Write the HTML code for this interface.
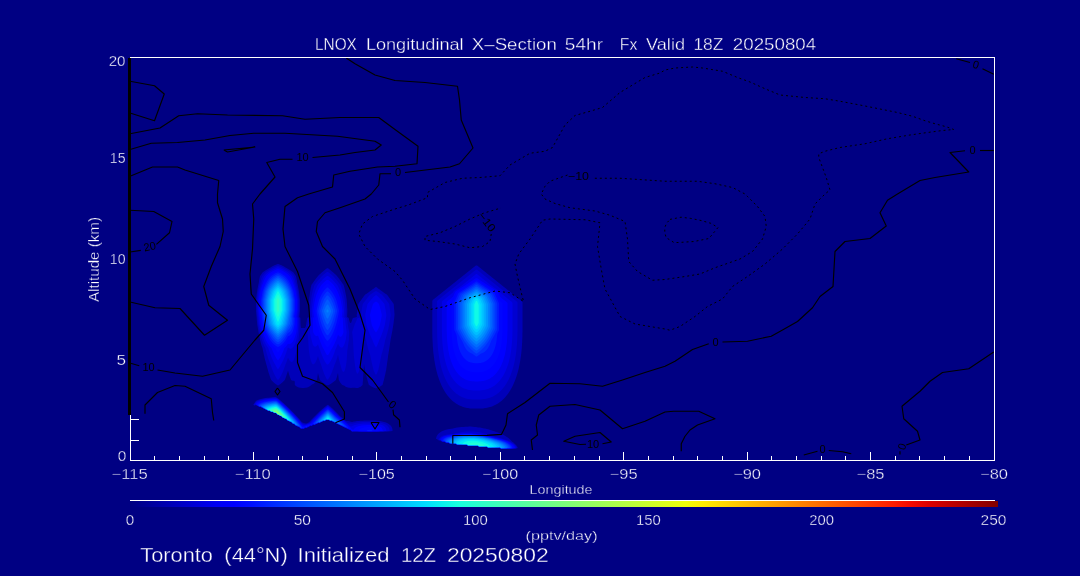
<!DOCTYPE html><html><head><meta charset="utf-8"><title>LNOX Longitudinal X-Section</title><style>html,body{margin:0;padding:0;background:#000083;}svg{display:block}text{font-family:"Liberation Sans",Arial,sans-serif;fill:#fff}.w{stroke:#000083;stroke-width:0.35px}</style></head><body>
<svg width="1080" height="576" viewBox="0 0 1080 576">
<rect width="1080" height="576" fill="#000083"/>
<g id="field"><path fill="#0000b9" fill-rule="evenodd" d="M276.0 264.7L277.0 264.3L278.0 264.0L279.0 264.3L280.0 264.7L280.8 265.0L281.0 265.1L282.0 265.6L282.9 266.0L283.0 266.1L284.0 266.6L284.7 267.0L285.0 267.2L286.0 267.7L286.4 268.0L287.0 268.3L288.0 268.9L288.1 269.0L289.0 269.5L289.8 270.0L290.0 270.1L291.0 270.8L291.4 271.0L292.0 271.4L293.0 272.0L293.0 272.0L293.8 273.0L294.0 273.3L294.5 274.0L295.0 274.7L295.2 275.0L295.9 276.0L296.0 276.2L296.2 277.0L296.4 278.0L296.6 279.0L296.8 280.0L297.0 281.0L297.0 281.3L297.1 282.0L297.2 283.0L297.5 284.0L297.7 285.0L297.9 286.0L298.0 286.6L298.1 287.0L298.3 288.0L298.5 289.0L298.7 290.0L298.8 291.0L299.0 292.0L299.0 292.1L299.1 293.0L299.3 294.0L299.4 295.0L299.5 296.0L299.6 297.0L299.8 298.0L299.9 299.0L300.0 299.7L300.0 300.0L300.0 301.0L300.0 302.0L300.0 303.0L300.0 304.0L300.0 305.0L300.0 306.0L300.0 307.0L300.0 308.0L300.0 309.0L300.0 310.0L300.0 310.5L300.0 311.0L299.9 312.0L299.8 313.0L299.7 314.0L299.6 315.0L299.5 316.0L299.4 317.0L300.0 317.6L300.4 318.0L300.4 319.0L300.4 320.0L300.5 321.0L300.5 322.0L300.5 323.0L300.6 324.0L300.6 325.0L300.7 326.0L300.8 327.0L301.0 328.0L301.0 328.1L302.0 328.0L303.0 328.0L304.0 328.0L305.0 328.1L305.0 328.0L305.6 327.0L305.9 326.0L306.0 325.7L306.1 325.0L306.3 324.0L306.4 323.0L306.6 322.0L306.8 321.0L306.9 320.0L307.0 319.3L307.1 319.0L307.2 318.0L308.0 317.5L308.8 317.0L308.7 316.0L308.7 315.0L308.6 314.0L308.6 313.0L308.5 312.0L308.5 311.0L308.6 310.0L308.6 309.0L308.7 308.0L308.7 307.0L308.8 306.0L308.8 305.0L308.9 304.0L309.0 303.0L309.0 302.3L309.0 302.0L309.1 301.0L309.2 300.0L309.2 299.0L309.3 298.0L309.4 297.0L309.6 296.0L309.7 295.0L309.8 294.0L309.9 293.0L310.0 292.5L310.1 292.0L310.2 291.0L310.4 290.0L310.6 289.0L310.7 288.0L310.9 287.0L311.0 286.8L311.2 286.0L311.4 285.0L312.0 284.1L312.1 284.0L312.8 283.0L313.0 282.7L313.5 282.0L314.0 281.3L314.2 281.0L315.0 280.0L315.0 279.9L315.7 279.0L316.0 278.6L316.5 278.0L317.0 277.3L317.3 277.0L318.0 276.1L318.1 276.0L318.9 275.0L319.0 274.9L320.0 274.1L320.1 274.0L321.0 273.2L321.2 273.0L322.0 272.3L322.4 272.0L323.0 271.5L323.6 271.0L324.0 270.6L324.8 270.0L325.0 269.8L326.0 269.0L326.0 269.0L327.0 268.3L328.0 268.3L329.0 269.0L329.0 269.0L330.0 269.8L330.2 270.0L331.0 270.6L331.4 271.0L332.0 271.5L332.6 272.0L333.0 272.3L333.8 273.0L334.0 273.2L334.9 274.0L335.0 274.1L336.0 274.9L336.1 275.0L336.9 276.0L337.0 276.1L337.7 277.0L338.0 277.3L338.5 278.0L339.0 278.6L339.3 279.0L340.0 279.9L340.0 280.0L340.8 281.0L341.0 281.3L341.5 282.0L342.0 282.7L342.2 283.0L342.9 284.0L343.0 284.1L343.6 285.0L343.9 286.0L344.0 286.4L344.2 287.0L344.4 288.0L344.7 289.0L344.9 290.0L345.0 290.5L345.1 291.0L345.3 292.0L345.5 293.0L345.7 294.0L345.9 295.0L346.0 295.5L346.1 296.0L346.3 297.0L346.4 298.0L346.6 299.0L346.7 300.0L346.7 301.0L346.8 302.0L346.9 303.0L347.0 304.0L347.0 304.6L347.0 305.0L347.1 306.0L347.1 307.0L347.2 308.0L347.3 309.0L347.3 310.0L347.4 311.0L347.3 312.0L347.3 313.0L347.2 314.0L347.2 315.0L347.1 316.0L347.1 317.0L348.0 317.6L348.8 318.0L348.9 319.0L349.0 319.6L349.1 320.0L349.4 321.0L349.7 322.0L350.0 322.8L351.0 323.0L351.4 322.0L351.8 321.0L352.0 320.4L352.1 320.0L352.5 319.0L352.9 318.0L353.0 318.0L354.0 317.7L355.0 317.5L356.0 317.2L356.9 317.0L356.8 316.0L356.7 315.0L356.9 314.0L357.0 313.1L357.0 313.0L357.2 312.0L357.3 311.0L357.4 310.0L357.6 309.0L357.7 308.0L357.9 307.0L358.0 306.1L358.0 306.0L358.2 305.0L358.3 304.0L359.0 303.0L359.0 303.0L359.7 302.0L360.0 301.6L360.4 301.0L361.0 300.2L361.2 300.0L361.9 299.0L362.0 298.8L362.6 298.0L363.0 297.4L363.3 297.0L364.0 296.1L364.0 296.0L364.8 295.0L365.0 294.8L366.0 294.1L366.2 294.0L367.0 293.4L367.6 293.0L368.0 292.7L369.0 292.0L369.0 292.0L370.0 291.3L370.4 291.0L371.0 290.6L371.8 290.0L372.0 289.8L373.0 289.1L373.1 289.0L374.0 288.4L374.5 288.0L375.0 287.6L376.0 287.0L377.0 287.6L377.5 288.0L378.0 288.4L378.9 289.0L379.0 289.1L380.0 289.8L380.2 290.0L381.0 290.6L381.6 291.0L382.0 291.3L383.0 292.0L383.0 292.0L384.0 292.7L384.4 293.0L385.0 293.4L385.8 294.0L386.0 294.1L387.0 294.8L387.2 295.0L388.0 296.0L388.0 296.1L388.7 297.0L389.0 297.4L389.4 298.0L390.0 298.8L390.1 299.0L390.8 300.0L391.0 300.2L391.6 301.0L392.0 301.6L392.3 302.0L393.0 303.0L393.0 303.0L393.7 304.0L393.8 305.0L393.9 306.0L393.9 307.0L394.0 307.8L394.0 308.0L394.1 309.0L394.2 310.0L394.3 311.0L394.3 312.0L394.4 313.0L394.5 314.0L394.5 315.0L394.4 316.0L394.3 317.0L394.2 318.0L394.1 319.0L394.0 319.4L393.9 320.0L393.8 321.0L393.7 322.0L393.6 323.0L393.4 324.0L393.3 325.0L393.1 326.0L393.0 326.8L393.0 327.0L392.8 328.0L392.6 329.0L392.5 330.0L392.3 331.0L392.1 332.0L392.0 332.5L391.9 333.0L391.7 334.0L391.5 335.0L391.3 336.0L391.1 337.0L391.0 337.6L390.9 338.0L390.7 339.0L390.5 340.0L390.4 341.0L390.2 342.0L390.1 343.0L390.0 343.8L390.0 344.0L389.8 345.0L389.7 346.0L389.5 347.0L389.4 348.0L389.2 349.0L389.1 350.0L389.0 350.5L388.9 351.0L388.7 352.0L388.6 353.0L388.4 354.0L388.2 355.0L388.1 356.0L388.0 356.6L388.0 357.0L387.8 358.0L387.7 359.0L387.6 360.0L387.4 361.0L387.3 362.0L387.1 363.0L387.0 364.0L387.0 364.1L386.9 365.0L386.7 366.0L386.6 367.0L386.4 368.0L386.3 369.0L386.2 370.0L386.0 370.8L385.9 371.0L385.7 372.0L385.5 373.0L385.3 374.0L385.1 375.0L385.0 375.3L384.8 376.0L384.6 377.0L384.4 378.0L384.1 379.0L384.0 379.5L383.9 380.0L383.6 381.0L383.3 382.0L383.1 383.0L383.0 383.2L382.8 384.0L382.5 385.0L382.0 385.3L381.0 386.0L381.0 386.0L380.0 386.6L379.3 387.0L379.0 387.1L378.0 387.6L377.1 388.0L377.0 388.1L376.0 388.4L375.0 388.1L374.8 388.0L374.0 387.7L373.0 387.2L372.5 387.0L372.0 386.8L371.0 386.2L370.6 386.0L370.0 385.6L369.0 385.0L368.9 385.0L368.6 384.0L368.3 383.0L368.0 382.0L368.0 382.0L367.7 381.0L367.4 380.0L367.2 379.0L367.0 378.4L366.9 378.0L366.6 377.0L366.4 376.0L366.1 375.0L366.0 374.5L365.9 374.0L365.6 373.0L365.4 372.0L365.2 371.0L365.0 370.2L365.0 370.0L364.8 369.0L364.7 368.0L364.5 367.0L364.3 366.0L364.2 365.0L364.0 364.0L364.0 363.7L364.0 364.0L363.9 365.0L363.9 366.0L363.8 367.0L363.8 368.0L363.7 369.0L363.7 370.0L363.6 371.0L363.5 372.0L363.5 373.0L363.4 374.0L363.3 375.0L363.2 376.0L363.2 377.0L363.1 378.0L363.0 379.0L363.0 379.7L363.0 380.0L362.9 381.0L362.8 382.0L362.7 383.0L362.7 384.0L362.6 385.0L362.0 385.6L361.5 386.0L361.0 386.5L360.2 387.0L360.0 387.1L359.0 387.6L358.0 387.9L357.2 388.0L357.0 388.0L356.5 388.0L356.0 388.0L355.0 387.8L354.0 387.7L353.0 387.8L352.0 387.8L351.0 387.9L350.0 387.8L349.0 387.8L348.0 387.6L347.0 387.3L346.3 387.0L346.0 386.9L345.0 386.2L344.8 386.0L344.0 385.4L343.0 385.2L342.5 385.0L342.0 384.7L341.4 384.0L341.0 383.6L340.6 383.0L340.0 382.2L339.9 382.0L339.4 381.0L339.0 380.3L338.8 380.0L338.7 379.0L338.6 378.0L338.5 377.0L338.4 376.0L338.3 375.0L338.1 374.0L338.0 373.0L338.0 372.9L338.0 373.0L337.7 374.0L337.4 375.0L337.2 376.0L337.0 376.5L336.9 377.0L336.6 378.0L336.2 379.0L336.0 379.7L335.9 380.0L335.0 380.8L334.7 381.0L334.0 381.6L333.4 382.0L333.0 382.3L332.0 383.0L332.0 383.0L331.0 383.7L330.5 384.0L330.0 384.3L329.0 384.9L328.7 385.0L328.0 385.3L327.0 385.3L326.4 385.0L326.0 384.8L325.0 384.2L324.7 384.0L324.0 383.5L323.3 383.0L323.0 382.8L322.1 382.0L322.0 381.9L321.0 381.0L320.9 381.0L320.0 380.1L319.9 380.0L319.6 379.0L319.3 378.0L319.0 377.0L319.0 376.9L318.8 376.0L318.5 375.0L318.2 374.0L318.0 373.0L317.8 374.0L317.7 375.0L317.5 376.0L317.4 377.0L317.2 378.0L317.1 379.0L317.0 379.4L316.9 380.0L316.2 381.0L316.0 381.3L315.4 382.0L315.0 382.5L314.5 383.0L314.0 383.5L313.1 384.0L313.0 384.1L312.0 384.4L311.3 385.0L311.0 385.2L310.0 386.0L310.0 386.0L309.0 386.7L308.3 387.0L308.0 387.2L307.0 387.5L306.0 387.7L305.0 387.8L304.0 387.9L303.0 387.9L302.0 387.9L301.0 387.8L300.0 387.7L299.0 387.5L298.0 387.2L297.7 387.0L297.0 386.7L296.0 386.0L296.0 386.0L295.0 385.2L294.8 385.0L294.8 384.0L294.8 383.0L294.8 382.0L294.5 381.0L294.0 380.7L293.0 380.8L292.0 380.5L291.0 380.0L291.0 379.9L290.7 379.0L290.3 378.0L290.0 377.3L289.9 377.0L289.6 376.0L289.3 375.0L289.0 374.2L289.0 374.0L288.7 373.0L288.4 372.0L288.1 371.0L288.0 370.5L287.9 371.0L287.6 372.0L287.3 373.0L287.0 373.8L286.9 374.0L286.6 375.0L286.3 376.0L286.0 376.8L285.9 377.0L285.6 378.0L285.2 379.0L285.0 379.5L284.8 380.0L284.0 380.8L283.8 381.0L283.0 381.8L282.8 382.0L282.0 382.7L281.7 383.0L281.0 383.6L280.5 384.0L280.0 384.3L279.0 385.0L279.0 385.0L278.0 385.5L277.0 385.0L277.0 385.0L276.0 384.3L275.5 384.0L275.0 383.6L274.3 383.0L274.0 382.7L273.2 382.0L273.0 381.8L272.2 381.0L272.0 380.8L271.2 380.0L271.0 379.5L270.8 379.0L270.4 378.0L270.1 377.0L270.0 376.8L269.7 376.0L269.4 375.0L269.1 374.0L269.0 373.8L268.7 373.0L268.4 372.0L268.1 371.0L268.0 370.5L267.9 370.0L267.6 369.0L267.3 368.0L267.0 367.0L267.0 366.8L266.8 366.0L266.5 365.0L266.2 364.0L266.0 363.2L265.9 363.0L265.7 362.0L265.4 361.0L265.1 360.0L265.0 359.5L264.9 359.0L264.6 358.0L264.4 357.0L264.2 356.0L264.0 355.3L263.9 355.0L263.7 354.0L263.5 353.0L263.3 352.0L263.1 351.0L263.0 350.7L262.9 350.0L262.7 349.0L262.5 348.0L262.1 347.0L262.0 346.8L261.7 346.0L261.4 345.0L261.1 344.0L261.0 343.7L260.8 343.0L260.6 342.0L260.3 341.0L260.1 340.0L260.0 339.6L259.9 339.0L259.7 338.0L259.5 337.0L259.3 336.0L259.1 335.0L259.0 334.5L258.9 334.0L258.7 333.0L258.5 332.0L258.3 331.0L258.2 330.0L258.0 329.1L258.0 329.0L257.8 328.0L257.7 327.0L257.5 326.0L257.3 325.0L257.2 324.0L257.1 323.0L257.0 322.0L257.0 321.8L256.9 321.0L256.8 320.0L256.7 319.0L256.7 318.0L256.6 317.0L256.5 316.0L256.4 315.0L256.3 314.0L256.2 313.0L256.1 312.0L256.0 311.0L256.0 310.5L256.0 310.0L256.0 309.0L256.0 308.0L256.0 307.0L256.0 306.0L256.0 305.0L256.0 304.0L256.0 303.0L256.0 302.0L256.0 301.0L256.0 300.0L256.0 299.7L256.1 299.0L256.2 298.0L256.4 297.0L256.5 296.0L256.6 295.0L256.7 294.0L256.9 293.0L257.0 292.1L257.0 292.0L257.2 291.0L257.3 290.0L257.5 289.0L257.7 288.0L257.9 287.0L258.0 286.6L258.1 286.0L258.3 285.0L258.5 284.0L258.8 283.0L258.9 282.0L259.0 281.3L259.0 281.0L259.2 280.0L259.4 279.0L259.6 278.0L259.8 277.0L260.0 276.2L260.1 276.0L260.8 275.0L261.0 274.7L261.5 274.0L262.0 273.3L262.2 273.0L263.0 272.0L263.0 272.0L264.0 271.4L264.6 271.0L265.0 270.8L266.0 270.1L266.2 270.0L267.0 269.5L267.9 269.0L268.0 268.9L269.0 268.3L269.6 268.0L270.0 267.7L271.0 267.2L271.3 267.0L272.0 266.6L273.0 266.1L273.1 266.0L274.0 265.6L275.0 265.1L275.2 265.0ZM476.0 265.4L477.0 265.4L477.8 266.0L478.0 266.2L479.0 267.0L479.0 267.0L480.0 267.8L480.2 268.0L481.0 268.6L481.5 269.0L482.0 269.4L482.8 270.0L483.0 270.2L484.0 271.0L484.0 271.0L485.0 271.8L485.2 272.0L486.0 272.6L486.5 273.0L487.0 273.4L487.8 274.0L488.0 274.2L489.0 275.0L489.0 275.0L490.0 275.8L490.2 276.0L491.0 276.6L491.5 277.0L492.0 277.4L492.8 278.0L493.0 278.2L494.0 279.0L494.0 279.0L495.0 279.8L495.2 280.0L496.0 280.6L496.5 281.0L497.0 281.4L497.8 282.0L498.0 282.2L499.0 283.0L499.0 283.0L500.0 283.8L500.2 284.0L501.0 284.6L501.5 285.0L502.0 285.4L502.8 286.0L503.0 286.2L504.0 287.0L504.0 287.0L505.0 287.8L505.2 288.0L506.0 288.6L506.5 289.0L507.0 289.4L507.8 290.0L508.0 290.2L509.0 291.0L509.0 291.0L510.0 291.8L510.2 292.0L511.0 292.6L511.5 293.0L512.0 293.4L512.8 294.0L513.0 294.2L514.0 295.0L514.0 295.0L515.0 295.8L515.2 296.0L516.0 296.6L516.5 297.0L517.0 297.4L517.8 298.0L518.0 298.2L519.0 299.0L519.0 299.0L520.0 299.8L520.2 300.0L521.0 300.6L521.5 301.0L522.0 301.5L522.5 302.0L522.5 303.0L522.5 304.0L522.5 305.0L522.5 306.0L522.5 307.0L522.5 308.0L522.5 309.0L522.5 310.0L522.5 311.0L522.5 312.0L522.5 313.0L522.5 314.0L522.5 315.0L522.5 316.0L522.5 317.0L522.5 318.0L522.5 319.0L522.5 320.0L522.5 321.0L522.5 322.0L522.5 323.0L522.5 324.0L522.5 325.0L522.5 326.0L522.5 327.0L522.5 328.0L522.5 329.0L522.5 330.0L522.5 331.0L522.5 332.0L522.4 333.0L522.4 334.0L522.4 335.0L522.4 336.0L522.4 337.0L522.3 338.0L522.3 339.0L522.2 340.0L522.2 341.0L522.2 342.0L522.1 343.0L522.0 344.0L522.0 344.7L522.0 345.0L521.9 346.0L521.8 347.0L521.8 348.0L521.7 349.0L521.6 350.0L521.5 351.0L521.4 352.0L521.3 353.0L521.2 354.0L521.0 355.0L521.0 355.4L520.9 356.0L520.8 357.0L520.6 358.0L520.5 359.0L520.3 360.0L520.2 361.0L520.0 362.0L520.0 362.0L519.8 363.0L519.6 364.0L519.4 365.0L519.2 366.0L519.0 367.0L519.0 367.1L518.8 368.0L518.6 369.0L518.3 370.0L518.1 371.0L518.0 371.2L517.8 372.0L517.5 373.0L517.2 374.0L517.0 374.7L516.9 375.0L516.6 376.0L516.3 377.0L516.0 377.8L515.9 378.0L515.6 379.0L515.2 380.0L515.0 380.5L514.8 381.0L514.4 382.0L514.0 383.0L514.0 383.0L513.5 384.0L513.1 385.0L513.0 385.2L512.6 386.0L512.1 387.0L512.0 387.2L511.6 388.0L511.0 389.0L511.0 389.0L510.4 390.0L510.0 390.7L509.8 391.0L509.2 392.0L509.0 392.3L508.5 393.0L508.0 393.7L507.8 394.0L507.0 395.0L507.0 395.1L506.2 396.0L506.0 396.3L505.4 397.0L505.0 397.4L504.5 398.0L504.0 398.5L503.5 399.0L503.0 399.5L502.4 400.0L502.0 400.4L501.3 401.0L501.0 401.2L500.0 402.0L500.0 402.0L499.0 402.7L498.6 403.0L498.0 403.4L497.0 404.0L497.0 404.0L496.0 404.6L495.2 405.0L495.0 405.1L494.0 405.6L493.0 406.0L493.0 406.0L492.0 406.4L491.0 406.7L490.2 407.0L490.0 407.1L489.0 407.3L488.0 407.6L487.0 407.8L486.0 408.0L485.9 408.0L485.0 408.1L484.0 408.3L483.0 408.4L482.0 408.5L481.0 408.5L480.0 408.6L479.0 408.6L478.0 408.6L477.0 408.6L476.0 408.6L475.0 408.6L474.0 408.6L473.0 408.6L472.0 408.5L471.0 408.5L470.0 408.4L469.0 408.2L468.0 408.1L467.5 408.0L467.0 407.9L466.0 407.7L465.0 407.5L464.0 407.2L463.4 407.0L463.0 406.9L462.0 406.5L461.0 406.1L460.7 406.0L460.0 405.7L459.0 405.2L458.5 405.0L458.0 404.7L457.0 404.1L456.8 404.0L456.0 403.5L455.3 403.0L455.0 402.8L454.0 402.1L453.9 402.0L453.0 401.3L452.7 401.0L452.0 400.4L451.6 400.0L451.0 399.5L450.6 399.0L450.0 398.4L449.6 398.0L449.0 397.3L448.7 397.0L448.0 396.1L447.9 396.0L447.1 395.0L447.0 394.8L446.4 394.0L446.0 393.4L445.7 393.0L445.1 392.0L445.0 391.9L444.5 391.0L444.0 390.2L443.9 390.0L443.3 389.0L443.0 388.4L442.8 388.0L442.3 387.0L442.0 386.4L441.8 386.0L441.3 385.0L441.0 384.3L440.9 384.0L440.5 383.0L440.0 382.0L440.0 381.9L439.7 381.0L439.3 380.0L439.0 379.2L438.9 379.0L438.6 378.0L438.3 377.0L438.0 376.2L437.9 376.0L437.6 375.0L437.3 374.0L437.1 373.0L437.0 372.8L436.8 372.0L436.5 371.0L436.3 370.0L436.1 369.0L436.0 368.7L435.8 368.0L435.6 367.0L435.4 366.0L435.2 365.0L435.0 364.0L435.0 363.9L434.8 363.0L434.7 362.0L434.5 361.0L434.3 360.0L434.2 359.0L434.1 358.0L434.0 357.6L433.9 357.0L433.8 356.0L433.7 355.0L433.5 354.0L433.4 353.0L433.3 352.0L433.2 351.0L433.1 350.0L433.1 349.0L433.0 348.3L433.0 348.0L432.9 347.0L432.8 346.0L432.8 345.0L432.7 344.0L432.7 343.0L432.6 342.0L432.6 341.0L432.5 340.0L432.5 339.0L432.4 338.0L432.4 337.0L432.4 336.0L432.4 335.0L432.3 334.0L432.3 333.0L432.3 332.0L432.3 331.0L432.3 330.0L432.3 329.0L432.3 328.0L432.3 327.0L432.3 326.0L432.3 325.0L432.3 324.0L432.3 323.0L432.3 322.0L432.3 321.0L432.3 320.0L432.3 319.0L432.3 318.0L432.3 317.0L432.3 316.0L432.3 315.0L432.3 314.0L432.3 313.0L432.3 312.0L432.3 311.0L432.3 310.0L432.3 309.0L432.3 308.0L432.3 307.0L432.3 306.0L432.3 305.0L432.3 304.0L432.3 303.0L432.3 302.0L432.3 301.0L432.8 300.0L433.0 299.8L434.0 299.0L434.0 299.0L435.0 298.2L435.2 298.0L436.0 297.4L436.5 297.0L437.0 296.6L437.8 296.0L438.0 295.8L439.0 295.0L439.0 295.0L440.0 294.2L440.2 294.0L441.0 293.4L441.5 293.0L442.0 292.6L442.8 292.0L443.0 291.8L444.0 291.0L444.0 291.0L445.0 290.2L445.2 290.0L446.0 289.4L446.5 289.0L447.0 288.6L447.8 288.0L448.0 287.8L449.0 287.0L449.0 287.0L450.0 286.2L450.2 286.0L451.0 285.4L451.5 285.0L452.0 284.6L452.8 284.0L453.0 283.8L454.0 283.0L454.0 283.0L455.0 282.2L455.2 282.0L456.0 281.4L456.5 281.0L457.0 280.6L457.8 280.0L458.0 279.8L459.0 279.0L459.0 279.0L460.0 278.2L460.2 278.0L461.0 277.4L461.5 277.0L462.0 276.6L462.8 276.0L463.0 275.8L464.0 275.0L464.0 275.0L465.0 274.2L465.2 274.0L466.0 273.4L466.5 273.0L467.0 272.6L467.8 272.0L468.0 271.8L469.0 271.0L469.0 271.0L470.0 270.2L470.2 270.0L471.0 269.4L471.5 269.0L472.0 268.6L472.8 268.0L473.0 267.8L474.0 267.0L474.0 267.0L475.0 266.2L475.2 266.0ZM266.0 397.9L267.0 397.8L268.0 397.7L269.0 397.7L270.0 397.6L271.0 397.4L272.0 397.3L273.0 397.2L274.0 397.2L275.0 397.1L276.0 397.2L277.0 397.7L277.5 398.0L278.0 398.4L278.8 399.0L279.0 399.2L280.0 400.0L280.0 400.0L281.0 400.9L281.1 401.0L282.0 401.8L282.3 402.0L283.0 402.7L283.4 403.0L284.0 403.6L284.5 404.0L285.0 404.5L285.5 405.0L286.0 405.4L286.6 406.0L287.0 406.4L287.7 407.0L288.0 407.3L288.7 408.0L289.0 408.3L289.7 409.0L290.0 409.3L290.7 410.0L291.0 410.3L291.7 411.0L292.0 411.3L292.7 412.0L293.0 412.3L293.7 413.0L294.0 413.3L294.6 414.0L295.0 414.4L295.6 415.0L296.0 415.5L296.5 416.0L297.0 416.6L297.4 417.0L298.0 417.7L298.3 418.0L299.0 418.8L299.2 419.0L300.0 420.0L300.0 420.0L300.9 421.0L301.0 421.1L301.7 422.0L302.0 422.3L303.0 422.8L303.9 423.0L304.0 423.0L305.0 423.3L306.0 423.4L307.0 423.2L307.6 423.0L308.0 422.8L309.0 422.3L309.3 422.0L310.0 421.3L310.2 421.0L311.0 420.1L311.1 420.0L312.0 419.1L312.1 419.0L313.0 418.0L313.0 418.0L314.0 417.0L314.0 417.0L315.0 416.0L315.0 416.0L316.0 415.0L316.0 415.0L317.0 414.0L317.0 414.0L318.0 413.0L318.0 413.0L319.0 412.1L319.1 412.0L320.0 411.1L320.2 411.0L321.0 410.2L321.3 410.0L322.0 409.3L322.4 409.0L323.0 408.5L323.6 408.0L324.0 407.6L324.8 407.0L325.0 406.8L326.0 406.0L326.0 406.0L327.0 405.3L327.5 405.0L328.0 404.8L328.3 405.0L329.0 405.5L329.6 406.0L330.0 406.3L330.8 407.0L331.0 407.2L331.9 408.0L332.0 408.1L333.0 409.0L333.0 409.0L334.0 409.9L334.1 410.0L335.0 410.9L335.1 411.0L336.0 411.9L336.1 412.0L337.0 412.9L337.1 413.0L338.0 414.0L338.0 414.0L338.9 415.0L339.0 415.1L339.8 416.0L340.0 416.1L341.0 417.0L341.1 417.0L342.0 417.8L342.3 418.0L343.0 418.6L343.5 419.0L344.0 419.4L344.7 420.0L345.0 420.2L346.0 420.9L347.0 420.9L347.7 421.0L348.0 421.0L349.0 421.2L350.0 421.4L351.0 421.7L352.0 421.9L353.0 421.7L354.0 421.6L355.0 421.4L356.0 421.3L357.0 421.1L358.0 421.0L358.1 421.0L359.0 420.9L360.0 420.8L361.0 420.8L362.0 420.7L363.0 420.7L364.0 420.6L365.0 420.6L366.0 420.6L367.0 420.6L368.0 420.5L369.0 420.5L370.0 420.5L371.0 420.5L372.0 420.6L373.0 420.6L374.0 420.6L375.0 420.6L376.0 420.7L377.0 420.8L378.0 420.9L379.0 421.0L379.2 421.0L380.0 421.1L381.0 421.3L382.0 421.5L383.0 421.7L384.0 421.9L384.2 422.0L385.0 422.3L386.0 422.6L386.9 423.0L387.0 423.0L388.0 423.6L388.8 424.0L389.0 424.2L390.0 424.9L390.1 425.0L391.0 426.0L391.0 426.0L391.7 427.0L392.0 427.7L392.1 428.0L392.4 429.0L392.5 430.0L392.5 431.0L392.0 431.1L391.0 431.2L390.0 431.3L389.0 431.4L388.0 431.4L387.0 431.5L386.0 431.5L385.0 431.5L384.0 431.6L383.0 431.6L382.0 431.6L381.0 431.6L380.0 431.6L379.0 431.7L378.0 431.7L377.0 431.7L376.0 431.7L375.0 431.7L374.0 431.7L373.0 431.7L372.0 431.7L371.0 431.7L370.0 431.7L369.0 431.7L368.0 431.7L367.0 431.7L366.0 431.7L365.0 431.7L364.0 431.7L363.0 431.7L362.0 431.7L361.0 431.7L360.0 431.7L359.0 431.7L358.0 431.7L357.0 431.6L356.0 431.6L355.0 431.6L354.0 431.6L353.0 431.6L352.0 431.7L351.3 431.0L351.0 430.7L350.3 430.0L350.0 429.7L349.0 429.7L348.3 429.0L348.0 428.7L347.0 428.8L346.2 428.0L346.0 427.8L345.0 427.8L344.2 427.0L344.0 426.8L343.0 426.8L342.2 426.0L342.0 425.8L341.0 425.8L340.2 425.0L340.0 424.8L339.0 424.8L338.2 424.0L338.0 423.8L337.0 423.8L336.2 423.0L336.0 422.8L335.0 422.9L334.1 422.0L334.0 421.9L333.0 421.9L332.1 421.0L332.0 420.9L331.0 420.9L330.0 420.9L329.1 420.0L329.0 419.9L328.0 419.9L327.0 419.9L326.0 419.9L325.9 420.0L325.0 420.9L324.0 420.9L323.0 420.9L322.9 421.0L322.0 421.9L321.0 421.9L320.8 422.0L320.0 422.8L319.0 422.8L318.0 422.8L317.8 423.0L317.0 423.8L316.0 423.8L315.8 424.0L315.0 424.8L314.0 424.8L313.0 424.7L312.7 425.0L312.0 425.7L311.0 425.7L310.0 425.7L309.7 426.0L309.0 426.7L308.0 426.7L307.8 427.0L307.0 427.8L306.0 427.7L305.0 427.7L304.8 428.0L304.0 428.8L303.0 428.7L302.0 428.8L301.0 428.8L300.2 428.0L300.0 427.8L299.2 427.0L299.0 426.8L298.0 426.8L297.2 426.0L297.0 425.8L296.0 425.8L295.2 425.0L295.0 424.9L294.1 424.0L294.0 423.9L293.0 423.9L292.1 423.0L292.0 422.9L291.1 422.0L291.0 421.9L290.0 421.9L289.1 421.0L289.0 420.9L288.0 420.9L287.1 420.0L287.0 419.9L286.1 419.0L286.0 418.9L285.0 418.9L284.1 418.0L284.0 417.9L283.0 417.9L282.1 417.0L282.0 416.9L281.1 416.0L281.0 415.9L280.0 415.9L279.1 415.0L279.0 414.9L278.0 414.9L277.1 414.0L277.0 413.9L276.1 413.0L276.0 412.9L275.0 412.9L274.0 412.9L273.1 412.0L273.0 411.9L272.0 411.9L271.0 411.9L270.1 411.0L270.0 410.9L269.0 410.9L268.0 410.9L267.1 410.0L267.0 409.9L266.0 409.9L265.1 409.0L265.0 408.9L264.0 408.9L263.1 408.0L263.0 407.8L262.0 407.8L261.2 407.0L261.0 406.8L260.0 406.8L259.0 406.8L258.2 406.0L258.0 405.7L257.0 405.7L256.3 405.0L256.0 404.6L255.5 405.0L255.0 405.5L254.0 405.3L253.2 405.0L253.8 404.0L254.0 403.7L254.5 403.0L255.0 402.2L255.2 402.0L255.9 401.0L256.0 400.9L257.0 400.3L257.6 400.0L258.0 399.9L259.0 399.5L260.0 399.2L260.6 399.0L261.0 398.9L262.0 398.7L263.0 398.4L264.0 398.2L265.0 398.1L265.6 398.0ZM463.0 426.9L464.0 426.9L465.0 426.8L466.0 426.8L467.0 426.7L468.0 426.7L469.0 426.6L470.0 426.6L471.0 426.6L472.0 426.7L473.0 426.8L474.0 426.9L474.9 427.0L475.0 427.0L476.0 427.1L477.0 427.2L478.0 427.4L479.0 427.5L480.0 427.6L481.0 427.8L482.0 428.0L482.1 428.0L483.0 428.2L484.0 428.4L485.0 428.6L486.0 428.8L486.7 429.0L487.0 429.1L488.0 429.3L489.0 429.6L490.0 429.9L490.4 430.0L491.0 430.2L492.0 430.5L493.0 430.9L493.4 431.0L494.0 431.2L495.0 431.6L496.0 431.9L496.4 432.0L497.0 432.2L498.0 432.6L499.0 432.9L499.1 433.0L500.0 433.4L501.0 433.8L501.5 434.0L502.0 434.2L503.0 434.7L503.5 435.0L504.0 435.3L505.0 435.8L505.3 436.0L506.0 436.4L506.9 437.0L507.0 437.1L508.0 437.8L508.3 438.0L509.0 438.6L509.5 439.0L510.0 439.5L510.6 440.0L511.0 440.4L511.5 441.0L512.0 441.6L512.3 442.0L513.0 442.1L513.8 443.0L514.0 443.1L514.8 444.0L515.0 444.1L515.9 445.0L516.0 445.1L516.8 446.0L517.0 446.4L517.5 447.0L517.7 448.0L517.0 448.3L516.0 448.5L515.0 448.6L514.0 448.6L513.0 448.7L512.0 448.7L511.0 448.8L510.0 448.8L509.0 448.8L508.0 448.8L507.0 448.8L506.0 448.8L505.0 448.8L504.0 448.8L503.0 448.9L502.0 448.9L501.0 448.9L500.1 448.0L500.0 447.9L499.0 447.9L498.0 447.9L497.0 447.9L496.0 447.9L495.0 447.9L494.0 447.9L493.0 447.9L492.0 447.9L491.0 447.9L490.0 447.9L489.0 447.9L488.0 447.9L487.1 447.0L487.0 446.9L486.0 446.9L485.0 446.9L484.0 446.9L483.0 446.9L482.0 446.9L481.0 446.9L480.0 446.9L479.0 446.9L478.1 446.0L478.0 445.9L477.0 445.9L476.0 445.9L475.0 445.9L474.0 445.9L473.0 445.9L472.0 445.9L471.0 445.9L470.0 445.9L469.0 445.9L468.0 445.9L467.1 445.0L467.0 444.9L466.0 444.9L465.0 444.9L464.0 444.9L463.0 444.9L462.0 444.9L461.0 444.9L460.0 444.9L459.0 444.9L458.0 444.9L457.0 444.9L456.1 444.0L456.0 443.9L455.0 443.9L454.0 443.9L453.0 443.9L452.0 443.9L451.0 443.9L450.0 443.8L449.2 443.0L449.0 442.8L448.0 442.8L447.0 442.8L446.0 442.8L445.2 442.0L445.0 441.8L444.0 441.8L443.0 441.7L442.0 441.7L441.3 441.0L441.0 440.6L440.0 440.6L439.0 440.4L438.0 440.1L437.9 440.0L437.0 439.0L436.0 439.0L436.2 438.0L436.4 437.0L436.8 436.0L437.0 435.7L437.4 435.0L438.0 434.3L438.2 434.0L439.0 433.3L439.3 433.0L440.0 432.5L440.7 432.0L441.0 431.8L442.0 431.3L442.5 431.0L443.0 430.8L444.0 430.4L445.0 430.0L445.1 430.0L446.0 429.7L447.0 429.5L448.0 429.3L449.0 429.1L449.4 429.0L450.0 428.9L451.0 428.8L452.0 428.7L453.0 428.4L454.0 428.2L454.9 428.0L455.0 428.0L456.0 427.8L457.0 427.6L458.0 427.5L459.0 427.3L460.0 427.2L461.0 427.1L462.0 427.0L462.0 427.0Z"/>
<path fill="#0000d1" fill-rule="evenodd" d="M277.0 266.0L278.0 265.7L279.0 266.0L279.1 266.0L280.0 266.4L281.0 266.8L281.4 267.0L282.0 267.3L283.0 267.8L283.4 268.0L284.0 268.3L285.0 268.9L285.2 269.0L286.0 269.4L287.0 270.0L287.0 270.0L288.0 270.6L288.7 271.0L289.0 271.2L290.0 271.8L290.3 272.0L291.0 272.7L291.3 273.0L292.0 273.8L292.2 274.0L293.0 275.0L293.0 275.0L293.8 276.0L294.0 276.4L294.2 277.0L294.6 278.0L294.9 279.0L295.0 279.5L295.1 280.0L295.4 281.0L295.6 282.0L295.8 283.0L296.0 283.7L296.1 284.0L296.4 285.0L296.6 286.0L296.9 287.0L297.0 287.6L297.1 288.0L297.3 289.0L297.5 290.0L297.8 291.0L297.9 292.0L298.0 292.6L298.1 293.0L298.2 294.0L298.3 295.0L298.5 296.0L298.6 297.0L298.8 298.0L298.9 299.0L299.0 299.6L299.0 300.0L299.0 301.0L299.0 302.0L299.0 303.0L299.0 304.0L299.0 305.0L299.0 306.0L299.0 307.0L299.0 308.0L299.0 309.0L299.0 310.0L299.0 310.5L299.0 311.0L298.9 312.0L298.8 313.0L298.7 314.0L298.6 315.0L298.5 316.0L298.4 317.0L299.0 317.7L299.3 318.0L299.3 319.0L299.4 320.0L299.4 321.0L299.4 322.0L299.4 323.0L299.4 324.0L299.4 325.0L299.4 326.0L299.4 327.0L299.4 328.0L299.4 329.0L299.4 330.0L299.4 331.0L299.4 332.0L299.3 333.0L299.1 334.0L299.0 335.0L299.0 335.1L298.9 336.0L298.8 337.0L298.6 338.0L298.5 339.0L298.4 340.0L298.2 341.0L298.1 342.0L298.0 342.7L298.0 343.0L297.8 344.0L297.6 345.0L297.4 346.0L297.2 347.0L297.0 347.9L297.0 348.0L296.8 349.0L296.6 350.0L296.4 351.0L296.2 352.0L296.0 352.8L296.0 353.0L295.7 354.0L295.4 355.0L295.2 356.0L295.0 356.7L294.9 357.0L294.5 358.0L294.2 359.0L294.0 359.5L293.7 360.0L293.1 361.0L293.0 361.2L292.0 361.9L291.0 361.8L290.0 361.1L290.0 361.0L289.3 360.0L289.0 359.6L288.7 359.0L288.2 358.0L288.0 357.7L287.9 358.0L287.6 359.0L287.2 360.0L287.0 360.7L286.9 361.0L286.5 362.0L286.1 363.0L286.0 363.3L285.7 364.0L285.3 365.0L285.0 366.0L285.0 366.0L284.6 367.0L284.3 368.0L284.0 368.8L283.9 369.0L283.5 370.0L283.1 371.0L283.0 371.3L282.7 372.0L282.3 373.0L282.0 373.6L281.8 374.0L281.3 375.0L281.0 375.6L280.8 376.0L280.2 377.0L280.0 377.4L279.6 378.0L279.0 378.9L278.9 379.0L278.0 380.0L277.1 379.0L277.0 378.9L276.4 378.0L276.0 377.4L275.8 377.0L275.2 376.0L275.0 375.6L274.7 375.0L274.2 374.0L274.0 373.6L273.7 373.0L273.3 372.0L273.0 371.3L272.9 371.0L272.5 370.0L272.1 369.0L272.0 368.8L271.7 368.0L271.4 367.0L271.0 366.0L271.0 366.0L270.7 365.0L270.3 364.0L270.0 363.3L269.9 363.0L269.5 362.0L269.1 361.0L269.0 360.7L268.8 360.0L268.4 359.0L268.1 358.0L268.0 357.7L267.8 357.0L267.5 356.0L267.2 355.0L267.0 354.4L266.9 354.0L266.6 353.0L266.4 352.0L266.1 351.0L266.0 350.7L265.8 350.0L265.6 349.0L265.3 348.0L265.0 347.4L264.8 347.0L264.3 346.0L264.0 345.5L263.8 345.0L263.4 344.0L263.0 343.0L263.0 343.0L262.6 342.0L262.3 341.0L262.0 340.0L262.0 340.0L261.7 339.0L261.4 338.0L261.2 337.0L261.0 336.3L260.9 336.0L260.7 335.0L260.4 334.0L260.2 333.0L260.0 332.3L259.9 332.0L259.7 331.0L259.5 330.0L259.3 329.0L259.1 328.0L259.0 327.7L258.9 327.0L258.7 326.0L258.5 325.0L258.3 324.0L258.2 323.0L258.1 322.0L258.0 321.0L258.0 320.9L257.9 320.0L257.8 319.0L257.7 318.0L257.6 317.0L257.5 316.0L257.4 315.0L257.3 314.0L257.2 313.0L257.1 312.0L257.0 311.0L257.0 310.5L257.0 310.0L257.0 309.0L257.0 308.0L257.0 307.0L257.0 306.0L257.0 305.0L257.0 304.0L257.0 303.0L257.0 302.0L257.0 301.0L257.0 300.0L257.0 299.6L257.1 299.0L257.2 298.0L257.4 297.0L257.5 296.0L257.7 295.0L257.8 294.0L257.9 293.0L258.0 292.6L258.1 292.0L258.2 291.0L258.5 290.0L258.7 289.0L258.9 288.0L259.0 287.6L259.1 287.0L259.4 286.0L259.6 285.0L259.9 284.0L260.0 283.7L260.2 283.0L260.4 282.0L260.6 281.0L260.9 280.0L261.0 279.5L261.1 279.0L261.4 278.0L261.8 277.0L262.0 276.4L262.2 276.0L263.0 275.0L263.0 275.0L263.8 274.0L264.0 273.8L264.7 273.0L265.0 272.7L265.7 272.0L266.0 271.8L267.0 271.2L267.3 271.0L268.0 270.6L269.0 270.0L269.0 270.0L270.0 269.4L270.8 269.0L271.0 268.9L272.0 268.3L272.6 268.0L273.0 267.8L274.0 267.3L274.6 267.0L275.0 266.8L276.0 266.4L276.9 266.0ZM476.0 269.7L477.0 269.7L477.3 270.0L478.0 270.5L478.6 271.0L479.0 271.3L479.8 272.0L480.0 272.1L481.0 272.9L481.1 273.0L482.0 273.7L482.3 274.0L483.0 274.5L483.6 275.0L484.0 275.3L484.8 276.0L485.0 276.1L486.0 276.9L486.1 277.0L487.0 277.7L487.3 278.0L488.0 278.5L488.6 279.0L489.0 279.3L489.8 280.0L490.0 280.1L491.0 280.9L491.1 281.0L492.0 281.7L492.3 282.0L493.0 282.5L493.6 283.0L494.0 283.3L494.8 284.0L495.0 284.1L496.0 284.9L496.1 285.0L497.0 285.7L497.3 286.0L498.0 286.5L498.6 287.0L499.0 287.3L499.8 288.0L500.0 288.1L501.0 288.9L501.1 289.0L502.0 289.7L502.3 290.0L503.0 290.5L503.6 291.0L504.0 291.3L504.8 292.0L505.0 292.1L506.0 292.9L506.1 293.0L507.0 293.7L507.3 294.0L508.0 294.5L508.6 295.0L509.0 295.3L509.8 296.0L510.0 296.1L511.0 296.9L511.1 297.0L512.0 297.7L512.3 298.0L513.0 298.5L513.6 299.0L514.0 299.3L514.8 300.0L515.0 300.1L516.0 300.9L516.1 301.0L517.0 301.7L517.3 302.0L517.5 303.0L517.5 304.0L517.5 305.0L517.5 306.0L517.5 307.0L517.5 308.0L517.5 309.0L517.5 310.0L517.5 311.0L517.5 312.0L517.5 313.0L517.5 314.0L517.5 315.0L517.5 316.0L517.5 317.0L517.5 318.0L517.5 319.0L517.5 320.0L517.5 321.0L517.5 322.0L517.5 323.0L517.5 324.0L517.5 325.0L517.5 326.0L517.5 327.0L517.5 328.0L517.5 329.0L517.5 330.0L517.5 331.0L517.5 332.0L517.4 333.0L517.4 334.0L517.4 335.0L517.4 336.0L517.3 337.0L517.3 338.0L517.2 339.0L517.2 340.0L517.1 341.0L517.1 342.0L517.0 343.0L517.0 343.4L517.0 344.0L516.9 345.0L516.8 346.0L516.7 347.0L516.6 348.0L516.5 349.0L516.4 350.0L516.3 351.0L516.2 352.0L516.0 353.0L516.0 353.3L515.9 354.0L515.8 355.0L515.6 356.0L515.4 357.0L515.3 358.0L515.1 359.0L515.0 359.5L514.9 360.0L514.7 361.0L514.5 362.0L514.3 363.0L514.0 364.0L514.0 364.2L513.8 365.0L513.5 366.0L513.3 367.0L513.0 368.0L513.0 368.0L512.7 369.0L512.4 370.0L512.1 371.0L512.0 371.2L511.7 372.0L511.4 373.0L511.0 374.0L511.0 374.0L510.6 375.0L510.2 376.0L510.0 376.5L509.8 377.0L509.3 378.0L509.0 378.7L508.9 379.0L508.4 380.0L508.0 380.7L507.8 381.0L507.3 382.0L507.0 382.5L506.7 383.0L506.1 384.0L506.0 384.2L505.4 385.0L505.0 385.7L504.8 386.0L504.0 387.0L504.0 387.0L503.2 388.0L503.0 388.3L502.4 389.0L502.0 389.4L501.5 390.0L501.0 390.5L500.5 391.0L500.0 391.5L499.4 392.0L499.0 392.4L498.3 393.0L498.0 393.2L497.0 394.0L496.9 394.0L496.0 394.7L495.5 395.0L495.0 395.3L494.0 395.9L493.7 396.0L493.0 396.4L492.0 396.9L491.7 397.0L491.0 397.3L490.0 397.7L489.0 398.0L489.0 398.0L488.0 398.3L487.0 398.5L486.0 398.8L485.0 399.0L484.7 399.0L484.0 399.1L483.0 399.2L482.0 399.3L481.0 399.4L480.0 399.5L479.0 399.5L478.0 399.5L477.0 399.5L476.0 399.5L475.0 399.5L474.0 399.5L473.0 399.5L472.0 399.4L471.0 399.3L470.0 399.2L469.0 399.1L468.6 399.0L468.0 398.9L467.0 398.7L466.0 398.4L465.0 398.2L464.5 398.0L464.0 397.8L463.0 397.5L462.0 397.0L461.9 397.0L461.0 396.6L460.0 396.0L459.9 396.0L459.0 395.5L458.3 395.0L458.0 394.8L457.0 394.1L456.8 394.0L456.0 393.4L455.6 393.0L455.0 392.5L454.4 392.0L454.0 391.6L453.4 391.0L453.0 390.6L452.5 390.0L452.0 389.5L451.6 389.0L451.0 388.3L450.8 388.0L450.0 387.0L450.0 386.9L449.3 386.0L449.0 385.5L448.7 385.0L448.0 384.0L448.0 383.9L447.5 383.0L447.0 382.2L446.9 382.0L446.4 381.0L446.0 380.3L445.9 380.0L445.4 379.0L445.0 378.2L444.9 378.0L444.5 377.0L444.1 376.0L444.0 375.8L443.7 375.0L443.3 374.0L443.0 373.1L443.0 373.0L442.6 372.0L442.3 371.0L442.0 370.0L442.0 370.0L441.7 369.0L441.4 368.0L441.1 367.0L441.0 366.4L440.9 366.0L440.6 365.0L440.4 364.0L440.2 363.0L440.0 362.1L440.0 362.0L439.8 361.0L439.6 360.0L439.4 359.0L439.2 358.0L439.1 357.0L439.0 356.7L438.9 356.0L438.8 355.0L438.6 354.0L438.5 353.0L438.4 352.0L438.2 351.0L438.1 350.0L438.0 349.0L438.0 348.8L437.9 348.0L437.8 347.0L437.7 346.0L437.7 345.0L437.6 344.0L437.5 343.0L437.5 342.0L437.4 341.0L437.4 340.0L437.3 339.0L437.3 338.0L437.2 337.0L437.2 336.0L437.2 335.0L437.2 334.0L437.1 333.0L437.1 332.0L437.1 331.0L437.1 330.0L437.1 329.0L437.1 328.0L437.1 327.0L437.1 326.0L437.1 325.0L437.1 324.0L437.1 323.0L437.1 322.0L437.1 321.0L437.1 320.0L437.1 319.0L437.1 318.0L437.1 317.0L437.1 316.0L437.1 315.0L437.1 314.0L437.1 313.0L437.1 312.0L437.1 311.0L437.1 310.0L437.1 309.0L437.1 308.0L437.1 307.0L437.1 306.0L437.1 305.0L437.1 304.0L437.1 303.0L437.1 302.0L437.1 301.0L438.0 300.2L438.2 300.0L439.0 299.3L439.4 299.0L440.0 298.5L440.7 298.0L441.0 297.7L441.9 297.0L442.0 296.9L443.0 296.1L443.2 296.0L444.0 295.3L444.4 295.0L445.0 294.5L445.7 294.0L446.0 293.7L446.9 293.0L447.0 292.9L448.0 292.1L448.2 292.0L449.0 291.3L449.4 291.0L450.0 290.5L450.7 290.0L451.0 289.7L451.9 289.0L452.0 288.9L453.0 288.1L453.2 288.0L454.0 287.3L454.4 287.0L455.0 286.5L455.7 286.0L456.0 285.7L456.9 285.0L457.0 284.9L458.0 284.1L458.2 284.0L459.0 283.3L459.4 283.0L460.0 282.5L460.7 282.0L461.0 281.7L461.9 281.0L462.0 280.9L463.0 280.1L463.2 280.0L464.0 279.3L464.4 279.0L465.0 278.5L465.7 278.0L466.0 277.7L466.9 277.0L467.0 276.9L468.0 276.1L468.2 276.0L469.0 275.3L469.4 275.0L470.0 274.5L470.7 274.0L471.0 273.7L471.9 273.0L472.0 272.9L473.0 272.1L473.2 272.0L474.0 271.3L474.4 271.0L475.0 270.5L475.7 270.0ZM326.0 272.8L327.0 272.1L328.0 272.1L329.0 272.8L329.3 273.0L330.0 273.5L330.6 274.0L331.0 274.3L331.9 275.0L332.0 275.1L332.9 276.0L333.0 276.1L333.9 277.0L334.0 277.1L334.8 278.0L335.0 278.2L335.7 279.0L336.0 279.3L336.6 280.0L337.0 280.5L337.4 281.0L338.0 281.8L338.2 282.0L339.0 283.0L339.0 283.0L339.7 284.0L340.0 284.3L340.5 285.0L340.9 286.0L341.0 286.3L341.3 287.0L341.6 288.0L342.0 289.0L342.0 289.1L342.3 290.0L342.6 291.0L342.9 292.0L343.0 292.4L343.2 293.0L343.4 294.0L343.7 295.0L343.9 296.0L344.0 296.3L344.1 297.0L344.4 298.0L344.6 299.0L344.7 300.0L344.8 301.0L344.9 302.0L345.0 302.6L345.0 303.0L345.1 304.0L345.2 305.0L345.3 306.0L345.4 307.0L345.5 308.0L345.6 309.0L345.7 310.0L345.8 311.0L345.7 312.0L345.6 313.0L345.5 314.0L345.5 315.0L345.4 316.0L345.3 317.0L346.0 317.4L347.0 318.0L347.0 318.4L347.1 319.0L347.2 320.0L347.3 321.0L347.5 322.0L347.6 323.0L347.8 324.0L347.9 325.0L348.0 325.5L348.1 326.0L348.2 327.0L348.4 328.0L348.6 329.0L348.8 330.0L349.0 331.0L349.0 331.2L349.2 332.0L349.2 333.0L349.1 334.0L349.1 335.0L349.0 336.0L349.0 336.6L349.0 337.0L348.9 338.0L348.9 339.0L348.9 340.0L348.7 341.0L348.6 342.0L348.4 343.0L348.3 344.0L348.1 345.0L348.0 346.0L348.0 346.0L347.8 347.0L347.7 348.0L347.5 349.0L347.3 350.0L347.3 351.0L347.2 352.0L347.2 353.0L347.1 354.0L347.1 355.0L347.0 355.9L347.0 356.0L346.9 357.0L346.8 358.0L346.8 359.0L346.7 360.0L346.6 361.0L346.5 362.0L346.3 363.0L346.2 364.0L346.1 365.0L346.0 365.6L345.9 366.0L345.7 367.0L345.4 368.0L345.2 369.0L345.0 369.7L344.9 370.0L344.4 371.0L344.0 371.7L343.0 371.8L342.5 371.0L342.0 370.2L341.9 370.0L341.6 369.0L341.3 368.0L341.0 367.2L341.0 367.0L340.7 366.0L340.5 365.0L340.2 364.0L340.0 363.4L339.9 363.0L339.7 362.0L339.4 361.0L339.2 360.0L339.0 359.4L338.9 359.0L338.7 358.0L338.5 357.0L338.3 356.0L338.1 355.0L338.0 354.7L337.9 355.0L337.6 356.0L337.4 357.0L337.1 358.0L337.0 358.2L336.7 359.0L336.4 360.0L336.1 361.0L336.0 361.2L335.7 362.0L335.3 363.0L335.0 363.7L334.9 364.0L334.4 365.0L334.1 366.0L334.0 366.4L333.8 367.0L333.4 368.0L333.1 369.0L333.0 369.3L332.7 370.0L332.3 371.0L332.0 371.9L332.0 372.0L331.5 373.0L331.1 374.0L331.0 374.2L330.6 375.0L330.1 376.0L330.0 376.3L329.6 377.0L329.0 378.0L329.0 378.0L328.3 379.0L328.0 379.5L327.0 379.4L326.7 379.0L326.1 378.0L326.0 377.8L325.6 377.0L325.1 376.0L325.0 375.8L324.7 375.0L324.2 374.0L324.0 373.4L323.8 373.0L323.5 372.0L323.1 371.0L323.0 370.7L322.8 370.0L322.4 369.0L322.1 368.0L322.0 367.7L321.8 367.0L321.5 366.0L321.2 365.0L321.0 364.5L320.8 364.0L320.4 363.0L320.0 362.1L320.0 362.0L319.6 361.0L319.3 360.0L319.0 359.2L318.9 359.0L318.6 358.0L318.3 357.0L318.0 356.0L317.6 357.0L317.3 358.0L317.0 359.0L317.0 359.0L316.5 360.0L316.1 361.0L316.0 361.4L315.6 362.0L315.1 363.0L315.0 363.1L314.1 364.0L314.0 364.2L313.0 364.3L312.6 364.0L312.0 363.4L311.8 363.0L311.4 362.0L311.0 361.1L311.0 361.0L310.7 360.0L310.4 359.0L310.2 358.0L310.0 357.1L310.0 357.0L309.8 356.0L309.6 355.0L309.5 354.0L309.3 353.0L309.1 352.0L309.0 351.1L309.0 351.0L308.9 350.0L308.8 349.0L308.7 348.0L308.6 347.0L308.6 346.0L308.5 345.0L308.4 344.0L308.4 343.0L308.3 342.0L308.3 341.0L308.2 340.0L308.1 339.0L308.0 338.2L308.0 338.0L307.9 337.0L307.8 336.0L307.7 335.0L307.5 334.0L307.4 333.0L307.3 332.0L307.5 331.0L307.6 330.0L307.7 329.0L307.8 328.0L307.9 327.0L308.0 326.0L308.0 325.5L308.0 325.0L308.2 324.0L308.3 323.0L308.5 322.0L308.6 321.0L308.7 320.0L308.8 319.0L309.0 318.0L309.0 318.0L310.0 317.3L310.5 317.0L310.4 316.0L310.3 315.0L310.2 314.0L310.2 313.0L310.1 312.0L310.0 311.0L310.1 310.0L310.2 309.0L310.3 308.0L310.4 307.0L310.4 306.0L310.5 305.0L310.6 304.0L310.7 303.0L310.8 302.0L310.9 301.0L311.0 300.4L311.0 300.0L311.2 299.0L311.3 298.0L311.5 297.0L311.6 296.0L311.8 295.0L312.0 294.1L312.0 294.0L312.2 293.0L312.5 292.0L312.7 291.0L312.9 290.0L313.0 289.7L313.2 289.0L313.5 288.0L313.8 287.0L314.0 286.4L314.1 286.0L314.5 285.0L315.0 284.3L315.3 284.0L316.0 283.0L316.0 283.0L316.8 282.0L317.0 281.8L317.6 281.0L318.0 280.5L318.4 280.0L319.0 279.3L319.3 279.0L320.0 278.2L320.2 278.0L321.0 277.1L321.1 277.0L322.0 276.1L322.1 276.0L323.0 275.1L323.1 275.0L324.0 274.3L324.4 274.0L325.0 273.5L325.7 273.0ZM375.0 291.5L376.0 291.0L377.0 291.5L377.8 292.0L378.0 292.1L379.0 292.8L379.4 293.0L380.0 293.4L380.8 294.0L381.0 294.1L382.0 294.8L382.3 295.0L383.0 295.9L383.1 296.0L383.9 297.0L384.0 297.1L384.7 298.0L385.0 298.4L385.5 299.0L386.0 299.7L386.2 300.0L387.0 301.0L387.0 301.0L387.7 302.0L388.0 302.3L388.5 303.0L389.0 303.7L389.2 304.0L389.4 305.0L389.5 306.0L389.6 307.0L389.8 308.0L389.9 309.0L390.0 309.9L390.0 310.0L390.1 311.0L390.2 312.0L390.4 313.0L390.5 314.0L390.6 315.0L390.5 316.0L390.3 317.0L390.2 318.0L390.0 319.0L390.0 319.3L389.9 320.0L389.8 321.0L389.6 322.0L389.5 323.0L389.3 324.0L389.2 325.0L389.0 325.9L389.0 326.0L388.7 327.0L388.5 328.0L388.3 329.0L388.0 330.0L388.0 330.2L387.8 331.0L387.5 332.0L387.3 333.0L387.0 334.0L387.0 334.1L386.7 335.0L386.5 336.0L386.2 337.0L386.0 337.6L385.9 338.0L385.6 339.0L385.2 340.0L385.0 341.0L385.0 341.2L384.8 342.0L384.6 343.0L384.4 344.0L384.2 345.0L384.0 345.7L383.9 346.0L383.7 347.0L383.4 348.0L383.2 349.0L383.0 349.6L382.9 350.0L382.6 351.0L382.3 352.0L382.0 353.0L382.0 353.1L381.7 354.0L381.4 355.0L381.2 356.0L381.0 357.0L381.0 357.1L380.8 358.0L380.6 359.0L380.4 360.0L380.2 361.0L380.1 362.0L380.0 362.3L379.8 363.0L379.6 364.0L379.4 365.0L379.2 366.0L379.0 366.9L379.0 367.0L378.7 368.0L378.5 369.0L378.3 370.0L378.0 370.8L377.9 371.0L377.5 372.0L377.1 373.0L377.0 373.2L376.6 374.0L376.0 375.0L375.4 374.0L375.0 373.4L374.8 373.0L374.4 372.0L374.0 371.2L373.9 371.0L373.5 370.0L373.3 369.0L373.0 368.0L373.0 368.0L372.8 367.0L372.5 366.0L372.3 365.0L372.1 364.0L372.0 363.8L371.8 363.0L371.6 362.0L371.4 361.0L371.2 360.0L371.0 359.2L371.0 359.0L370.8 358.0L370.6 357.0L370.4 356.0L370.2 355.0L370.0 354.6L369.8 354.0L369.5 353.0L369.1 352.0L369.0 351.6L368.8 351.0L368.5 350.0L368.2 349.0L368.0 348.2L367.9 348.0L367.7 347.0L367.4 346.0L367.2 345.0L367.0 344.4L366.9 344.0L366.7 343.0L366.4 342.0L366.2 341.0L366.0 340.1L366.0 340.0L365.6 339.0L365.3 338.0L365.0 337.0L365.0 337.0L364.7 336.0L364.4 335.0L364.1 334.0L364.0 333.7L364.0 334.0L363.8 335.0L363.6 336.0L363.5 337.0L363.3 338.0L363.1 339.0L363.0 339.9L363.0 340.0L362.9 341.0L362.8 342.0L362.6 343.0L362.5 344.0L362.4 345.0L362.3 346.0L362.2 347.0L362.1 348.0L362.0 349.0L362.0 349.0L361.9 350.0L361.7 351.0L361.6 352.0L361.5 353.0L361.3 354.0L361.2 355.0L361.1 356.0L361.0 357.0L361.0 357.5L360.9 358.0L360.8 359.0L360.7 360.0L360.6 361.0L360.5 362.0L360.3 363.0L360.2 364.0L360.1 365.0L360.0 366.0L360.0 366.0L359.8 367.0L359.6 368.0L359.4 369.0L359.3 370.0L359.1 371.0L359.0 371.2L358.6 372.0L358.2 373.0L358.0 373.4L357.0 373.4L356.8 373.0L356.4 372.0L356.0 371.0L356.0 370.9L355.8 370.0L355.6 369.0L355.5 368.0L355.3 367.0L355.1 366.0L355.0 365.1L355.0 365.0L354.9 364.0L354.7 363.0L354.6 362.0L354.5 361.0L354.4 360.0L354.3 359.0L354.1 358.0L354.0 357.0L354.0 356.8L353.9 356.0L353.8 355.0L353.8 354.0L353.7 353.0L353.6 352.0L353.6 351.0L353.5 350.0L353.5 349.0L353.4 348.0L353.4 347.0L353.3 346.0L353.3 345.0L353.2 344.0L353.2 343.0L353.1 342.0L353.1 341.0L353.0 340.0L353.0 339.7L352.9 339.0L352.8 338.0L352.7 337.0L352.6 336.0L352.5 335.0L352.4 334.0L352.2 333.0L352.1 332.0L352.5 331.0L352.8 330.0L353.0 329.5L353.2 329.0L353.5 328.0L353.8 327.0L354.0 326.5L354.2 326.0L354.5 325.0L354.9 324.0L355.0 323.8L355.4 323.0L355.8 322.0L356.0 321.6L356.3 321.0L356.7 320.0L357.0 319.3L357.2 319.0L357.6 318.0L358.0 317.9L359.0 317.7L360.0 317.4L361.0 317.0L361.0 317.0L361.0 316.8L360.9 316.0L360.8 315.0L361.0 314.1L361.0 314.0L361.2 313.0L361.4 312.0L361.5 311.0L361.7 310.0L361.9 309.0L362.0 308.3L362.0 308.0L362.2 307.0L362.4 306.0L362.6 305.0L362.8 304.0L363.0 303.7L363.5 303.0L364.0 302.3L364.3 302.0L365.0 301.0L365.0 301.0L365.8 300.0L366.0 299.7L366.5 299.0L367.0 298.4L367.3 298.0L368.0 297.1L368.1 297.0L368.9 296.0L369.0 295.9L369.7 295.0L370.0 294.8L371.0 294.1L371.2 294.0L372.0 293.4L372.6 293.0L373.0 292.8L374.0 292.1L374.2 292.0ZM272.0 397.9L273.0 397.8L274.0 397.8L275.0 397.8L276.0 397.8L276.4 398.0L277.0 398.3L278.0 399.0L278.0 399.0L279.0 399.8L279.2 400.0L280.0 400.6L280.4 401.0L281.0 401.5L281.6 402.0L282.0 402.4L282.7 403.0L283.0 403.3L283.8 404.0L284.0 404.2L284.9 405.0L285.0 405.1L285.9 406.0L286.0 406.1L287.0 407.0L287.0 407.0L288.0 408.0L288.0 408.0L289.0 408.9L289.1 409.0L290.0 409.9L290.1 410.0L291.0 410.9L291.1 411.0L292.0 411.9L292.1 412.0L293.0 413.0L293.0 413.0L294.0 414.0L294.0 414.0L294.9 415.0L295.0 415.1L295.8 416.0L296.0 416.2L296.7 417.0L297.0 417.3L297.6 418.0L298.0 418.4L298.5 419.0L299.0 419.6L299.4 420.0L300.0 420.7L300.2 421.0L301.0 421.9L301.1 422.0L301.9 423.0L302.0 423.1L303.0 423.7L304.0 423.9L304.4 424.0L305.0 424.2L306.0 424.1L306.3 424.0L307.0 423.7L308.0 423.4L309.0 423.0L309.0 423.0L310.0 422.3L310.3 422.0L311.0 421.2L311.2 421.0L312.0 420.1L312.1 420.0L313.0 419.0L313.0 419.0L313.9 418.0L314.0 417.9L314.9 417.0L315.0 416.9L315.9 416.0L316.0 415.9L316.9 415.0L317.0 414.9L317.9 414.0L318.0 413.9L319.0 413.0L319.0 413.0L320.0 412.0L320.0 412.0L321.0 411.1L321.1 411.0L322.0 410.2L322.3 410.0L323.0 409.3L323.4 409.0L324.0 408.5L324.6 408.0L325.0 407.7L325.8 407.0L326.0 406.9L327.0 406.1L327.2 406.0L328.0 405.6L328.5 406.0L329.0 406.4L329.8 407.0L330.0 407.2L330.9 408.0L331.0 408.1L332.0 408.9L332.1 409.0L333.0 409.9L333.1 410.0L334.0 410.8L334.2 411.0L335.0 411.8L335.2 412.0L336.0 412.8L336.2 413.0L337.0 413.8L337.2 414.0L338.0 414.9L338.1 415.0L339.0 416.0L339.0 416.0L340.0 416.8L340.2 417.0L341.0 417.6L341.5 418.0L342.0 418.4L342.7 419.0L343.0 419.3L343.9 420.0L344.0 420.1L345.0 420.9L345.1 421.0L346.0 421.8L346.3 422.0L347.0 422.6L347.7 423.0L348.0 423.2L349.0 423.4L350.0 423.5L351.0 423.6L352.0 423.8L353.0 423.5L354.0 423.2L355.0 423.0L355.1 423.0L356.0 422.8L357.0 422.7L358.0 422.5L359.0 422.4L360.0 422.3L361.0 422.2L362.0 422.1L363.0 422.1L364.0 422.0L364.7 422.0L365.0 422.0L366.0 422.0L367.0 421.9L368.0 421.9L369.0 421.9L370.0 421.9L371.0 421.9L372.0 421.9L373.0 422.0L374.0 422.0L374.1 422.0L375.0 422.0L376.0 422.1L377.0 422.2L378.0 422.3L379.0 422.5L380.0 422.7L381.0 422.9L381.6 423.0L382.0 423.1L383.0 423.4L384.0 423.8L384.5 424.0L385.0 424.2L386.0 424.8L386.4 425.0L387.0 425.5L387.6 426.0L388.0 426.4L388.5 427.0L389.0 427.9L389.0 428.0L389.4 429.0L389.5 430.0L389.5 431.0L389.0 431.1L388.0 431.1L387.0 431.2L386.0 431.3L385.0 431.3L384.0 431.4L383.0 431.4L382.0 431.4L381.0 431.4L380.0 431.5L379.0 431.5L378.0 431.5L377.0 431.5L376.0 431.5L375.0 431.5L374.0 431.6L373.0 431.6L372.0 431.6L371.0 431.6L370.0 431.6L369.0 431.6L368.0 431.6L367.0 431.6L366.0 431.6L365.0 431.6L364.0 431.6L363.0 431.5L362.0 431.5L361.0 431.5L360.0 431.5L359.0 431.5L358.0 431.5L357.0 431.5L356.0 431.4L355.0 431.4L354.0 431.4L353.0 431.5L352.0 431.5L351.5 431.0L351.0 430.5L350.5 430.0L350.0 429.5L349.0 429.6L348.4 429.0L348.0 428.6L347.0 428.6L346.4 428.0L346.0 427.6L345.0 427.7L344.3 427.0L344.0 426.7L343.0 426.7L342.3 426.0L342.0 425.7L341.0 425.7L340.3 425.0L340.0 424.7L339.0 424.8L338.2 424.0L338.0 423.8L337.0 423.8L336.2 423.0L336.0 422.8L335.0 422.8L334.2 422.0L334.0 421.8L333.0 421.8L332.2 421.0L332.0 420.8L331.0 420.8L330.0 420.8L329.2 420.0L329.0 419.8L328.0 419.8L327.0 419.8L326.0 419.8L325.8 420.0L325.0 420.8L324.0 420.8L323.0 420.8L322.8 421.0L322.0 421.8L321.0 421.8L320.8 422.0L320.0 422.8L319.0 422.8L318.0 422.7L317.7 423.0L317.0 423.7L316.0 423.7L315.7 424.0L315.0 424.7L314.0 424.6L313.0 424.6L312.6 425.0L312.0 425.6L311.0 425.6L310.0 425.6L309.6 426.0L309.0 426.6L308.0 426.6L307.6 427.0L307.0 427.6L306.0 427.6L305.0 427.6L304.6 428.0L304.0 428.6L303.0 428.6L302.0 428.6L301.0 428.7L300.3 428.0L300.0 427.7L299.3 427.0L299.0 426.7L298.0 426.7L297.3 426.0L297.0 425.8L296.0 425.8L295.2 425.0L295.0 424.8L294.2 424.0L294.0 423.8L293.0 423.8L292.2 423.0L292.0 422.8L291.2 422.0L291.0 421.8L290.0 421.8L289.2 421.0L289.0 420.8L288.0 420.8L287.2 420.0L287.0 419.8L286.2 419.0L286.0 418.9L285.0 418.9L284.1 418.0L284.0 417.9L283.0 417.9L282.1 417.0L282.0 416.9L281.1 416.0L281.0 415.9L280.0 415.9L279.1 415.0L279.0 414.9L278.0 414.9L277.1 414.0L277.0 413.9L276.1 413.0L276.0 412.9L275.0 412.9L274.0 412.9L273.1 412.0L273.0 411.9L272.0 411.9L271.0 411.9L270.1 411.0L270.0 410.8L269.0 410.8L268.0 410.8L267.2 410.0L267.0 409.8L266.0 409.8L265.2 409.0L265.0 408.8L264.0 408.8L263.2 408.0L263.0 407.8L262.0 407.7L261.3 407.0L261.0 406.7L260.0 406.7L259.0 406.7L258.3 406.0L258.0 405.6L257.0 405.5L256.5 405.0L256.0 404.4L255.3 405.0L255.0 405.3L254.0 405.0L254.6 404.0L255.0 403.3L255.2 403.0L255.9 402.0L256.0 401.9L257.0 401.1L257.3 401.0L258.0 400.7L259.0 400.3L259.9 400.0L260.0 400.0L261.0 399.7L262.0 399.4L263.0 399.2L263.7 399.0L264.0 398.9L265.0 398.8L266.0 398.6L267.0 398.5L268.0 398.4L269.0 398.3L270.0 398.2L271.0 398.1L271.4 398.0ZM463.0 432.0L464.0 431.8L465.0 431.7L466.0 431.6L467.0 431.6L468.0 431.5L469.0 431.5L470.0 431.5L471.0 431.5L472.0 431.5L473.0 431.5L474.0 431.6L475.0 431.7L476.0 431.8L477.0 431.9L477.8 432.0L478.0 432.0L479.0 432.2L480.0 432.3L481.0 432.5L482.0 432.7L483.0 433.0L483.2 433.0L484.0 433.2L485.0 433.4L486.0 433.7L487.0 434.0L487.0 434.0L488.0 434.3L489.0 434.7L489.9 435.0L490.0 435.0L491.0 435.4L492.0 435.8L492.4 436.0L493.0 436.0L494.0 436.2L494.9 437.0L495.0 437.0L496.0 437.1L497.0 437.1L498.0 437.3L499.0 437.8L499.2 438.0L500.0 438.1L501.0 438.2L502.0 438.4L502.8 439.0L503.0 439.1L504.0 439.2L505.0 439.4L505.9 440.0L506.0 440.0L507.0 440.3L508.0 440.6L508.5 441.0L509.0 441.2L510.0 441.6L510.6 442.0L511.0 442.2L512.0 442.7L512.4 443.0L513.0 443.4L513.8 444.0L514.0 444.1L515.0 445.0L515.0 445.0L515.8 446.0L516.0 446.3L516.4 447.0L516.7 448.0L516.0 448.2L515.0 448.4L514.0 448.5L513.0 448.5L512.0 448.6L511.0 448.6L510.0 448.7L509.0 448.7L508.0 448.7L507.0 448.7L506.0 448.7L505.0 448.8L504.0 448.8L503.0 448.8L502.0 448.8L501.0 448.8L500.2 448.0L500.0 447.8L499.0 447.8L498.0 447.8L497.0 447.8L496.0 447.8L495.0 447.8L494.0 447.8L493.0 447.8L492.0 447.8L491.0 447.8L490.0 447.8L489.0 447.8L488.0 447.8L487.2 447.0L487.0 446.8L486.0 446.8L485.0 446.8L484.0 446.8L483.0 446.8L482.0 446.8L481.0 446.8L480.0 446.8L479.0 446.8L478.2 446.0L478.0 445.8L477.0 445.8L476.0 445.8L475.0 445.8L474.0 445.8L473.0 445.8L472.0 445.8L471.0 445.8L470.0 445.8L469.0 445.8L468.0 445.8L467.2 445.0L467.0 444.8L466.0 444.8L465.0 444.8L464.0 444.8L463.0 444.8L462.0 444.8L461.0 444.8L460.0 444.8L459.0 444.8L458.0 444.8L457.0 444.8L456.2 444.0L456.0 443.8L455.0 443.8L454.0 443.8L453.0 443.8L452.0 443.8L451.0 443.8L450.0 443.8L449.2 443.0L449.0 442.8L448.0 442.7L447.0 442.7L446.0 442.7L445.3 442.0L445.0 441.7L444.0 441.6L443.0 441.6L442.0 441.5L441.5 441.0L441.0 440.5L440.0 440.3L439.0 440.1L438.7 440.0L438.9 439.0L439.0 438.8L439.5 438.0L440.0 437.4L440.5 437.0L441.0 436.6L442.0 436.1L442.2 436.0L443.0 435.5L444.0 435.3L445.0 435.1L445.5 435.0L446.0 434.7L447.0 434.4L448.0 434.3L449.0 434.2L450.0 434.1L451.0 434.1L452.0 434.1L453.0 434.0L454.0 434.0L454.0 434.0L455.0 433.2L456.0 433.1L457.0 433.0L457.8 433.0L458.0 432.9L459.0 432.7L460.0 432.5L461.0 432.3L462.0 432.1L462.7 432.0Z"/>
<path fill="#0000e8" fill-rule="evenodd" d="M277.0 267.6L278.0 267.3L279.0 267.6L279.9 268.0L280.0 268.0L281.0 268.5L282.0 269.0L282.1 269.0L283.0 269.5L284.0 270.0L284.0 270.0L285.0 270.6L285.8 271.0L286.0 271.1L287.0 271.7L287.5 272.0L288.0 272.4L288.7 273.0L289.0 273.2L289.8 274.0L290.0 274.2L290.8 275.0L291.0 275.3L291.7 276.0L292.0 276.6L292.2 277.0L292.7 278.0L293.0 278.8L293.1 279.0L293.5 280.0L293.8 281.0L294.0 281.7L294.1 282.0L294.4 283.0L294.7 284.0L295.0 284.9L295.0 285.0L295.3 286.0L295.6 287.0L295.9 288.0L296.0 288.4L296.2 289.0L296.4 290.0L296.7 291.0L296.8 292.0L297.0 293.0L297.0 293.2L297.1 294.0L297.3 295.0L297.4 296.0L297.6 297.0L297.7 298.0L297.9 299.0L298.0 299.7L298.0 300.0L298.0 301.0L298.0 302.0L298.0 303.0L298.0 304.0L298.0 305.0L298.0 306.0L298.0 307.0L298.0 308.0L298.0 309.0L298.0 310.0L298.0 310.5L297.9 311.0L297.8 312.0L297.7 313.0L297.6 314.0L297.5 315.0L297.4 316.0L297.3 317.0L298.0 317.7L298.2 318.0L298.2 319.0L298.3 320.0L298.3 321.0L298.3 322.0L298.3 323.0L298.3 324.0L298.2 325.0L298.2 326.0L298.1 327.0L298.1 328.0L298.0 329.0L298.0 330.0L298.0 330.1L298.0 331.0L297.9 332.0L297.7 333.0L297.5 334.0L297.3 335.0L297.1 336.0L297.0 336.7L296.9 337.0L296.7 338.0L296.5 339.0L296.3 340.0L296.0 341.0L296.0 341.0L295.7 342.0L295.4 343.0L295.0 344.0L295.0 344.0L294.5 345.0L294.0 346.0L294.0 346.0L293.2 347.0L293.0 347.3L292.0 348.0L291.9 348.0L291.0 348.7L290.0 348.8L289.0 348.1L288.9 348.0L288.0 347.6L287.7 348.0L287.4 349.0L287.1 350.0L287.0 350.2L286.7 351.0L286.4 352.0L286.1 353.0L286.0 353.2L285.7 354.0L285.3 355.0L285.0 355.9L285.0 356.0L284.6 357.0L284.2 358.0L284.0 358.4L283.7 359.0L283.3 360.0L283.0 360.6L282.8 361.0L282.3 362.0L282.0 362.6L281.8 363.0L281.2 364.0L281.0 364.3L280.6 365.0L280.1 366.0L280.0 366.2L279.5 367.0L279.0 368.0L279.0 368.0L278.2 369.0L278.0 369.3L277.8 369.0L277.0 368.0L277.0 368.0L276.5 367.0L276.0 366.2L275.9 366.0L275.4 365.0L275.0 364.3L274.8 364.0L274.2 363.0L274.0 362.6L273.7 362.0L273.2 361.0L273.0 360.6L272.7 360.0L272.3 359.0L272.0 358.4L271.8 358.0L271.4 357.0L271.0 356.0L271.0 355.9L270.7 355.0L270.3 354.0L270.0 353.2L269.9 353.0L269.6 352.0L269.3 351.0L269.0 350.2L268.9 350.0L268.6 349.0L268.3 348.0L268.0 347.6L267.6 347.0L267.0 346.2L266.9 346.0L266.3 345.0L266.0 344.5L265.7 344.0L265.2 343.0L265.0 342.5L264.8 342.0L264.3 341.0L264.0 340.2L263.9 340.0L263.6 339.0L263.2 338.0L263.0 337.3L262.9 337.0L262.6 336.0L262.3 335.0L262.0 334.1L262.0 334.0L261.7 333.0L261.4 332.0L261.1 331.0L261.0 330.7L260.8 330.0L260.6 329.0L260.3 328.0L260.1 327.0L260.0 326.6L259.9 326.0L259.7 325.0L259.4 324.0L259.3 323.0L259.2 322.0L259.1 321.0L259.0 320.0L259.0 320.0L258.9 319.0L258.8 318.0L258.7 317.0L258.6 316.0L258.5 315.0L258.4 314.0L258.3 313.0L258.2 312.0L258.1 311.0L258.0 310.5L258.0 310.0L258.0 309.0L258.0 308.0L258.0 307.0L258.0 306.0L258.0 305.0L258.0 304.0L258.0 303.0L258.0 302.0L258.0 301.0L258.0 300.0L258.0 299.7L258.1 299.0L258.3 298.0L258.4 297.0L258.6 296.0L258.7 295.0L258.9 294.0L259.0 293.2L259.0 293.0L259.2 292.0L259.3 291.0L259.6 290.0L259.8 289.0L260.0 288.4L260.1 288.0L260.4 287.0L260.7 286.0L261.0 285.0L261.0 284.9L261.3 284.0L261.6 283.0L261.9 282.0L262.0 281.7L262.2 281.0L262.5 280.0L262.9 279.0L263.0 278.8L263.3 278.0L263.8 277.0L264.0 276.6L264.3 276.0L265.0 275.3L265.2 275.0L266.0 274.2L266.2 274.0L267.0 273.2L267.3 273.0L268.0 272.4L268.5 272.0L269.0 271.7L270.0 271.1L270.2 271.0L271.0 270.6L272.0 270.0L272.0 270.0L273.0 269.5L273.9 269.0L274.0 269.0L275.0 268.5L276.0 268.0L276.1 268.0ZM475.0 274.9L476.0 274.1L477.0 274.1L478.0 274.9L478.1 275.0L479.0 275.7L479.4 276.0L480.0 276.5L480.6 277.0L481.0 277.3L481.9 278.0L482.0 278.1L483.0 278.9L483.1 279.0L484.0 279.7L484.4 280.0L485.0 280.5L485.6 281.0L486.0 281.3L486.9 282.0L487.0 282.1L488.0 282.9L488.1 283.0L489.0 283.7L489.4 284.0L490.0 284.5L490.6 285.0L491.0 285.2L491.9 286.0L492.0 286.0L493.0 286.8L493.2 287.0L494.0 287.4L494.7 288.0L495.0 288.2L496.0 288.8L496.2 289.0L497.0 289.5L497.7 290.0L498.0 290.2L499.0 290.8L499.2 291.0L499.8 292.0L500.0 292.5L500.6 293.0L501.0 293.3L501.9 294.0L502.0 294.1L503.0 294.9L503.1 295.0L504.0 295.7L504.4 296.0L505.0 296.5L505.6 297.0L506.0 297.3L506.9 298.0L507.0 298.1L508.0 298.9L508.1 299.0L509.0 299.7L509.4 300.0L510.0 300.5L510.6 301.0L511.0 301.3L511.9 302.0L512.0 302.2L512.5 303.0L512.5 304.0L512.5 305.0L512.5 306.0L512.5 307.0L512.5 308.0L512.5 309.0L512.5 310.0L512.5 311.0L512.5 312.0L512.5 313.0L512.5 314.0L512.5 315.0L512.5 316.0L512.5 317.0L512.5 318.0L512.5 319.0L512.5 320.0L512.5 321.0L512.5 322.0L512.5 323.0L512.5 324.0L512.5 325.0L512.5 326.0L512.5 327.0L512.5 328.0L512.5 329.0L512.5 330.0L512.5 331.0L512.4 332.0L512.4 333.0L512.4 334.0L512.4 335.0L512.3 336.0L512.3 337.0L512.2 338.0L512.2 339.0L512.1 340.0L512.1 341.0L512.0 342.0L512.0 342.0L511.9 343.0L511.8 344.0L511.7 345.0L511.6 346.0L511.5 347.0L511.4 348.0L511.3 349.0L511.2 350.0L511.0 351.0L511.0 351.2L510.9 352.0L510.7 353.0L510.5 354.0L510.4 355.0L510.2 356.0L510.0 356.8L510.0 357.0L509.7 358.0L509.5 359.0L509.3 360.0L509.0 361.0L509.0 361.1L508.8 362.0L508.5 363.0L508.2 364.0L508.0 364.5L507.9 365.0L507.5 366.0L507.2 367.0L507.0 367.5L506.8 368.0L506.4 369.0L506.0 370.0L506.0 370.0L505.6 371.0L505.1 372.0L505.0 372.2L504.6 373.0L504.1 374.0L504.0 374.2L503.6 375.0L503.0 376.0L503.0 376.0L502.4 377.0L502.0 377.6L501.7 378.0L501.0 379.0L501.0 379.0L500.2 380.0L500.0 380.3L499.4 381.0L499.0 381.5L498.5 382.0L498.0 382.5L497.5 383.0L497.0 383.5L496.4 384.0L496.0 384.4L495.2 385.0L495.0 385.2L494.0 385.9L493.9 386.0L493.0 386.6L492.3 387.0L492.0 387.1L491.0 387.7L490.3 388.0L490.0 388.1L489.0 388.6L488.0 388.9L487.7 389.0L487.0 389.2L486.0 389.5L485.0 389.7L484.0 389.9L483.6 390.0L483.0 390.1L482.0 390.2L481.0 390.3L480.0 390.4L479.0 390.4L478.0 390.4L477.0 390.5L476.0 390.5L475.0 390.4L474.0 390.4L473.0 390.4L472.0 390.3L471.0 390.2L470.0 390.1L469.7 390.0L469.0 389.9L468.0 389.7L467.0 389.4L466.0 389.1L465.7 389.0L465.0 388.8L464.0 388.4L463.2 388.0L463.0 387.9L462.0 387.4L461.4 387.0L461.0 386.8L460.0 386.1L459.8 386.0L459.0 385.4L458.5 385.0L458.0 384.6L457.3 384.0L457.0 383.7L456.3 383.0L456.0 382.7L455.3 382.0L455.0 381.6L454.5 381.0L454.0 380.4L453.7 380.0L453.0 379.1L453.0 379.0L452.3 378.0L452.0 377.6L451.6 377.0L451.0 376.0L451.0 375.9L450.5 375.0L450.0 374.1L450.0 374.0L449.5 373.0L449.0 372.0L449.0 372.0L448.6 371.0L448.1 370.0L448.0 369.7L447.7 369.0L447.4 368.0L447.0 367.0L447.0 367.0L446.7 366.0L446.4 365.0L446.0 364.0L446.0 363.8L445.8 363.0L445.5 362.0L445.2 361.0L445.0 360.1L445.0 360.0L444.8 359.0L444.5 358.0L444.3 357.0L444.1 356.0L444.0 355.3L443.9 355.0L443.8 354.0L443.6 353.0L443.5 352.0L443.3 351.0L443.2 350.0L443.0 349.0L443.0 348.7L442.9 348.0L442.8 347.0L442.7 346.0L442.6 345.0L442.5 344.0L442.4 343.0L442.4 342.0L442.3 341.0L442.2 340.0L442.2 339.0L442.1 338.0L442.1 337.0L442.0 336.0L442.0 335.0L442.0 334.6L442.0 334.0L442.0 333.0L441.9 332.0L441.9 331.0L441.9 330.0L441.9 329.0L441.9 328.0L441.9 327.0L441.9 326.0L441.9 325.0L441.9 324.0L441.9 323.0L441.9 322.0L441.9 321.0L441.9 320.0L441.9 319.0L441.9 318.0L441.9 317.0L441.9 316.0L441.9 315.0L441.9 314.0L441.9 313.0L441.9 312.0L441.9 311.0L441.9 310.0L441.9 309.0L441.9 308.0L441.9 307.0L441.9 306.0L441.9 305.0L441.9 304.0L441.9 303.0L441.9 302.0L442.0 301.7L442.4 301.0L443.0 300.5L443.6 300.0L444.0 299.7L444.9 299.0L445.0 298.9L446.0 298.1L446.1 298.0L447.0 297.3L447.4 297.0L448.0 296.5L448.6 296.0L449.0 295.7L449.9 295.0L450.0 294.9L451.0 294.1L451.1 294.0L452.0 293.3L452.4 293.0L453.0 292.5L453.2 292.0L453.8 291.0L454.0 290.8L455.0 290.2L455.3 290.0L456.0 289.5L456.8 289.0L457.0 288.8L458.0 288.2L458.3 288.0L459.0 287.4L459.8 287.0L460.0 286.8L461.0 286.0L461.1 286.0L462.0 285.2L462.4 285.0L463.0 284.5L463.6 284.0L464.0 283.7L464.9 283.0L465.0 282.9L466.0 282.1L466.1 282.0L467.0 281.3L467.4 281.0L468.0 280.5L468.6 280.0L469.0 279.7L469.9 279.0L470.0 278.9L471.0 278.1L471.1 278.0L472.0 277.3L472.4 277.0L473.0 276.5L473.6 276.0L474.0 275.7L474.9 275.0ZM326.0 276.7L327.0 276.0L328.0 276.0L329.0 276.7L329.5 277.0L330.0 277.4L330.7 278.0L331.0 278.3L331.8 279.0L332.0 279.2L332.8 280.0L333.0 280.2L333.7 281.0L334.0 281.3L334.7 282.0L335.0 282.4L335.5 283.0L336.0 283.5L336.4 284.0L337.0 284.7L337.2 285.0L337.8 286.0L338.0 286.4L338.3 287.0L338.8 288.0L339.0 288.5L339.2 289.0L339.6 290.0L340.0 291.0L340.0 291.0L340.4 292.0L340.7 293.0L341.0 293.8L341.1 294.0L341.4 295.0L341.7 296.0L342.0 297.0L342.0 297.1L342.3 298.0L342.5 299.0L342.7 300.0L342.8 301.0L343.0 302.0L343.0 302.0L343.1 303.0L343.3 304.0L343.4 305.0L343.5 306.0L343.7 307.0L343.8 308.0L343.9 309.0L344.0 309.8L344.0 310.0L344.1 311.0L344.0 312.0L344.0 312.3L343.9 313.0L343.8 314.0L343.7 315.0L343.6 316.0L343.5 317.0L344.0 317.4L345.0 318.0L345.0 318.0L345.1 319.0L345.2 320.0L345.3 321.0L345.4 322.0L345.5 323.0L345.6 324.0L345.7 325.0L345.9 326.0L346.0 327.0L346.0 327.1L346.1 328.0L346.3 329.0L346.4 330.0L346.5 331.0L346.7 332.0L346.6 333.0L346.5 334.0L346.4 335.0L346.3 336.0L346.1 337.0L346.0 338.0L346.0 338.1L345.9 339.0L345.7 340.0L345.4 341.0L345.1 342.0L345.0 342.5L344.8 343.0L344.5 344.0L344.1 345.0L344.0 345.2L343.5 346.0L343.0 346.9L342.9 347.0L342.0 347.7L341.0 347.6L340.1 347.0L340.0 346.9L339.4 346.0L339.0 345.5L338.8 345.0L338.3 344.0L338.0 343.5L337.8 344.0L337.4 345.0L337.0 346.0L337.0 346.1L336.6 347.0L336.2 348.0L336.0 348.4L335.7 349.0L335.2 350.0L335.0 350.8L334.9 351.0L334.6 352.0L334.3 353.0L334.0 353.7L333.9 354.0L333.5 355.0L333.1 356.0L333.0 356.2L332.7 357.0L332.2 358.0L332.0 358.4L331.7 359.0L331.2 360.0L331.0 360.4L330.6 361.0L330.0 362.0L330.0 362.0L329.3 363.0L329.0 363.4L328.5 364.0L328.0 364.6L327.0 364.5L326.6 364.0L326.0 363.3L325.8 363.0L325.2 362.0L325.0 361.7L324.6 361.0L324.1 360.0L324.0 359.8L323.6 359.0L323.1 358.0L323.0 357.7L322.7 357.0L322.3 356.0L322.0 355.4L321.9 355.0L321.5 354.0L321.1 353.0L321.0 352.7L320.8 352.0L320.4 351.0L320.1 350.0L320.0 349.8L319.7 349.0L319.3 348.0L319.0 347.2L318.9 347.0L318.6 346.0L318.2 345.0L318.0 344.3L317.5 345.0L317.0 345.7L316.6 346.0L316.0 346.6L315.0 346.8L314.0 346.3L313.8 346.0L313.1 345.0L313.0 344.7L312.7 344.0L312.4 343.0L312.1 342.0L312.0 341.6L311.9 341.0L311.7 340.0L311.4 339.0L311.1 338.0L311.0 337.7L310.8 337.0L310.6 336.0L310.4 335.0L310.2 334.0L310.0 333.1L310.0 333.0L309.8 332.0L309.9 331.0L310.0 330.0L310.0 329.2L310.0 329.0L310.1 328.0L310.1 327.0L310.2 326.0L310.2 325.0L310.3 324.0L310.4 323.0L310.5 322.0L310.6 321.0L310.7 320.0L310.8 319.0L310.8 318.0L311.0 317.9L312.0 317.1L312.2 317.0L312.1 316.0L312.0 315.3L312.0 315.0L311.9 314.0L311.8 313.0L311.7 312.0L311.6 311.0L311.7 310.0L311.8 309.0L311.9 308.0L312.0 307.3L312.0 307.0L312.2 306.0L312.3 305.0L312.4 304.0L312.5 303.0L312.7 302.0L312.8 301.0L313.0 300.0L313.0 299.8L313.1 299.0L313.3 298.0L313.6 297.0L313.8 296.0L314.0 295.2L314.0 295.0L314.3 294.0L314.6 293.0L314.9 292.0L315.0 291.7L315.2 291.0L315.6 290.0L316.0 289.0L316.0 288.9L316.4 288.0L316.8 287.0L317.0 286.6L317.3 286.0L317.8 285.0L318.0 284.7L318.6 284.0L319.0 283.5L319.5 283.0L320.0 282.4L320.3 282.0L321.0 281.3L321.3 281.0L322.0 280.2L322.2 280.0L323.0 279.2L323.2 279.0L324.0 278.3L324.3 278.0L325.0 277.4L325.5 277.0ZM375.0 295.7L376.0 295.0L377.0 295.7L377.3 296.0L378.0 296.6L378.4 297.0L379.0 297.6L379.3 298.0L380.0 298.7L380.3 299.0L381.0 299.8L381.1 300.0L382.0 301.0L382.0 301.0L382.8 302.0L383.0 302.2L383.6 303.0L384.0 303.4L384.4 304.0L384.6 305.0L384.8 306.0L385.0 306.8L385.0 307.0L385.2 308.0L385.4 309.0L385.6 310.0L385.7 311.0L385.9 312.0L386.0 312.5L386.1 313.0L386.2 314.0L386.4 315.0L386.3 316.0L386.1 317.0L386.0 317.6L385.9 318.0L385.8 319.0L385.6 320.0L385.5 321.0L385.3 322.0L385.1 323.0L385.0 323.8L385.0 324.0L384.8 325.0L384.5 326.0L384.2 327.0L384.0 327.7L383.9 328.0L383.6 329.0L383.3 330.0L383.0 330.8L382.9 331.0L382.6 332.0L382.2 333.0L382.0 333.6L381.9 334.0L381.5 335.0L381.1 336.0L381.0 336.2L380.6 337.0L380.2 338.0L380.0 338.4L379.7 339.0L379.2 340.0L379.0 340.8L378.9 341.0L378.6 342.0L378.2 343.0L378.0 343.5L377.8 344.0L377.4 345.0L377.0 345.8L376.9 346.0L376.3 347.0L376.0 347.5L375.7 347.0L375.0 346.0L375.0 346.0L374.5 345.0L374.1 344.0L374.0 343.9L373.6 343.0L373.2 342.0L373.0 341.4L372.8 341.0L372.5 340.0L372.0 339.1L371.9 339.0L371.5 338.0L371.0 337.1L371.0 337.0L370.5 336.0L370.1 335.0L370.0 334.8L369.7 334.0L369.3 333.0L369.0 332.3L368.9 332.0L368.5 331.0L368.1 330.0L368.0 329.6L367.8 329.0L367.5 328.0L367.1 327.0L367.0 326.6L366.8 326.0L366.5 325.0L366.4 324.0L366.2 323.0L366.1 322.0L366.0 321.4L365.9 321.0L365.8 320.0L365.7 319.0L365.6 318.0L365.4 317.0L365.3 316.0L365.2 315.0L365.4 314.0L365.6 313.0L365.8 312.0L366.0 311.1L366.0 311.0L366.2 310.0L366.4 309.0L366.7 308.0L366.9 307.0L367.0 306.4L367.1 306.0L367.3 305.0L367.6 304.0L368.0 303.4L368.4 303.0L369.0 302.2L369.2 302.0L370.0 301.0L370.0 301.0L370.9 300.0L371.0 299.8L371.7 299.0L372.0 298.7L372.7 298.0L373.0 297.6L373.6 297.0L374.0 296.6L374.7 296.0ZM269.0 399.0L270.0 398.8L271.0 398.7L272.0 398.6L273.0 398.5L274.0 398.4L275.0 398.4L276.0 398.5L277.0 398.9L277.2 399.0L278.0 399.6L278.5 400.0L279.0 400.4L279.7 401.0L280.0 401.3L280.9 402.0L281.0 402.1L282.0 403.0L282.0 403.0L283.0 403.9L283.1 404.0L284.0 404.8L284.2 405.0L285.0 405.8L285.2 406.0L286.0 406.7L286.3 407.0L287.0 407.7L287.4 408.0L288.0 408.6L288.4 409.0L289.0 409.6L289.4 410.0L290.0 410.6L290.4 411.0L291.0 411.6L291.4 412.0L292.0 412.6L292.4 413.0L293.0 413.6L293.3 414.0L294.0 414.7L294.3 415.0L295.0 415.8L295.2 416.0L296.0 416.9L296.1 417.0L297.0 418.0L297.0 418.0L297.9 419.0L298.0 419.2L298.7 420.0L299.0 420.3L299.6 421.0L300.0 421.5L300.4 422.0L301.0 422.7L301.2 423.0L302.0 424.0L302.1 424.0L303.0 424.5L304.0 424.8L304.9 425.0L305.0 425.0L305.0 425.0L306.0 424.7L307.0 424.3L307.7 424.0L308.0 423.9L309.0 423.5L310.0 423.2L310.3 423.0L311.0 422.3L311.2 422.0L312.0 421.1L312.1 421.0L313.0 420.0L313.0 420.0L313.9 419.0L314.0 418.9L314.9 418.0L315.0 417.9L315.8 417.0L316.0 416.8L316.8 416.0L317.0 415.8L317.8 415.0L318.0 414.8L318.9 414.0L319.0 413.9L319.9 413.0L320.0 412.9L321.0 412.0L321.0 412.0L322.0 411.1L322.1 411.0L323.0 410.2L323.2 410.0L324.0 409.4L324.4 409.0L325.0 408.5L325.7 408.0L326.0 407.7L327.0 407.0L327.0 407.0L328.0 406.5L328.7 407.0L329.0 407.2L330.0 408.0L330.0 408.0L331.0 408.9L331.1 409.0L332.0 409.8L332.2 410.0L333.0 410.7L333.3 411.0L334.0 411.7L334.3 412.0L335.0 412.7L335.3 413.0L336.0 413.7L336.3 414.0L337.0 414.7L337.2 415.0L338.0 415.8L338.2 416.0L339.0 416.7L339.3 417.0L340.0 417.5L340.6 418.0L341.0 418.3L341.8 419.0L342.0 419.2L343.0 420.0L343.0 420.0L344.0 420.8L344.2 421.0L345.0 421.7L345.4 422.0L346.0 422.6L346.5 423.0L347.0 423.5L347.6 424.0L348.0 424.4L348.7 425.0L349.0 425.3L349.8 426.0L350.0 426.2L351.0 426.4L352.0 426.2L352.4 426.0L353.0 425.7L354.0 425.3L354.9 425.0L355.0 425.0L356.0 424.7L357.0 424.5L358.0 424.3L359.0 424.1L359.5 424.0L360.0 423.9L361.0 423.8L362.0 423.7L363.0 423.6L364.0 423.6L365.0 423.5L366.0 423.5L367.0 423.5L368.0 423.4L369.0 423.4L370.0 423.4L371.0 423.4L372.0 423.5L373.0 423.5L374.0 423.5L375.0 423.6L376.0 423.7L377.0 423.8L378.0 424.0L378.2 424.0L379.0 424.2L380.0 424.4L381.0 424.7L381.7 425.0L382.0 425.1L383.0 425.6L383.7 426.0L384.0 426.2L384.9 427.0L385.0 427.1L385.6 428.0L386.0 428.8L386.1 429.0L386.3 430.0L386.3 431.0L386.0 431.0L385.0 431.1L384.0 431.1L383.0 431.2L382.0 431.2L381.0 431.3L380.0 431.3L379.0 431.3L378.0 431.3L377.0 431.4L376.0 431.4L375.0 431.4L374.0 431.4L373.0 431.4L372.0 431.4L371.0 431.4L370.0 431.4L369.0 431.4L368.0 431.4L367.0 431.4L366.0 431.4L365.0 431.4L364.0 431.4L363.0 431.4L362.0 431.4L361.0 431.4L360.0 431.3L359.0 431.3L358.0 431.3L357.0 431.3L356.0 431.3L355.0 431.2L354.0 431.2L353.0 431.3L352.0 431.3L351.7 431.0L351.0 430.4L350.6 430.0L350.0 429.4L349.0 429.5L348.5 429.0L348.0 428.5L347.0 428.5L346.5 428.0L346.0 427.5L345.0 427.6L344.4 427.0L344.0 426.6L343.0 426.6L342.4 426.0L342.0 425.6L341.0 425.6L340.4 425.0L340.0 424.6L339.0 424.7L338.3 424.0L338.0 423.7L337.0 423.7L336.3 423.0L336.0 422.7L335.0 422.7L334.3 422.0L334.0 421.7L333.0 421.7L332.3 421.0L332.0 420.7L331.0 420.8L330.0 420.8L329.2 420.0L329.0 419.8L328.0 419.8L327.0 419.8L326.0 419.8L325.8 420.0L325.0 420.8L324.0 420.7L323.0 420.7L322.7 421.0L322.0 421.7L321.0 421.7L320.7 422.0L320.0 422.7L319.0 422.7L318.0 422.6L317.6 423.0L317.0 423.6L316.0 423.6L315.6 424.0L315.0 424.6L314.0 424.5L313.0 424.5L312.5 425.0L312.0 425.5L311.0 425.5L310.0 425.4L309.5 426.0L309.0 426.5L308.0 426.5L307.5 427.0L307.0 427.5L306.0 427.5L305.0 427.5L304.5 428.0L304.0 428.5L303.0 428.5L302.0 428.5L301.0 428.6L300.4 428.0L300.0 427.6L299.4 427.0L299.0 426.6L298.0 426.7L297.3 426.0L297.0 425.7L296.0 425.7L295.3 425.0L295.0 424.7L294.3 424.0L294.0 423.7L293.0 423.7L292.3 423.0L292.0 422.8L291.2 422.0L291.0 421.8L290.0 421.8L289.2 421.0L289.0 420.8L288.0 420.8L287.2 420.0L287.0 419.8L286.2 419.0L286.0 418.8L285.0 418.8L284.2 418.0L284.0 417.8L283.0 417.8L282.2 417.0L282.0 416.8L281.2 416.0L281.0 415.8L280.0 415.8L279.2 415.0L279.0 414.8L278.0 414.9L277.1 414.0L277.0 413.9L276.1 413.0L276.0 412.8L275.0 412.8L274.0 412.8L273.2 412.0L273.0 411.8L272.0 411.8L271.0 411.8L270.2 411.0L270.0 410.8L269.0 410.8L268.0 410.8L267.2 410.0L267.0 409.8L266.0 409.8L265.2 409.0L265.0 408.7L264.0 408.7L263.3 408.0L263.0 407.7L262.0 407.7L261.3 407.0L261.0 406.6L260.0 406.6L259.0 406.5L258.5 406.0L258.0 405.4L257.0 405.4L256.6 405.0L256.0 404.2L255.3 404.0L255.9 403.0L256.0 402.9L257.0 402.1L257.1 402.0L258.0 401.6L259.0 401.1L259.3 401.0L260.0 400.8L261.0 400.4L262.0 400.1L262.5 400.0L263.0 399.9L264.0 399.7L265.0 399.5L266.0 399.3L267.0 399.2L268.0 399.1L268.6 399.0ZM255.0 404.6L255.1 405.0L255.0 405.1L254.8 405.0ZM457.0 433.9L458.0 433.7L459.0 433.6L460.0 433.5L461.0 433.4L462.0 433.4L463.0 433.3L464.0 433.3L465.0 433.3L466.0 433.3L467.0 433.3L468.0 433.3L469.0 433.3L470.0 433.3L471.0 433.3L472.0 433.3L473.0 433.4L474.0 433.4L475.0 433.5L476.0 433.8L476.6 434.0L477.0 434.1L478.0 434.2L479.0 434.2L480.0 434.2L481.0 434.3L482.0 434.4L483.0 434.7L483.7 435.0L484.0 435.1L485.0 435.2L486.0 435.3L487.0 435.4L488.0 435.6L489.0 436.0L489.0 436.0L490.0 436.2L491.0 436.3L492.0 436.5L493.0 436.8L493.3 437.0L494.0 437.2L495.0 437.4L496.0 437.5L497.0 437.7L497.7 438.0L498.0 438.1L499.0 438.3L500.0 438.5L501.0 438.8L501.6 439.0L502.0 439.1L503.0 439.4L504.0 439.7L504.7 440.0L505.0 440.1L506.0 440.5L507.0 440.8L507.4 441.0L508.0 441.3L509.0 441.7L509.6 442.0L510.0 442.2L511.0 442.8L511.4 443.0L512.0 443.4L512.8 444.0L513.0 444.1L514.0 445.0L514.0 445.0L514.9 446.0L515.0 446.2L515.4 447.0L515.7 448.0L515.0 448.2L514.0 448.3L513.0 448.4L512.0 448.5L511.0 448.5L510.0 448.6L509.0 448.6L508.0 448.6L507.0 448.6L506.0 448.7L505.0 448.7L504.0 448.7L503.0 448.7L502.0 448.7L501.0 448.7L500.3 448.0L500.0 447.7L499.0 447.7L498.0 447.7L497.0 447.8L496.0 447.8L495.0 447.8L494.0 447.8L493.0 447.8L492.0 447.8L491.0 447.8L490.0 447.8L489.0 447.8L488.0 447.8L487.2 447.0L487.0 446.8L486.0 446.8L485.0 446.8L484.0 446.8L483.0 446.8L482.0 446.8L481.0 446.8L480.0 446.8L479.0 446.8L478.2 446.0L478.0 445.8L477.0 445.8L476.0 445.8L475.0 445.8L474.0 445.8L473.0 445.8L472.0 445.8L471.0 445.8L470.0 445.8L469.0 445.8L468.0 445.8L467.2 445.0L467.0 444.8L466.0 444.8L465.0 444.8L464.0 444.8L463.0 444.8L462.0 444.8L461.0 444.8L460.0 444.8L459.0 444.8L458.0 444.8L457.0 444.8L456.2 444.0L456.0 443.7L455.0 443.7L454.0 443.7L453.0 443.7L452.0 443.7L451.0 443.7L450.0 443.7L449.3 443.0L449.0 442.7L448.0 442.7L447.0 442.6L446.0 442.6L445.4 442.0L445.0 441.6L444.0 441.5L443.0 441.5L442.0 441.4L441.6 441.0L441.0 440.3L440.0 440.1L439.6 440.0L439.9 439.0L440.0 438.8L440.5 438.0L441.0 437.6L441.7 437.0L442.0 436.9L443.0 436.4L443.8 436.0L444.0 435.9L445.0 435.7L446.0 435.4L447.0 435.2L448.0 435.0L448.2 435.0L449.0 434.9L450.0 434.7L451.0 434.7L452.0 434.6L453.0 434.5L454.0 434.4L455.0 434.2L456.0 434.1L456.6 434.0Z"/>
<path fill="#0000ff" fill-rule="evenodd" d="M276.0 269.7L277.0 269.3L278.0 269.0L279.0 269.3L280.0 269.7L280.6 270.0L281.0 270.2L282.0 270.6L282.7 271.0L283.0 271.1L284.0 271.7L284.6 272.0L285.0 272.3L286.0 273.0L286.0 273.0L287.0 273.8L287.3 274.0L288.0 274.6L288.4 275.0L289.0 275.6L289.4 276.0L290.0 276.8L290.1 277.0L290.7 278.0L291.0 278.5L291.3 279.0L291.7 280.0L292.0 280.6L292.2 281.0L292.6 282.0L292.9 283.0L293.0 283.2L293.3 284.0L293.7 285.0L294.0 286.0L294.0 286.0L294.3 287.0L294.7 288.0L295.0 289.0L295.0 289.1L295.3 290.0L295.5 291.0L295.7 292.0L295.9 293.0L296.0 293.7L296.1 294.0L296.2 295.0L296.4 296.0L296.6 297.0L296.7 298.0L296.9 299.0L297.0 299.8L297.0 300.0L297.0 301.0L297.0 302.0L297.0 303.0L297.0 304.0L297.0 305.0L297.0 306.0L297.0 307.0L297.0 308.0L297.0 309.0L297.0 310.0L297.0 310.3L296.9 311.0L296.8 312.0L296.7 313.0L296.6 314.0L296.5 315.0L296.4 316.0L296.2 317.0L297.0 317.9L297.1 318.0L297.1 319.0L297.1 320.0L297.1 321.0L297.1 322.0L297.1 323.0L297.1 324.0L297.0 325.0L297.0 325.2L296.9 326.0L296.8 327.0L296.7 328.0L296.6 329.0L296.5 330.0L296.4 331.0L296.3 332.0L296.1 333.0L296.0 333.3L295.8 334.0L295.5 335.0L295.2 336.0L295.0 336.6L294.9 337.0L294.5 338.0L294.1 339.0L294.0 339.3L293.7 340.0L293.1 341.0L293.0 341.2L292.4 342.0L292.0 342.5L291.5 343.0L291.0 343.4L290.0 343.8L289.0 343.9L288.0 343.7L287.8 344.0L287.1 345.0L287.0 345.2L286.3 346.0L286.0 346.4L285.5 347.0L285.0 347.5L284.4 348.0L284.1 349.0L284.0 349.2L283.7 350.0L283.3 351.0L283.0 351.7L282.9 352.0L282.4 353.0L282.0 353.9L282.0 354.0L281.5 355.0L281.0 356.0L281.0 356.0L280.4 357.0L280.0 357.7L279.8 358.0L279.2 359.0L279.0 359.3L278.3 360.0L278.0 360.4L277.7 360.0L277.0 359.3L276.8 359.0L276.2 358.0L276.0 357.7L275.6 357.0L275.0 356.0L275.0 356.0L274.5 355.0L274.0 354.0L274.0 353.9L273.6 353.0L273.1 352.0L273.0 351.7L272.7 351.0L272.3 350.0L272.0 349.2L271.9 349.0L271.6 348.0L271.0 347.5L270.5 347.0L270.0 346.4L269.7 346.0L269.0 345.2L268.9 345.0L268.2 344.0L268.0 343.7L267.5 343.0L267.0 342.1L267.0 342.0L266.4 341.0L266.0 340.1L265.9 340.0L265.5 339.0L265.1 338.0L265.0 337.8L264.7 337.0L264.3 336.0L264.0 335.1L264.0 335.0L263.6 334.0L263.2 333.0L263.0 332.5L262.8 332.0L262.5 331.0L262.2 330.0L262.0 329.4L261.9 329.0L261.6 328.0L261.3 327.0L261.1 326.0L261.0 325.7L260.8 325.0L260.6 324.0L260.5 323.0L260.3 322.0L260.2 321.0L260.1 320.0L260.0 319.1L260.0 319.0L259.9 318.0L259.8 317.0L259.6 316.0L259.5 315.0L259.4 314.0L259.3 313.0L259.2 312.0L259.1 311.0L259.0 310.3L259.0 310.0L259.0 309.0L259.0 308.0L259.0 307.0L259.0 306.0L259.0 305.0L259.0 304.0L259.0 303.0L259.0 302.0L259.0 301.0L259.0 300.0L259.0 299.8L259.1 299.0L259.3 298.0L259.4 297.0L259.6 296.0L259.8 295.0L259.9 294.0L260.0 293.7L260.1 293.0L260.3 292.0L260.5 291.0L260.7 290.0L261.0 289.1L261.0 289.0L261.3 288.0L261.7 287.0L262.0 286.0L262.0 286.0L262.3 285.0L262.7 284.0L263.0 283.2L263.1 283.0L263.4 282.0L263.8 281.0L264.0 280.6L264.3 280.0L264.7 279.0L265.0 278.5L265.3 278.0L265.9 277.0L266.0 276.8L266.6 276.0L267.0 275.6L267.6 275.0L268.0 274.6L268.7 274.0L269.0 273.8L270.0 273.0L270.0 273.0L271.0 272.3L271.4 272.0L272.0 271.7L273.0 271.1L273.3 271.0L274.0 270.6L275.0 270.2L275.4 270.0ZM475.0 278.8L476.0 278.2L477.0 278.2L478.0 278.8L478.3 279.0L479.0 279.5L479.8 280.0L480.0 280.2L481.0 280.8L481.3 281.0L482.0 281.5L482.8 282.0L483.0 282.1L484.0 282.8L484.4 283.0L485.0 283.4L485.9 284.0L486.0 284.1L487.0 284.7L487.4 285.0L488.0 285.4L489.0 286.0L489.0 286.0L490.0 286.7L490.5 287.0L491.0 287.3L492.0 288.0L492.0 288.0L493.0 288.6L493.6 289.0L494.0 289.3L495.0 289.9L495.1 290.0L496.0 290.6L496.7 291.0L497.0 291.2L497.9 292.0L498.0 292.2L498.3 293.0L498.8 294.0L499.0 294.5L499.2 295.0L499.6 296.0L500.0 296.8L500.2 297.0L501.0 297.6L501.4 298.0L502.0 298.4L502.7 299.0L503.0 299.2L503.9 300.0L504.0 300.0L505.0 300.8L505.2 301.0L506.0 301.6L506.4 302.0L507.0 302.5L507.5 303.0L507.5 304.0L507.5 305.0L507.5 306.0L507.5 307.0L507.5 308.0L507.5 309.0L507.5 310.0L507.5 311.0L507.5 312.0L507.5 313.0L507.5 314.0L507.5 315.0L507.5 316.0L507.5 317.0L507.5 318.0L507.5 319.0L507.5 320.0L507.5 321.0L507.5 322.0L507.5 323.0L507.5 324.0L507.5 325.0L507.5 326.0L507.5 327.0L507.5 328.0L507.5 329.0L507.5 330.0L507.5 331.0L507.4 332.0L507.4 333.0L507.4 334.0L507.3 335.0L507.3 336.0L507.2 337.0L507.2 338.0L507.1 339.0L507.0 340.0L507.0 340.5L507.0 341.0L506.9 342.0L506.8 343.0L506.7 344.0L506.5 345.0L506.4 346.0L506.3 347.0L506.1 348.0L506.0 348.9L506.0 349.0L505.8 350.0L505.6 351.0L505.4 352.0L505.2 353.0L505.0 354.0L505.0 354.0L504.8 355.0L504.5 356.0L504.2 357.0L504.0 357.8L503.9 358.0L503.6 359.0L503.3 360.0L503.0 360.9L503.0 361.0L502.6 362.0L502.2 363.0L502.0 363.5L501.8 364.0L501.4 365.0L501.0 365.8L500.9 366.0L500.4 367.0L500.0 367.7L499.8 368.0L499.3 369.0L499.0 369.4L498.6 370.0L498.0 370.9L497.9 371.0L497.2 372.0L497.0 372.3L496.4 373.0L496.0 373.5L495.5 374.0L495.0 374.6L494.5 375.0L494.0 375.5L493.4 376.0L493.0 376.4L492.2 377.0L492.0 377.1L491.0 377.8L490.7 378.0L490.0 378.4L489.0 379.0L488.9 379.0L488.0 379.4L487.0 379.8L486.5 380.0L486.0 380.2L485.0 380.5L484.0 380.7L483.0 380.9L482.4 381.0L482.0 381.1L481.0 381.2L480.0 381.3L479.0 381.3L478.0 381.4L477.0 381.4L476.0 381.4L475.0 381.4L474.0 381.3L473.0 381.3L472.0 381.2L471.0 381.0L470.8 381.0L470.0 380.9L469.0 380.6L468.0 380.4L467.0 380.0L466.9 380.0L466.0 379.7L465.0 379.2L464.6 379.0L464.0 378.7L463.0 378.1L462.8 378.0L462.0 377.4L461.4 377.0L461.0 376.7L460.2 376.0L460.0 375.8L459.1 375.0L459.0 374.9L458.2 374.0L458.0 373.8L457.4 373.0L457.0 372.6L456.6 372.0L456.0 371.2L455.9 371.0L455.2 370.0L455.0 369.6L454.6 369.0L454.1 368.0L454.0 367.9L453.5 367.0L453.1 366.0L453.0 365.9L452.6 365.0L452.2 364.0L452.0 363.6L451.8 363.0L451.4 362.0L451.0 361.0L451.0 360.9L450.7 360.0L450.4 359.0L450.1 358.0L450.0 357.6L449.8 357.0L449.6 356.0L449.3 355.0L449.1 354.0L449.0 353.5L448.9 353.0L448.7 352.0L448.5 351.0L448.3 350.0L448.2 349.0L448.0 348.0L448.0 348.0L447.9 347.0L447.7 346.0L447.6 345.0L447.5 344.0L447.4 343.0L447.3 342.0L447.2 341.0L447.1 340.0L447.1 339.0L447.0 338.0L447.0 338.0L446.9 337.0L446.9 336.0L446.9 335.0L446.8 334.0L446.8 333.0L446.8 332.0L446.7 331.0L446.7 330.0L446.7 329.0L446.7 328.0L446.7 327.0L446.7 326.0L446.7 325.0L446.7 324.0L446.7 323.0L446.7 322.0L446.7 321.0L446.7 320.0L446.7 319.0L446.7 318.0L446.7 317.0L446.7 316.0L446.7 315.0L446.7 314.0L446.7 313.0L446.7 312.0L446.7 311.0L446.7 310.0L446.7 309.0L446.7 308.0L446.7 307.0L446.7 306.0L446.7 305.0L446.7 304.0L446.7 303.0L446.7 302.0L447.0 301.7L447.8 301.0L448.0 300.8L449.0 300.0L449.1 300.0L450.0 299.2L450.3 299.0L451.0 298.4L451.6 298.0L452.0 297.6L452.8 297.0L453.0 296.8L453.4 296.0L453.8 295.0L454.0 294.5L454.2 294.0L454.7 293.0L455.0 292.2L455.1 292.0L456.0 291.2L456.3 291.0L457.0 290.6L457.9 290.0L458.0 289.9L459.0 289.3L459.4 289.0L460.0 288.6L461.0 288.0L461.0 288.0L462.0 287.3L462.5 287.0L463.0 286.7L464.0 286.0L464.0 286.0L465.0 285.4L465.6 285.0L466.0 284.7L467.0 284.1L467.1 284.0L468.0 283.4L468.6 283.0L469.0 282.8L470.0 282.1L470.2 282.0L471.0 281.5L471.7 281.0L472.0 280.8L473.0 280.2L473.2 280.0L474.0 279.5L474.7 279.0ZM327.0 279.9L328.0 279.9L328.2 280.0L329.0 280.6L329.6 281.0L330.0 281.4L330.7 282.0L331.0 282.3L331.8 283.0L332.0 283.2L332.8 284.0L333.0 284.3L333.7 285.0L334.0 285.4L334.4 286.0L335.0 286.9L335.1 287.0L335.7 288.0L336.0 288.5L336.3 289.0L336.8 290.0L337.0 290.4L337.3 291.0L337.8 292.0L338.0 292.5L338.2 293.0L338.6 294.0L339.0 295.0L339.0 295.0L339.4 296.0L339.7 297.0L340.0 297.7L340.1 298.0L340.4 299.0L340.6 300.0L340.8 301.0L341.0 301.9L341.0 302.0L341.2 303.0L341.4 304.0L341.5 305.0L341.7 306.0L341.9 307.0L342.0 307.8L342.0 308.0L342.2 309.0L342.3 310.0L342.5 311.0L342.3 312.0L342.2 313.0L342.1 314.0L342.0 314.7L342.0 315.0L341.8 316.0L341.7 317.0L342.0 317.3L342.8 318.0L342.8 319.0L342.9 320.0L342.9 321.0L342.9 322.0L343.0 323.0L343.0 323.3L343.0 324.0L343.1 325.0L343.1 326.0L343.2 327.0L343.2 328.0L343.3 329.0L343.3 330.0L343.4 331.0L343.5 332.0L343.2 333.0L343.0 333.7L342.9 334.0L342.4 335.0L342.0 335.8L341.8 336.0L341.0 336.7L340.0 336.7L339.0 336.0L339.0 336.0L338.3 335.0L338.0 334.6L337.9 335.0L337.6 336.0L337.2 337.0L337.0 337.6L336.9 338.0L336.5 339.0L336.1 340.0L336.0 340.2L335.7 341.0L335.2 342.0L335.0 342.5L334.8 343.0L334.3 344.0L334.0 344.7L333.8 345.0L333.3 346.0L333.0 346.6L332.8 347.0L332.2 348.0L332.0 348.3L331.6 349.0L331.0 349.9L330.9 350.0L330.4 351.0L330.0 351.9L329.9 352.0L329.4 353.0L329.0 353.7L328.8 354.0L328.1 355.0L328.0 355.1L327.0 355.1L326.9 355.0L326.3 354.0L326.0 353.5L325.7 353.0L325.2 352.0L325.0 351.6L324.7 351.0L324.2 350.0L324.0 349.6L323.6 349.0L323.1 348.0L323.0 347.9L322.5 347.0L322.0 346.0L322.0 345.9L321.6 345.0L321.2 344.0L321.0 343.6L320.8 343.0L320.4 342.0L320.0 341.0L320.0 340.9L319.7 340.0L319.3 339.0L319.0 338.3L318.9 338.0L318.5 337.0L318.2 336.0L318.0 335.4L317.0 335.9L316.0 335.9L315.0 335.2L314.8 335.0L314.1 334.0L314.0 333.9L313.6 333.0L313.1 332.0L313.1 331.0L313.0 330.0L313.0 329.7L313.0 329.0L312.9 328.0L312.9 327.0L312.8 326.0L312.8 325.0L312.8 324.0L312.8 323.0L312.9 322.0L312.9 321.0L312.9 320.0L312.9 319.0L312.9 318.0L313.0 317.9L313.9 317.0L313.8 316.0L313.7 315.0L313.5 314.0L313.4 313.0L313.3 312.0L313.2 311.0L313.3 310.0L313.5 309.0L313.6 308.0L313.8 307.0L313.9 306.0L314.0 305.4L314.1 305.0L314.2 304.0L314.4 303.0L314.6 302.0L314.8 301.0L315.0 300.0L315.0 299.8L315.2 299.0L315.4 298.0L315.7 297.0L316.0 296.1L316.0 296.0L316.3 295.0L316.7 294.0L317.0 293.2L317.1 293.0L317.5 292.0L317.9 291.0L318.0 290.7L318.3 290.0L318.8 289.0L319.0 288.7L319.4 288.0L320.0 287.0L320.0 286.9L320.6 286.0L321.0 285.4L321.3 285.0L322.0 284.3L322.2 284.0L323.0 283.2L323.2 283.0L324.0 282.3L324.3 282.0L325.0 281.4L325.4 281.0L326.0 280.6L326.8 280.0ZM376.0 301.4L376.8 302.0L377.0 302.1L378.0 303.0L378.0 303.0L379.0 304.0L379.0 304.1L379.3 305.0L379.6 306.0L379.9 307.0L380.0 307.5L380.1 308.0L380.4 309.0L380.7 310.0L380.9 311.0L381.0 311.4L381.1 312.0L381.4 313.0L381.6 314.0L381.8 315.0L381.7 316.0L381.5 317.0L381.3 318.0L381.1 319.0L381.0 319.5L380.9 320.0L380.7 321.0L380.5 322.0L380.3 323.0L380.1 324.0L380.0 324.5L379.9 325.0L379.5 326.0L379.1 327.0L379.0 327.1L378.6 328.0L378.1 329.0L378.0 329.3L377.6 330.0L377.1 331.0L377.0 331.1L376.4 332.0L376.0 332.5L375.6 332.0L375.0 331.3L374.8 331.0L374.2 330.0L374.0 329.6L373.7 329.0L373.2 328.0L373.0 327.6L372.7 327.0L372.2 326.0L372.0 325.5L371.8 325.0L371.6 324.0L371.4 323.0L371.2 322.0L371.0 321.0L371.0 321.0L370.8 320.0L370.6 319.0L370.5 318.0L370.3 317.0L370.1 316.0L370.0 315.4L369.9 315.0L370.0 314.7L370.2 314.0L370.4 313.0L370.7 312.0L371.0 311.0L371.0 310.9L371.2 310.0L371.5 309.0L371.8 308.0L372.0 307.3L372.1 307.0L372.4 306.0L372.7 305.0L373.0 304.1L373.0 304.0L374.0 303.0L374.0 303.0L375.0 302.1L375.2 302.0ZM275.0 399.0L275.3 399.0L276.0 399.1L277.0 399.5L277.7 400.0L278.0 400.2L279.0 401.0L279.0 401.0L280.0 401.9L280.1 402.0L281.0 402.7L281.3 403.0L282.0 403.6L282.4 404.0L283.0 404.5L283.5 405.0L284.0 405.5L284.6 406.0L285.0 406.4L285.6 407.0L286.0 407.3L286.7 408.0L287.0 408.3L287.7 409.0L288.0 409.3L288.7 410.0L289.0 410.3L289.7 411.0L290.0 411.3L290.7 412.0L291.0 412.3L291.7 413.0L292.0 413.3L292.7 414.0L293.0 414.3L293.6 415.0L294.0 415.4L294.5 416.0L295.0 416.5L295.4 417.0L296.0 417.6L296.3 418.0L297.0 418.8L297.2 419.0L298.0 419.9L298.1 420.0L298.9 421.0L299.0 421.1L299.7 422.0L300.0 422.3L300.6 423.0L301.0 423.6L301.4 424.0L302.0 424.8L302.3 425.0L303.0 425.4L304.0 425.8L305.0 425.6L306.0 425.2L306.5 425.0L307.0 424.8L308.0 424.5L309.0 424.1L309.3 424.0L310.0 423.7L311.0 423.2L311.3 423.0L312.0 422.2L312.2 422.0L313.0 421.0L313.0 421.0L313.9 420.0L314.0 419.9L314.9 419.0L315.0 418.8L315.8 418.0L316.0 417.8L316.8 417.0L317.0 416.8L317.8 416.0L318.0 415.8L318.8 415.0L319.0 414.8L319.8 414.0L320.0 413.8L320.9 413.0L321.0 412.9L322.0 412.0L322.0 412.0L323.0 411.1L323.1 411.0L324.0 410.2L324.3 410.0L325.0 409.4L325.5 409.0L326.0 408.6L326.7 408.0L327.0 407.8L328.0 407.3L328.9 408.0L329.0 408.1L330.0 408.9L330.1 409.0L331.0 409.8L331.3 410.0L332.0 410.7L332.3 411.0L333.0 411.6L333.4 412.0L334.0 412.6L334.4 413.0L335.0 413.6L335.4 414.0L336.0 414.6L336.4 415.0L337.0 415.7L337.3 416.0L338.0 416.6L338.5 417.0L339.0 417.4L339.7 418.0L340.0 418.2L340.9 419.0L341.0 419.1L342.0 419.9L342.1 420.0L343.0 420.7L343.3 421.0L344.0 421.6L344.5 422.0L345.0 422.5L345.6 423.0L346.0 423.4L346.7 424.0L347.0 424.3L347.8 425.0L348.0 425.2L348.8 426.0L349.0 426.2L349.8 427.0L350.0 427.2L350.8 428.0L351.0 428.2L351.7 429.0L352.0 429.3L353.0 430.0L354.0 429.3L354.1 429.0L354.9 428.0L355.0 428.0L356.0 427.3L356.5 427.0L357.0 426.8L358.0 426.4L359.0 426.1L359.4 426.0L360.0 425.9L361.0 425.7L362.0 425.5L363.0 425.4L364.0 425.3L365.0 425.2L366.0 425.2L367.0 425.1L368.0 425.1L369.0 425.1L370.0 425.1L371.0 425.1L372.0 425.1L373.0 425.2L374.0 425.2L375.0 425.4L376.0 425.5L377.0 425.7L378.0 425.9L378.2 426.0L379.0 426.3L380.0 426.7L380.5 427.0L381.0 427.4L381.7 428.0L382.0 428.4L382.3 429.0L382.6 430.0L382.7 431.0L382.0 431.0L381.0 431.1L380.0 431.1L379.0 431.2L378.0 431.2L377.0 431.2L376.0 431.2L375.0 431.2L374.0 431.3L373.0 431.3L372.0 431.3L371.0 431.3L370.0 431.3L369.0 431.3L368.0 431.3L367.0 431.3L366.0 431.3L365.0 431.3L364.0 431.3L363.0 431.2L362.0 431.2L361.0 431.2L360.0 431.2L359.0 431.2L358.0 431.1L357.0 431.1L356.0 431.1L355.0 431.1L354.0 431.0L353.0 431.1L352.0 431.2L351.8 431.0L351.0 430.2L350.8 430.0L350.0 429.2L349.0 429.3L348.7 429.0L348.0 428.3L347.0 428.4L346.6 428.0L346.0 427.4L345.0 427.5L344.5 427.0L344.0 426.5L343.0 426.5L342.5 426.0L342.0 425.5L341.0 425.6L340.4 425.0L340.0 424.6L339.0 424.6L338.4 424.0L338.0 423.6L337.0 423.6L336.4 423.0L336.0 422.6L335.0 422.6L334.4 422.0L334.0 421.6L333.0 421.7L332.3 421.0L332.0 420.7L331.0 420.7L330.0 420.7L329.3 420.0L329.0 419.7L328.0 419.7L327.0 419.7L326.0 419.7L325.7 420.0L325.0 420.7L324.0 420.7L323.0 420.7L322.7 421.0L322.0 421.7L321.0 421.6L320.6 422.0L320.0 422.6L319.0 422.6L318.0 422.6L317.5 423.0L317.0 423.5L316.0 423.5L315.5 424.0L315.0 424.5L314.0 424.4L313.0 424.3L312.4 425.0L312.0 425.4L311.0 425.3L310.0 425.3L309.4 426.0L309.0 426.4L308.0 426.3L307.4 427.0L307.0 427.4L306.0 427.4L305.0 427.3L304.4 428.0L304.0 428.4L303.0 428.4L302.0 428.4L301.0 428.5L300.5 428.0L300.0 427.5L299.5 427.0L299.0 426.5L298.0 426.6L297.4 426.0L297.0 425.6L296.0 425.6L295.4 425.0L295.0 424.6L294.4 424.0L294.0 423.7L293.0 423.7L292.3 423.0L292.0 422.7L291.3 422.0L291.0 421.7L290.0 421.7L289.3 421.0L289.0 420.7L288.0 420.7L287.3 420.0L287.0 419.7L286.3 419.0L286.0 418.8L285.0 418.8L284.2 418.0L284.0 417.8L283.0 417.8L282.2 417.0L282.0 416.8L281.2 416.0L281.0 415.8L280.0 415.8L279.2 415.0L279.0 414.8L278.0 414.8L277.2 414.0L277.0 413.8L276.2 413.0L276.0 412.8L275.0 412.8L274.0 412.8L273.2 412.0L273.0 411.8L272.0 411.8L271.0 411.8L270.2 411.0L270.0 410.7L269.0 410.7L268.0 410.7L267.3 410.0L267.0 409.7L266.0 409.7L265.3 409.0L265.0 408.7L264.0 408.6L263.4 408.0L263.0 407.6L262.0 407.6L261.4 407.0L261.0 406.5L260.0 406.5L259.0 406.4L258.6 406.0L258.0 405.3L257.0 405.2L256.8 405.0L256.1 404.0L257.0 403.1L257.1 403.0L258.0 402.5L259.0 402.0L259.0 402.0L260.0 401.6L261.0 401.2L261.6 401.0L262.0 400.9L263.0 400.6L264.0 400.4L265.0 400.2L265.9 400.0L266.0 400.0L267.0 399.8L268.0 399.7L269.0 399.6L270.0 399.5L271.0 399.3L272.0 399.2L273.0 399.1L274.0 399.0L274.3 399.0ZM460.0 434.0L461.0 433.9L462.0 433.8L463.0 433.8L464.0 433.7L465.0 433.7L466.0 433.7L467.0 433.7L468.0 433.7L469.0 433.7L470.0 433.7L471.0 433.8L472.0 433.8L473.0 433.9L473.7 434.0L474.0 434.0L475.0 434.1L476.0 434.2L477.0 434.3L478.0 434.5L479.0 434.5L480.0 434.6L481.0 434.8L481.9 435.0L482.0 435.0L483.0 435.2L484.0 435.4L485.0 435.5L486.0 435.6L487.0 435.8L487.5 436.0L488.0 436.1L489.0 436.3L490.0 436.5L491.0 436.7L492.0 437.0L492.0 437.0L493.0 437.3L494.0 437.5L495.0 437.7L496.0 438.0L496.1 438.0L497.0 438.2L498.0 438.4L499.0 438.7L500.0 438.9L500.2 439.0L501.0 439.2L502.0 439.5L503.0 439.8L503.5 440.0L504.0 440.2L505.0 440.5L506.0 440.9L506.2 441.0L507.0 441.3L508.0 441.8L508.5 442.0L509.0 442.3L510.0 442.8L510.3 443.0L511.0 443.5L511.8 444.0L512.0 444.2L513.0 445.0L513.0 445.0L513.8 446.0L514.0 446.3L514.4 447.0L514.7 448.0L514.0 448.1L513.0 448.2L512.0 448.3L511.0 448.4L510.0 448.4L509.0 448.5L508.0 448.5L507.0 448.6L506.0 448.6L505.0 448.6L504.0 448.6L503.0 448.6L502.0 448.6L501.0 448.7L500.3 448.0L500.0 447.7L499.0 447.7L498.0 447.7L497.0 447.7L496.0 447.7L495.0 447.7L494.0 447.7L493.0 447.7L492.0 447.7L491.0 447.7L490.0 447.7L489.0 447.7L488.0 447.7L487.3 447.0L487.0 446.7L486.0 446.7L485.0 446.7L484.0 446.7L483.0 446.7L482.0 446.7L481.0 446.7L480.0 446.7L479.0 446.7L478.3 446.0L478.0 445.7L477.0 445.7L476.0 445.7L475.0 445.7L474.0 445.7L473.0 445.7L472.0 445.7L471.0 445.7L470.0 445.7L469.0 445.7L468.0 445.7L467.3 445.0L467.0 444.7L466.0 444.7L465.0 444.7L464.0 444.7L463.0 444.7L462.0 444.7L461.0 444.7L460.0 444.7L459.0 444.7L458.0 444.7L457.0 444.7L456.3 444.0L456.0 443.7L455.0 443.7L454.0 443.7L453.0 443.7L452.0 443.6L451.0 443.6L450.0 443.6L449.4 443.0L449.0 442.6L448.0 442.6L447.0 442.5L446.0 442.5L445.5 442.0L445.0 441.5L444.0 441.4L443.0 441.3L442.0 441.2L441.8 441.0L441.0 440.1L440.5 440.0L440.9 439.0L441.0 438.9L441.7 438.0L442.0 437.8L443.0 437.1L443.1 437.0L444.0 436.6L445.0 436.2L445.7 436.0L446.0 435.9L447.0 435.7L448.0 435.5L449.0 435.4L450.0 435.3L451.0 435.2L452.0 435.1L452.5 435.0L453.0 434.9L454.0 434.7L455.0 434.6L456.0 434.4L457.0 434.3L458.0 434.2L459.0 434.1L460.0 434.0Z"/>
<path fill="#0005ff" fill-rule="evenodd" d="M277.0 271.0L278.0 270.7L279.0 271.0L279.1 271.0L280.0 271.4L281.0 271.8L281.4 272.0L282.0 272.3L283.0 272.9L283.1 273.0L284.0 273.6L284.6 274.0L285.0 274.3L285.9 275.0L286.0 275.1L287.0 275.9L287.1 276.0L288.0 277.0L288.0 277.0L288.7 278.0L289.0 278.4L289.4 279.0L290.0 280.0L290.0 280.0L290.5 281.0L291.0 282.0L291.0 282.0L291.4 283.0L291.9 284.0L292.0 284.3L292.3 285.0L292.7 286.0L293.0 286.8L293.1 287.0L293.4 288.0L293.8 289.0L294.0 289.7L294.1 290.0L294.4 291.0L294.6 292.0L294.8 293.0L295.0 294.0L295.0 294.2L295.1 295.0L295.3 296.0L295.5 297.0L295.7 298.0L295.8 299.0L296.0 299.9L296.0 300.0L296.0 301.0L296.0 302.0L296.0 303.0L296.0 304.0L296.0 305.0L296.0 306.0L296.0 307.0L296.0 308.0L296.0 309.0L296.0 310.0L296.0 310.1L295.9 311.0L295.8 312.0L295.7 313.0L295.5 314.0L295.4 315.0L295.3 316.0L295.2 317.0L296.0 318.0L296.0 319.0L296.0 320.0L295.9 321.0L295.9 322.0L295.9 323.0L295.9 324.0L295.7 325.0L295.6 326.0L295.5 327.0L295.3 328.0L295.1 329.0L295.0 329.9L295.0 330.0L294.8 331.0L294.6 332.0L294.2 333.0L294.0 333.5L293.8 334.0L293.3 335.0L293.0 335.6L292.8 336.0L292.2 337.0L292.0 337.4L291.5 338.0L291.0 338.6L290.5 339.0L290.0 339.4L289.0 339.8L288.0 340.0L288.0 340.0L287.4 341.0L287.0 341.6L286.7 342.0L286.0 343.0L286.0 343.0L285.2 344.0L285.0 344.3L284.4 345.0L284.0 345.4L283.4 346.0L283.0 346.3L282.2 347.0L282.0 347.2L281.0 347.9L280.8 348.0L280.3 349.0L280.0 349.7L279.8 350.0L279.2 351.0L279.0 351.4L278.5 352.0L278.0 352.6L277.5 352.0L277.0 351.4L276.8 351.0L276.2 350.0L276.0 349.7L275.7 349.0L275.2 348.0L275.0 347.9L274.0 347.2L273.8 347.0L273.0 346.3L272.6 346.0L272.0 345.4L271.6 345.0L271.0 344.3L270.8 344.0L270.0 343.0L270.0 343.0L269.3 342.0L269.0 341.6L268.6 341.0L268.0 340.0L268.0 340.0L267.5 339.0L267.0 338.1L267.0 338.0L266.5 337.0L266.1 336.0L266.0 335.8L265.7 335.0L265.2 334.0L265.0 333.6L264.7 333.0L264.3 332.0L264.0 331.1L263.9 331.0L263.6 330.0L263.2 329.0L263.0 328.3L262.9 328.0L262.6 327.0L262.3 326.0L262.0 325.0L262.0 324.9L261.8 324.0L261.6 323.0L261.5 322.0L261.4 321.0L261.2 320.0L261.1 319.0L261.0 318.3L261.0 318.0L260.8 317.0L260.7 316.0L260.6 315.0L260.5 314.0L260.3 313.0L260.2 312.0L260.1 311.0L260.0 310.1L260.0 310.0L260.0 309.0L260.0 308.0L260.0 307.0L260.0 306.0L260.0 305.0L260.0 304.0L260.0 303.0L260.0 302.0L260.0 301.0L260.0 300.0L260.0 299.9L260.2 299.0L260.3 298.0L260.5 297.0L260.7 296.0L260.9 295.0L261.0 294.2L261.0 294.0L261.2 293.0L261.4 292.0L261.6 291.0L261.9 290.0L262.0 289.7L262.2 289.0L262.6 288.0L262.9 287.0L263.0 286.8L263.3 286.0L263.7 285.0L264.0 284.3L264.1 284.0L264.6 283.0L265.0 282.0L265.0 282.0L265.5 281.0L266.0 280.0L266.0 280.0L266.6 279.0L267.0 278.4L267.3 278.0L268.0 277.0L268.0 277.0L268.9 276.0L269.0 275.9L270.0 275.1L270.1 275.0L271.0 274.3L271.4 274.0L272.0 273.6L272.9 273.0L273.0 272.9L274.0 272.3L274.6 272.0L275.0 271.8L276.0 271.4L276.9 271.0ZM476.0 279.9L477.0 279.9L477.2 280.0L478.0 280.6L478.7 281.0L479.0 281.2L480.0 281.9L480.2 282.0L481.0 282.5L481.8 283.0L482.0 283.2L483.0 283.8L483.3 284.0L484.0 284.5L484.8 285.0L485.0 285.1L486.0 285.8L486.4 286.0L487.0 286.4L487.9 287.0L488.0 287.1L489.0 287.7L489.4 288.0L490.0 288.4L491.0 289.0L491.0 289.0L492.0 289.7L492.5 290.0L493.0 290.3L494.0 291.0L494.1 291.0L495.0 291.6L495.6 292.0L496.0 292.4L496.4 293.0L496.9 294.0L497.0 294.3L497.3 295.0L497.7 296.0L498.0 296.6L498.2 297.0L498.6 298.0L499.0 298.9L499.1 299.0L499.5 300.0L499.9 301.0L500.0 301.1L501.0 302.0L501.0 302.0L502.0 302.8L502.3 303.0L502.5 304.0L502.5 305.0L502.5 306.0L502.5 307.0L502.5 308.0L502.5 309.0L502.5 310.0L502.5 311.0L502.5 312.0L502.5 313.0L502.5 314.0L502.5 315.0L502.5 316.0L502.5 317.0L502.5 318.0L502.5 319.0L502.5 320.0L502.5 321.0L502.5 322.0L502.5 323.0L502.5 324.0L502.5 325.0L502.5 326.0L502.5 327.0L502.5 328.0L502.5 329.0L502.5 330.0L502.4 331.0L502.4 332.0L502.4 333.0L502.3 334.0L502.3 335.0L502.2 336.0L502.2 337.0L502.1 338.0L502.0 339.0L502.0 339.0L501.9 340.0L501.8 341.0L501.7 342.0L501.5 343.0L501.4 344.0L501.2 345.0L501.1 346.0L501.0 346.4L500.9 347.0L500.7 348.0L500.5 349.0L500.2 350.0L500.0 351.0L500.0 351.0L499.7 352.0L499.4 353.0L499.1 354.0L499.0 354.3L498.8 355.0L498.4 356.0L498.0 357.0L498.0 357.0L497.6 358.0L497.1 359.0L497.0 359.3L496.6 360.0L496.1 361.0L496.0 361.2L495.5 362.0L495.0 362.8L494.9 363.0L494.2 364.0L494.0 364.3L493.4 365.0L493.0 365.5L492.5 366.0L492.0 366.6L491.6 367.0L491.0 367.5L490.4 368.0L490.0 368.4L489.1 369.0L489.0 369.1L488.0 369.7L487.5 370.0L487.0 370.2L486.0 370.7L485.2 371.0L485.0 371.1L484.0 371.4L483.0 371.7L482.0 371.9L481.2 372.0L481.0 372.0L480.0 372.1L479.0 372.2L478.0 372.3L477.0 372.3L476.0 372.3L475.0 372.3L474.0 372.2L473.0 372.1L472.0 372.0L471.9 372.0L471.0 371.8L470.0 371.6L469.0 371.3L468.1 371.0L468.0 371.0L467.0 370.5L466.0 370.0L465.9 370.0L465.0 369.4L464.4 369.0L464.0 368.7L463.1 368.0L463.0 367.9L462.0 367.0L462.0 367.0L461.1 366.0L461.0 365.9L460.2 365.0L460.0 364.7L459.5 364.0L459.0 363.3L458.8 363.0L458.2 362.0L458.0 361.6L457.7 361.0L457.1 360.0L457.0 359.7L456.7 359.0L456.2 358.0L456.0 357.5L455.8 357.0L455.4 356.0L455.1 355.0L455.0 354.7L454.8 354.0L454.5 353.0L454.2 352.0L454.0 351.3L453.9 351.0L453.7 350.0L453.5 349.0L453.2 348.0L453.0 347.0L453.0 346.7L452.9 346.0L452.7 345.0L452.6 344.0L452.4 343.0L452.3 342.0L452.2 341.0L452.1 340.0L452.0 339.2L452.0 339.0L451.9 338.0L451.8 337.0L451.8 336.0L451.7 335.0L451.7 334.0L451.6 333.0L451.6 332.0L451.6 331.0L451.5 330.0L451.5 329.0L451.5 328.0L451.5 327.0L451.5 326.0L451.5 325.0L451.5 324.0L451.5 323.0L451.5 322.0L451.5 321.0L451.5 320.0L451.5 319.0L451.5 318.0L451.5 317.0L451.5 316.0L451.5 315.0L451.5 314.0L451.5 313.0L451.5 312.0L451.5 311.0L451.5 310.0L451.5 309.0L451.5 308.0L451.5 307.0L451.5 306.0L451.5 305.0L451.5 304.0L451.5 303.0L452.0 302.0L452.0 302.0L453.0 301.1L453.1 301.0L453.5 300.0L453.9 299.0L454.0 298.9L454.4 298.0L454.8 297.0L455.0 296.6L455.3 296.0L455.7 295.0L456.0 294.3L456.1 294.0L456.6 293.0L457.0 292.4L457.4 292.0L458.0 291.6L458.9 291.0L459.0 291.0L460.0 290.3L460.5 290.0L461.0 289.7L462.0 289.0L462.0 289.0L463.0 288.4L463.6 288.0L464.0 287.7L465.0 287.1L465.1 287.0L466.0 286.4L466.6 286.0L467.0 285.8L468.0 285.1L468.2 285.0L469.0 284.5L469.7 284.0L470.0 283.8L471.0 283.2L471.2 283.0L472.0 282.5L472.8 282.0L473.0 281.9L474.0 281.2L474.3 281.0L475.0 280.6L475.8 280.0ZM327.0 283.7L328.0 283.7L328.4 284.0L329.0 284.4L329.7 285.0L330.0 285.3L330.7 286.0L331.0 286.3L331.6 287.0L332.0 287.5L332.4 288.0L333.0 288.8L333.1 289.0L333.8 290.0L334.0 290.3L334.4 291.0L335.0 292.0L335.0 292.0L335.6 293.0L336.0 293.9L336.1 294.0L336.5 295.0L337.0 296.0L337.0 296.0L337.4 297.0L337.8 298.0L338.0 298.4L338.2 299.0L338.5 300.0L338.7 301.0L339.0 302.0L339.0 302.1L339.2 303.0L339.4 304.0L339.6 305.0L339.8 306.0L340.0 306.8L340.0 307.0L340.2 308.0L340.4 309.0L340.6 310.0L340.8 311.0L340.6 312.0L340.5 313.0L340.3 314.0L340.1 315.0L340.0 315.9L340.0 316.0L339.8 317.0L340.0 317.7L340.1 318.0L340.0 318.8L340.0 319.0L339.7 320.0L339.5 321.0L339.2 322.0L339.0 322.5L338.9 323.0L338.7 324.0L338.4 325.0L338.0 325.9L338.0 326.0L337.7 327.0L337.4 328.0L337.1 329.0L337.0 329.4L336.8 330.0L336.5 331.0L336.2 332.0L336.0 332.5L335.8 333.0L335.4 334.0L335.0 335.0L335.0 335.1L334.6 336.0L334.2 337.0L334.0 337.4L333.7 338.0L333.2 339.0L333.0 339.4L332.7 340.0L332.2 341.0L332.0 341.3L331.6 342.0L331.0 343.0L331.0 343.0L330.4 344.0L330.0 344.6L329.7 345.0L329.0 346.0L329.0 346.0L328.1 347.0L328.0 347.1L327.0 347.1L326.9 347.0L326.1 346.0L326.0 345.9L325.4 345.0L325.0 344.3L324.8 344.0L324.2 343.0L324.0 342.6L323.7 342.0L323.2 341.0L323.0 340.5L322.8 340.0L322.3 339.0L322.0 338.4L321.8 338.0L321.3 337.0L321.0 336.2L320.9 336.0L320.5 335.0L320.1 334.0L320.0 333.7L319.7 333.0L319.4 332.0L319.0 331.0L319.0 330.9L318.7 330.0L318.4 329.0L318.1 328.0L318.0 327.7L317.6 327.0L317.1 326.0L317.0 325.6L316.7 325.0L316.4 324.0L316.1 323.0L316.0 322.6L315.9 322.0L315.7 321.0L315.6 320.0L315.4 319.0L315.3 318.0L315.7 317.0L315.6 316.0L315.4 315.0L315.3 314.0L315.1 313.0L315.0 312.3L315.0 312.0L314.8 311.0L315.0 310.0L315.0 309.9L315.2 309.0L315.3 308.0L315.5 307.0L315.7 306.0L315.9 305.0L316.0 304.5L316.1 304.0L316.3 303.0L316.5 302.0L316.8 301.0L317.0 300.0L317.0 300.0L317.2 299.0L317.6 298.0L317.9 297.0L318.0 296.9L318.3 296.0L318.7 295.0L319.0 294.4L319.2 294.0L319.6 293.0L320.0 292.3L320.2 292.0L320.7 291.0L321.0 290.5L321.3 290.0L321.9 289.0L322.0 288.9L322.6 288.0L323.0 287.5L323.4 287.0L324.0 286.3L324.3 286.0L325.0 285.3L325.3 285.0L326.0 284.4L326.6 284.0ZM271.0 400.0L272.0 399.8L273.0 399.7L274.0 399.6L275.0 399.6L276.0 399.7L276.8 400.0L277.0 400.1L278.0 400.8L278.2 401.0L279.0 401.6L279.4 402.0L280.0 402.5L280.6 403.0L281.0 403.4L281.7 404.0L282.0 404.3L282.8 405.0L283.0 405.2L283.9 406.0L284.0 406.1L285.0 407.0L285.0 407.0L286.0 408.0L286.0 408.0L287.0 408.9L287.1 409.0L288.0 409.9L288.1 410.0L289.0 410.9L289.1 411.0L290.0 411.9L290.1 412.0L291.0 412.9L291.1 413.0L292.0 414.0L292.0 414.0L293.0 415.0L293.0 415.0L293.9 416.0L294.0 416.1L294.8 417.0L295.0 417.2L295.7 418.0L296.0 418.4L296.5 419.0L297.0 419.5L297.4 420.0L298.0 420.7L298.2 421.0L299.0 421.9L299.1 422.0L299.9 423.0L300.0 423.2L300.7 424.0L301.0 424.4L301.4 425.0L302.0 425.7L302.4 426.0L303.0 426.4L304.0 426.5L305.0 426.2L305.4 426.0L306.0 425.8L307.0 425.4L308.0 425.1L308.1 425.0L309.0 424.7L310.0 424.3L310.9 424.0L311.0 424.0L312.0 423.3L312.3 423.0L313.0 422.1L313.1 422.0L314.0 421.0L314.0 421.0L314.9 420.0L315.0 419.9L315.8 419.0L316.0 418.8L316.7 418.0L317.0 417.7L317.7 417.0L318.0 416.7L318.7 416.0L319.0 415.7L319.7 415.0L320.0 414.7L320.8 414.0L321.0 413.8L321.9 413.0L322.0 412.9L323.0 412.0L323.0 412.0L324.0 411.1L324.1 411.0L325.0 410.2L325.3 410.0L326.0 409.4L326.6 409.0L327.0 408.7L328.0 408.1L329.0 408.9L329.1 409.0L330.0 409.7L330.3 410.0L331.0 410.6L331.4 411.0L332.0 411.5L332.5 412.0L333.0 412.5L333.5 413.0L334.0 413.5L334.5 414.0L335.0 414.5L335.5 415.0L336.0 415.5L336.5 416.0L337.0 416.5L337.5 417.0L338.0 417.4L338.8 418.0L339.0 418.2L340.0 419.0L340.0 419.0L341.0 419.8L341.2 420.0L342.0 420.7L342.4 421.0L343.0 421.5L343.5 422.0L344.0 422.4L344.6 423.0L345.0 423.3L345.7 424.0L346.0 424.3L346.8 425.0L347.0 425.2L347.8 426.0L348.0 426.2L348.8 427.0L349.0 427.2L349.7 428.0L350.0 428.3L350.6 429.0L350.0 429.1L349.0 429.2L348.8 429.0L348.0 428.2L347.0 428.3L346.7 428.0L346.0 427.3L345.0 427.4L344.6 427.0L344.0 426.4L343.0 426.4L342.6 426.0L342.0 425.4L341.0 425.5L340.5 425.0L340.0 424.5L339.0 424.5L338.5 424.0L338.0 423.5L337.0 423.5L336.5 423.0L336.0 422.5L335.0 422.6L334.4 422.0L334.0 421.6L333.0 421.6L332.4 421.0L332.0 420.6L331.0 420.6L330.0 420.7L329.3 420.0L329.0 419.7L328.0 419.7L327.0 419.7L326.0 419.6L325.6 420.0L325.0 420.6L324.0 420.6L323.0 420.6L322.6 421.0L322.0 421.6L321.0 421.6L320.5 422.0L320.0 422.5L319.0 422.5L318.0 422.5L317.4 423.0L317.0 423.4L316.0 423.4L315.4 424.0L315.0 424.4L314.0 424.3L313.0 424.2L312.2 425.0L312.0 425.2L311.0 425.2L310.0 425.1L309.2 426.0L309.0 426.2L308.0 426.2L307.3 427.0L307.0 427.3L306.0 427.2L305.0 427.2L304.3 428.0L304.0 428.3L303.0 428.2L302.0 428.3L301.0 428.4L300.6 428.0L300.0 427.4L299.6 427.0L299.0 426.4L298.0 426.5L297.5 426.0L297.0 425.5L296.0 425.5L295.5 425.0L295.0 424.6L294.4 424.0L294.0 423.6L293.0 423.6L292.4 423.0L292.0 422.6L291.4 422.0L291.0 421.6L290.0 421.7L289.3 421.0L289.0 420.7L288.0 420.7L287.3 420.0L287.0 419.7L286.3 419.0L286.0 418.7L285.0 418.7L284.3 418.0L284.0 417.7L283.0 417.7L282.3 417.0L282.0 416.7L281.3 416.0L281.0 415.8L280.0 415.8L279.2 415.0L279.0 414.8L278.0 414.8L277.2 414.0L277.0 413.8L276.2 413.0L276.0 412.8L275.0 412.8L274.0 412.8L273.2 412.0L273.0 411.7L272.0 411.7L271.0 411.7L270.3 411.0L270.0 410.7L269.0 410.7L268.0 410.7L267.3 410.0L267.0 409.6L266.0 409.6L265.4 409.0L265.0 408.6L264.0 408.6L263.4 408.0L263.0 407.5L262.0 407.5L261.5 407.0L261.0 406.4L260.0 406.4L259.0 406.3L258.7 406.0L258.0 405.2L257.0 405.1L256.9 405.0L257.0 404.3L257.3 404.0L258.0 403.5L258.8 403.0L259.0 402.9L260.0 402.4L261.0 402.0L261.0 402.0L262.0 401.7L263.0 401.4L264.0 401.1L264.4 401.0L265.0 400.9L266.0 400.7L267.0 400.5L268.0 400.4L269.0 400.3L270.0 400.1L270.8 400.0ZM362.0 427.9L363.0 427.7L364.0 427.5L365.0 427.3L366.0 427.2L367.0 427.1L368.0 427.1L369.0 427.1L370.0 427.1L371.0 427.1L372.0 427.1L373.0 427.2L374.0 427.3L375.0 427.6L376.0 427.9L376.4 428.0L377.0 428.4L377.8 429.0L378.0 429.3L378.4 430.0L378.5 431.0L378.0 431.0L377.0 431.0L376.0 431.1L375.0 431.1L374.0 431.1L373.0 431.1L372.0 431.2L371.0 431.2L370.0 431.2L369.0 431.2L368.0 431.2L367.0 431.1L366.0 431.1L365.0 431.1L364.0 431.1L363.0 431.1L362.0 431.1L361.0 431.0L360.0 431.0L359.1 431.0L359.2 430.0L360.0 429.0L360.0 429.0L361.0 428.4L361.8 428.0ZM351.0 429.5L351.4 430.0L351.0 430.1L350.9 430.0ZM352.0 430.8L352.2 431.0L352.0 431.0L352.0 431.0ZM455.0 434.9L456.0 434.8L457.0 434.7L458.0 434.5L459.0 434.4L460.0 434.4L461.0 434.3L462.0 434.2L463.0 434.2L464.0 434.1L465.0 434.1L466.0 434.1L467.0 434.1L468.0 434.1L469.0 434.1L470.0 434.1L471.0 434.2L472.0 434.2L473.0 434.3L474.0 434.3L475.0 434.4L476.0 434.5L477.0 434.6L478.0 434.8L479.0 434.9L479.9 435.0L480.0 435.0L481.0 435.2L482.0 435.3L483.0 435.5L484.0 435.7L485.0 435.8L486.0 436.0L486.0 436.0L487.0 436.2L488.0 436.4L489.0 436.6L490.0 436.9L490.6 437.0L491.0 437.1L492.0 437.3L493.0 437.6L494.0 437.9L494.6 438.0L495.0 438.1L496.0 438.3L497.0 438.6L498.0 438.8L498.8 439.0L499.0 439.1L500.0 439.4L501.0 439.6L502.0 439.9L502.2 440.0L503.0 440.3L504.0 440.6L505.0 441.0L505.0 441.0L506.0 441.4L507.0 441.9L507.3 442.0L508.0 442.4L509.0 442.9L509.2 443.0L510.0 443.5L510.7 444.0L511.0 444.3L511.9 445.0L512.0 445.1L512.8 446.0L513.0 446.4L513.3 447.0L513.6 448.0L513.0 448.1L512.0 448.2L511.0 448.3L510.0 448.3L509.0 448.4L508.0 448.4L507.0 448.5L506.0 448.5L505.0 448.5L504.0 448.5L503.0 448.6L502.0 448.6L501.0 448.6L500.4 448.0L500.0 447.6L499.0 447.6L498.0 447.6L497.0 447.6L496.0 447.6L495.0 447.6L494.0 447.6L493.0 447.7L492.0 447.7L491.0 447.7L490.0 447.7L489.0 447.7L488.0 447.7L487.3 447.0L487.0 446.7L486.0 446.7L485.0 446.7L484.0 446.7L483.0 446.7L482.0 446.7L481.0 446.7L480.0 446.7L479.0 446.7L478.3 446.0L478.0 445.7L477.0 445.7L476.0 445.7L475.0 445.7L474.0 445.7L473.0 445.7L472.0 445.7L471.0 445.7L470.0 445.7L469.0 445.7L468.0 445.7L467.3 445.0L467.0 444.7L466.0 444.7L465.0 444.7L464.0 444.7L463.0 444.7L462.0 444.7L461.0 444.7L460.0 444.7L459.0 444.6L458.0 444.6L457.0 444.6L456.4 444.0L456.0 443.6L455.0 443.6L454.0 443.6L453.0 443.6L452.0 443.6L451.0 443.6L450.0 443.5L449.5 443.0L449.0 442.5L448.0 442.5L447.0 442.4L446.0 442.4L445.6 442.0L445.0 441.3L444.0 441.3L443.0 441.2L442.0 441.1L441.9 441.0L441.6 440.0L442.0 439.1L442.0 439.0L443.0 438.0L443.0 438.0L444.0 437.4L444.7 437.0L445.0 436.9L446.0 436.5L447.0 436.2L448.0 436.0L448.0 436.0L449.0 435.8L450.0 435.7L451.0 435.6L452.0 435.5L453.0 435.3L454.0 435.1L454.6 435.0Z"/>
<path fill="#0019ff" fill-rule="evenodd" d="M277.0 272.7L278.0 272.3L279.0 272.7L279.8 273.0L280.0 273.1L281.0 273.6L281.7 274.0L282.0 274.2L283.0 274.8L283.3 275.0L284.0 275.5L284.7 276.0L285.0 276.3L285.7 277.0L286.0 277.3L286.7 278.0L287.0 278.4L287.5 279.0L288.0 279.7L288.2 280.0L288.8 281.0L289.0 281.3L289.4 282.0L289.9 283.0L290.0 283.2L290.4 284.0L290.9 285.0L291.0 285.3L291.3 286.0L291.8 287.0L292.0 287.6L292.2 288.0L292.5 289.0L292.9 290.0L293.0 290.3L293.3 291.0L293.5 292.0L293.7 293.0L293.9 294.0L294.0 294.7L294.0 295.0L294.2 296.0L294.4 297.0L294.6 298.0L294.8 299.0L295.0 300.0L295.0 301.0L295.0 302.0L295.0 303.0L295.0 304.0L295.0 305.0L295.0 306.0L295.0 307.0L295.0 308.0L295.0 309.0L295.0 310.0L294.9 311.0L294.7 312.0L294.6 313.0L294.5 314.0L294.3 315.0L294.2 316.0L294.1 317.0L294.8 318.0L294.8 319.0L294.7 320.0L294.7 321.0L294.7 322.0L294.6 323.0L294.6 324.0L294.4 325.0L294.2 326.0L294.0 326.9L294.0 327.0L293.7 328.0L293.5 329.0L293.2 330.0L293.0 330.7L292.9 331.0L292.5 332.0L292.0 332.9L291.9 333.0L291.2 334.0L291.0 334.2L290.2 335.0L290.0 335.2L289.0 335.9L288.7 336.0L288.0 336.3L287.6 337.0L287.1 338.0L287.0 338.1L286.5 339.0L286.0 339.7L285.8 340.0L285.1 341.0L285.0 341.1L284.3 342.0L284.0 342.4L283.4 343.0L283.0 343.5L282.4 344.0L282.0 344.4L281.3 345.0L281.0 345.3L280.0 346.0L280.0 346.0L279.0 346.6L278.1 347.0L278.0 347.0L277.9 347.0L277.0 346.6L276.0 346.0L276.0 346.0L275.0 345.3L274.7 345.0L274.0 344.4L273.6 344.0L273.0 343.5L272.6 343.0L272.0 342.4L271.7 342.0L271.0 341.1L270.9 341.0L270.2 340.0L270.0 339.7L269.5 339.0L269.0 338.1L268.9 338.0L268.4 337.0L268.0 336.3L267.9 336.0L267.4 335.0L267.0 334.3L266.8 334.0L266.3 333.0L266.0 332.3L265.9 332.0L265.4 331.0L265.0 330.0L265.0 330.0L264.6 329.0L264.2 328.0L264.0 327.3L263.9 327.0L263.6 326.0L263.2 325.0L263.0 324.2L262.9 324.0L262.8 323.0L262.6 322.0L262.5 321.0L262.4 320.0L262.2 319.0L262.1 318.0L262.0 317.5L261.9 317.0L261.8 316.0L261.7 315.0L261.5 314.0L261.4 313.0L261.3 312.0L261.1 311.0L261.0 310.0L261.0 309.0L261.0 308.0L261.0 307.0L261.0 306.0L261.0 305.0L261.0 304.0L261.0 303.0L261.0 302.0L261.0 301.0L261.0 300.0L261.2 299.0L261.4 298.0L261.6 297.0L261.8 296.0L262.0 295.0L262.0 294.7L262.1 294.0L262.3 293.0L262.5 292.0L262.7 291.0L263.0 290.3L263.1 290.0L263.5 289.0L263.8 288.0L264.0 287.6L264.2 287.0L264.7 286.0L265.0 285.3L265.1 285.0L265.6 284.0L266.0 283.2L266.1 283.0L266.6 282.0L267.0 281.3L267.2 281.0L267.8 280.0L268.0 279.7L268.5 279.0L269.0 278.4L269.3 278.0L270.0 277.3L270.3 277.0L271.0 276.3L271.3 276.0L272.0 275.5L272.7 275.0L273.0 274.8L274.0 274.2L274.3 274.0L275.0 273.6L276.0 273.1L276.2 273.0ZM476.0 281.6L477.0 281.6L477.6 282.0L478.0 282.2L479.0 282.9L479.2 283.0L480.0 283.5L480.7 284.0L481.0 284.2L482.0 284.9L482.2 285.0L483.0 285.5L483.8 286.0L484.0 286.2L485.0 286.8L485.3 287.0L486.0 287.5L486.8 288.0L487.0 288.1L488.0 288.8L488.4 289.0L489.0 289.4L489.9 290.0L490.0 290.1L491.0 290.7L491.4 291.0L492.0 291.4L493.0 292.0L493.0 292.0L494.0 292.7L494.4 293.0L495.0 294.0L495.0 294.1L495.4 295.0L495.8 296.0L496.0 296.4L496.3 297.0L496.7 298.0L497.0 298.7L497.1 299.0L497.6 300.0L498.0 300.9L498.0 301.0L498.5 302.0L498.9 303.0L499.0 303.5L499.1 304.0L499.1 305.0L499.1 306.0L499.1 307.0L499.1 308.0L499.1 309.0L499.1 310.0L499.1 311.0L499.1 312.0L499.1 313.0L499.1 314.0L499.1 315.0L499.1 316.0L499.1 317.0L499.1 318.0L499.1 319.0L499.1 320.0L499.1 321.0L499.1 322.0L499.1 323.0L499.1 324.0L499.1 325.0L499.1 326.0L499.1 327.0L499.1 328.0L499.1 329.0L499.1 330.0L499.0 330.2L498.7 331.0L498.2 332.0L498.0 332.4L497.7 333.0L497.4 334.0L497.2 335.0L497.1 336.0L497.0 337.0L497.0 337.3L496.9 338.0L496.8 339.0L496.7 340.0L496.5 341.0L496.3 342.0L496.2 343.0L496.0 343.7L495.9 344.0L495.7 345.0L495.5 346.0L495.2 347.0L495.0 347.7L494.9 348.0L494.6 349.0L494.2 350.0L494.0 350.5L493.8 351.0L493.4 352.0L493.0 352.8L492.9 353.0L492.4 354.0L492.0 354.7L491.8 355.0L491.1 356.0L491.0 356.2L490.4 357.0L490.0 357.5L489.6 358.0L489.0 358.6L488.6 359.0L488.0 359.5L487.4 360.0L487.0 360.3L486.0 361.0L486.0 361.0L485.0 361.5L484.0 362.0L484.0 362.0L483.0 362.4L482.0 362.6L481.0 362.9L480.1 363.0L480.0 363.0L479.0 363.1L478.0 363.2L477.0 363.2L476.0 363.2L475.0 363.2L474.0 363.1L473.1 363.0L473.0 363.0L472.0 362.8L471.0 362.6L470.0 362.3L469.3 362.0L469.0 361.9L468.0 361.4L467.4 361.0L467.0 360.7L466.0 360.0L466.0 360.0L465.0 359.1L464.9 359.0L464.0 358.1L463.9 358.0L463.1 357.0L463.0 356.8L462.4 356.0L462.0 355.3L461.8 355.0L461.2 354.0L461.0 353.6L460.7 353.0L460.3 352.0L460.0 351.4L459.9 351.0L459.5 350.0L459.1 349.0L459.0 348.6L458.8 348.0L458.5 347.0L458.3 346.0L458.0 345.0L458.0 344.9L457.8 344.0L457.6 343.0L457.4 342.0L457.3 341.0L457.1 340.0L457.0 339.1L457.0 339.0L456.9 338.0L456.8 337.0L456.7 336.0L456.4 335.0L456.2 334.0L456.0 333.7L455.7 333.0L455.2 332.0L455.0 331.6L454.7 331.0L454.3 330.0L454.2 329.0L454.2 328.0L454.2 327.0L454.2 326.0L454.2 325.0L454.2 324.0L454.2 323.0L454.2 322.0L454.2 321.0L454.2 320.0L454.2 319.0L454.2 318.0L454.2 317.0L454.2 316.0L454.2 315.0L454.2 314.0L454.2 313.0L454.2 312.0L454.2 311.0L454.2 310.0L454.2 309.0L454.2 308.0L454.2 307.0L454.2 306.0L454.2 305.0L454.2 304.0L454.2 303.0L454.5 302.0L455.0 301.0L455.0 300.9L455.4 300.0L455.9 299.0L456.0 298.7L456.3 298.0L456.7 297.0L457.0 296.4L457.2 296.0L457.6 295.0L458.0 294.1L458.0 294.0L458.6 293.0L459.0 292.7L460.0 292.0L460.0 292.0L461.0 291.4L461.6 291.0L462.0 290.7L463.0 290.1L463.1 290.0L464.0 289.4L464.6 289.0L465.0 288.8L466.0 288.1L466.2 288.0L467.0 287.5L467.7 287.0L468.0 286.8L469.0 286.2L469.2 286.0L470.0 285.5L470.8 285.0L471.0 284.9L472.0 284.2L472.3 284.0L473.0 283.5L473.8 283.0L474.0 282.9L475.0 282.2L475.4 282.0ZM327.0 287.6L328.0 287.6L328.5 288.0L329.0 288.4L329.6 289.0L330.0 289.5L330.5 290.0L331.0 290.6L331.3 291.0L332.0 291.9L332.0 292.0L332.7 293.0L333.0 293.4L333.3 294.0L333.9 295.0L334.0 295.1L334.5 296.0L335.0 297.0L335.0 297.0L335.5 298.0L335.9 299.0L336.0 299.2L336.3 300.0L336.6 301.0L336.9 302.0L337.0 302.5L337.1 303.0L337.4 304.0L337.7 305.0L337.9 306.0L338.0 306.4L338.1 307.0L338.4 308.0L338.6 309.0L338.8 310.0L339.0 311.0L339.0 311.0L339.0 311.0L338.8 312.0L338.6 313.0L338.5 314.0L338.3 315.0L338.1 316.0L338.0 316.4L337.9 317.0L337.7 318.0L337.4 319.0L337.2 320.0L337.0 320.9L337.0 321.0L336.7 322.0L336.5 323.0L336.2 324.0L336.0 324.8L335.9 325.0L335.6 326.0L335.3 327.0L335.0 327.9L334.9 328.0L334.6 329.0L334.2 330.0L334.0 330.5L333.8 331.0L333.4 332.0L333.0 332.9L332.9 333.0L332.5 334.0L332.0 334.9L331.9 335.0L331.4 336.0L331.0 336.7L330.8 337.0L330.2 338.0L330.0 338.3L329.5 339.0L329.0 339.6L328.6 340.0L328.0 340.8L327.0 340.8L326.5 340.0L326.0 339.4L325.7 339.0L325.0 338.0L325.0 337.9L324.5 337.0L324.0 336.2L323.9 336.0L323.4 335.0L323.0 334.2L322.9 334.0L322.4 333.0L322.0 332.0L322.0 332.0L321.6 331.0L321.2 330.0L321.0 329.5L320.8 329.0L320.4 328.0L320.1 327.0L320.0 326.7L319.8 326.0L319.4 325.0L319.2 324.0L319.0 323.3L318.9 323.0L318.7 322.0L318.4 321.0L318.2 320.0L318.0 319.0L318.0 319.0L317.8 318.0L317.6 317.0L317.4 316.0L317.2 315.0L317.0 314.0L317.0 313.9L316.8 313.0L316.7 312.0L316.5 311.0L316.7 310.0L316.9 309.0L317.0 308.5L317.1 308.0L317.3 307.0L317.6 306.0L317.8 305.0L318.0 304.1L318.0 304.0L318.3 303.0L318.6 302.0L318.8 301.0L319.0 300.4L319.1 300.0L319.4 299.0L319.9 298.0L320.0 297.7L320.3 297.0L320.8 296.0L321.0 295.5L321.3 295.0L321.8 294.0L322.0 293.7L322.4 293.0L323.0 292.1L323.1 292.0L323.8 291.0L324.0 290.7L324.6 290.0L325.0 289.5L325.5 289.0L326.0 288.5L326.5 288.0ZM269.0 400.9L270.0 400.8L271.0 400.6L272.0 400.5L273.0 400.3L274.0 400.2L275.0 400.2L276.0 400.3L277.0 400.7L277.4 401.0L278.0 401.4L278.7 402.0L279.0 402.3L279.9 403.0L280.0 403.1L281.0 404.0L281.0 404.0L282.0 404.9L282.1 405.0L283.0 405.8L283.2 406.0L284.0 406.7L284.3 407.0L285.0 407.7L285.3 408.0L286.0 408.6L286.4 409.0L287.0 409.6L287.4 410.0L288.0 410.6L288.4 411.0L289.0 411.6L289.4 412.0L290.0 412.6L290.4 413.0L291.0 413.6L291.4 414.0L292.0 414.7L292.3 415.0L293.0 415.7L293.2 416.0L294.0 416.8L294.1 417.0L295.0 418.0L295.0 418.0L295.9 419.0L296.0 419.1L296.7 420.0L297.0 420.3L297.6 421.0L298.0 421.5L298.4 422.0L299.0 422.8L299.2 423.0L300.0 424.0L300.0 424.0L300.7 425.0L301.0 425.3L301.5 426.0L302.0 426.7L302.4 427.0L303.0 427.4L304.0 427.1L304.1 428.0L304.0 428.1L303.0 428.1L302.0 428.1L301.0 428.2L300.8 428.0L300.0 427.3L299.7 427.0L299.0 426.3L298.0 426.4L297.6 426.0L297.0 425.4L296.0 425.5L295.5 425.0L295.0 424.5L294.5 424.0L294.0 423.5L293.0 423.5L292.5 423.0L292.0 422.6L291.4 422.0L291.0 421.6L290.0 421.6L289.4 421.0L289.0 420.6L288.0 420.6L287.4 420.0L287.0 419.6L286.4 419.0L286.0 418.7L285.0 418.7L284.3 418.0L284.0 417.7L283.0 417.7L282.3 417.0L282.0 416.7L281.3 416.0L281.0 415.7L280.0 415.7L279.3 415.0L279.0 414.7L278.0 414.7L277.3 414.0L277.0 413.7L276.3 413.0L276.0 412.7L275.0 412.7L274.0 412.7L273.3 412.0L273.0 411.7L272.0 411.7L271.0 411.7L270.3 411.0L270.0 410.6L269.0 410.6L268.0 410.6L267.4 410.0L267.0 409.6L266.0 409.6L265.4 409.0L265.0 408.5L264.0 408.5L263.5 408.0L263.0 407.4L262.0 407.4L261.6 407.0L261.0 406.3L260.0 406.3L259.0 406.2L258.8 406.0L258.0 405.0L257.7 405.0L258.0 404.7L258.8 404.0L259.0 403.9L260.0 403.3L260.6 403.0L261.0 402.8L262.0 402.5L263.0 402.1L263.4 402.0L264.0 401.8L265.0 401.6L266.0 401.4L267.0 401.2L268.0 401.1L268.4 401.0ZM328.0 409.0L328.0 409.0L329.0 409.7L329.3 410.0L330.0 410.6L330.5 411.0L331.0 411.5L331.6 412.0L332.0 412.4L332.6 413.0L333.0 413.4L333.6 414.0L334.0 414.4L334.6 415.0L335.0 415.4L335.6 416.0L336.0 416.4L336.6 417.0L337.0 417.3L337.9 418.0L338.0 418.1L339.0 418.9L339.1 419.0L340.0 419.8L340.3 420.0L341.0 420.6L341.4 421.0L342.0 421.5L342.6 422.0L343.0 422.4L343.7 423.0L344.0 423.3L344.7 424.0L345.0 424.2L345.8 425.0L346.0 425.2L346.8 426.0L347.0 426.2L347.7 427.0L348.0 427.3L348.6 428.0L348.0 428.1L347.0 428.2L346.8 428.0L346.0 427.2L345.0 427.3L344.7 427.0L344.0 426.3L343.0 426.3L342.7 426.0L342.0 425.3L341.0 425.4L340.6 425.0L340.0 424.4L339.0 424.4L338.6 424.0L338.0 423.4L337.0 423.5L336.5 423.0L336.0 422.5L335.0 422.5L334.5 422.0L334.0 421.5L333.0 421.5L332.5 421.0L332.0 420.5L331.0 420.6L330.0 420.6L329.4 420.0L329.0 419.6L328.0 419.6L327.0 419.6L326.0 419.6L325.6 420.0L325.0 420.6L324.0 420.6L323.0 420.5L322.5 421.0L322.0 421.5L321.0 421.5L320.5 422.0L320.0 422.5L319.0 422.4L318.0 422.4L317.4 423.0L317.0 423.4L316.0 423.3L315.3 424.0L315.0 424.3L314.0 424.2L313.0 424.1L312.4 424.0L313.0 423.3L313.2 423.0L314.0 422.1L314.0 422.0L314.9 421.0L315.0 420.9L315.8 420.0L316.0 419.8L316.7 419.0L317.0 418.7L317.7 418.0L318.0 417.7L318.6 417.0L319.0 416.6L319.7 416.0L320.0 415.7L320.7 415.0L321.0 414.7L321.7 414.0L322.0 413.8L322.8 413.0L323.0 412.8L324.0 412.0L324.0 412.0L325.0 411.1L325.1 411.0L326.0 410.3L326.4 410.0L327.0 409.5L328.0 409.0ZM310.0 425.0L311.0 424.6L312.0 424.3L312.1 425.0L312.0 425.1L311.0 425.1L310.0 425.0L309.9 425.0ZM308.0 425.7L309.0 425.4L309.1 426.0L309.0 426.1L308.0 426.1L307.1 426.0ZM305.0 426.8L306.0 426.4L307.0 426.1L307.1 427.0L307.0 427.1L306.0 427.1L305.0 427.0L304.4 427.0ZM349.0 428.4L349.5 429.0L349.0 429.1L348.9 429.0ZM368.0 430.0L369.0 429.9L370.0 429.8L371.0 429.9L371.6 430.0L372.0 430.2L372.5 431.0L372.0 431.0L371.0 431.0L370.0 431.0L369.0 431.0L368.0 431.0L367.0 431.0L366.7 431.0L367.0 430.6L367.8 430.0ZM458.0 434.9L459.0 434.8L460.0 434.7L461.0 434.6L462.0 434.6L463.0 434.5L464.0 434.5L465.0 434.4L466.0 434.4L467.0 434.4L468.0 434.4L469.0 434.4L470.0 434.4L471.0 434.5L472.0 434.5L473.0 434.6L474.0 434.6L475.0 434.7L476.0 434.8L477.0 434.9L477.5 435.0L478.0 435.1L479.0 435.2L480.0 435.3L481.0 435.5L482.0 435.6L483.0 435.8L484.0 436.0L484.2 436.0L485.0 436.2L486.0 436.4L487.0 436.6L488.0 436.8L489.0 437.0L489.2 437.0L490.0 437.2L491.0 437.5L492.0 437.7L493.0 437.9L493.2 438.0L494.0 438.2L495.0 438.5L496.0 438.7L497.0 438.9L497.2 439.0L498.0 439.2L499.0 439.5L500.0 439.8L500.8 440.0L501.0 440.1L502.0 440.4L503.0 440.8L503.7 441.0L504.0 441.1L505.0 441.6L506.0 442.0L506.1 442.0L507.0 442.5L508.0 443.0L508.0 443.0L509.0 443.7L509.5 444.0L510.0 444.4L510.8 445.0L511.0 445.3L511.6 446.0L512.0 446.6L512.2 447.0L512.5 448.0L512.0 448.1L511.0 448.2L510.0 448.2L509.0 448.3L508.0 448.3L507.0 448.4L506.0 448.4L505.0 448.4L504.0 448.5L503.0 448.5L502.0 448.5L501.0 448.5L500.5 448.0L500.0 447.5L499.0 447.5L498.0 447.6L497.0 447.6L496.0 447.6L495.0 447.6L494.0 447.6L493.0 447.6L492.0 447.6L491.0 447.6L490.0 447.6L489.0 447.6L488.0 447.6L487.4 447.0L487.0 446.6L486.0 446.6L485.0 446.6L484.0 446.6L483.0 446.6L482.0 446.6L481.0 446.6L480.0 446.6L479.0 446.6L478.4 446.0L478.0 445.6L477.0 445.6L476.0 445.6L475.0 445.6L474.0 445.6L473.0 445.6L472.0 445.6L471.0 445.6L470.0 445.6L469.0 445.6L468.0 445.6L467.4 445.0L467.0 444.6L466.0 444.6L465.0 444.6L464.0 444.6L463.0 444.6L462.0 444.6L461.0 444.6L460.0 444.6L459.0 444.6L458.0 444.6L457.0 444.6L456.4 444.0L456.0 443.6L455.0 443.5L454.0 443.5L453.0 443.5L452.0 443.5L451.0 443.5L450.0 443.5L449.5 443.0L449.0 442.4L448.0 442.4L447.0 442.4L446.0 442.3L445.7 442.0L445.0 441.2L444.0 441.2L443.0 441.1L442.5 441.0L442.7 440.0L443.0 439.4L443.3 439.0L444.0 438.3L444.4 438.0L445.0 437.7L446.0 437.2L446.5 437.0L447.0 436.9L448.0 436.6L449.0 436.4L450.0 436.2L451.0 436.1L451.6 436.0L452.0 436.0L453.0 435.7L454.0 435.5L455.0 435.4L456.0 435.2L457.0 435.0L457.2 435.0Z"/>
<path fill="#002eff" fill-rule="evenodd" d="M276.0 274.8L277.0 274.4L278.0 274.0L279.0 274.4L280.0 274.8L280.3 275.0L281.0 275.4L282.0 276.0L282.0 276.0L283.0 276.7L283.4 277.0L284.0 277.6L284.5 278.0L285.0 278.5L285.4 279.0L286.0 279.6L286.3 280.0L287.0 280.9L287.0 281.0L287.7 282.0L288.0 282.5L288.3 283.0L288.9 284.0L289.0 284.2L289.4 285.0L289.9 286.0L290.0 286.1L290.4 287.0L290.9 288.0L291.0 288.3L291.3 289.0L291.7 290.0L292.0 290.8L292.1 291.0L292.3 292.0L292.5 293.0L292.7 294.0L292.9 295.0L293.0 295.3L293.1 296.0L293.3 297.0L293.5 298.0L293.7 299.0L293.9 300.0L293.9 301.0L293.9 302.0L293.9 303.0L293.9 304.0L293.9 305.0L293.9 306.0L293.9 307.0L293.9 308.0L293.9 309.0L293.9 310.0L293.8 311.0L293.7 312.0L293.5 313.0L293.4 314.0L293.2 315.0L293.1 316.0L293.0 316.7L292.9 317.0L293.0 317.1L293.6 318.0L293.5 319.0L293.5 320.0L293.4 321.0L293.3 322.0L293.3 323.0L293.2 324.0L293.0 324.7L292.9 325.0L292.6 326.0L292.3 327.0L292.0 327.9L292.0 328.0L291.6 329.0L291.1 330.0L291.0 330.2L290.5 331.0L290.0 331.7L289.7 332.0L289.0 332.5L288.1 333.0L288.0 333.0L287.4 334.0L287.0 334.7L286.8 335.0L286.2 336.0L286.0 336.4L285.6 337.0L285.0 338.0L285.0 338.0L284.3 339.0L284.0 339.4L283.5 340.0L283.0 340.6L282.6 341.0L282.0 341.7L281.7 342.0L281.0 342.6L280.5 343.0L280.0 343.4L279.2 344.0L279.0 344.1L278.0 344.6L277.0 344.1L276.8 344.0L276.0 343.4L275.5 343.0L275.0 342.6L274.3 342.0L274.0 341.7L273.4 341.0L273.0 340.6L272.5 340.0L272.0 339.4L271.7 339.0L271.0 338.0L271.0 338.0L270.4 337.0L270.0 336.4L269.8 336.0L269.2 335.0L269.0 334.7L268.6 334.0L268.0 333.0L268.0 333.0L267.4 332.0L267.0 331.1L266.9 331.0L266.5 330.0L266.0 329.0L266.0 329.0L265.6 328.0L265.2 327.0L265.0 326.5L264.8 326.0L264.5 325.0L264.1 324.0L264.0 323.2L264.0 323.0L263.8 322.0L263.7 321.0L263.5 320.0L263.3 319.0L263.2 318.0L263.1 317.0L263.0 316.7L262.9 316.0L262.8 315.0L262.6 314.0L262.5 313.0L262.3 312.0L262.2 311.0L262.1 310.0L262.1 309.0L262.1 308.0L262.1 307.0L262.1 306.0L262.1 305.0L262.1 304.0L262.1 303.0L262.1 302.0L262.1 301.0L262.1 300.0L262.3 299.0L262.5 298.0L262.7 297.0L262.9 296.0L263.0 295.3L263.1 295.0L263.3 294.0L263.5 293.0L263.7 292.0L263.9 291.0L264.0 290.8L264.3 290.0L264.7 289.0L265.0 288.3L265.1 288.0L265.6 287.0L266.0 286.1L266.1 286.0L266.6 285.0L267.0 284.2L267.1 284.0L267.7 283.0L268.0 282.5L268.3 282.0L269.0 281.0L269.0 280.9L269.7 280.0L270.0 279.6L270.6 279.0L271.0 278.5L271.5 278.0L272.0 277.6L272.6 277.0L273.0 276.7L274.0 276.0L274.0 276.0L275.0 275.4L275.7 275.0ZM475.0 283.9L476.0 283.3L477.0 283.3L478.0 283.9L478.1 284.0L479.0 284.6L479.6 285.0L480.0 285.2L481.0 285.9L481.2 286.0L482.0 286.5L482.7 287.0L483.0 287.2L484.0 287.8L484.2 288.0L485.0 288.5L485.8 289.0L486.0 289.1L487.0 289.8L487.3 290.0L488.0 290.5L488.8 291.0L489.0 291.1L490.0 291.8L490.4 292.0L491.0 292.4L491.9 293.0L492.0 293.1L493.0 293.9L493.0 294.0L493.5 295.0L493.9 296.0L494.0 296.2L494.4 297.0L494.8 298.0L495.0 298.5L495.2 299.0L495.7 300.0L496.0 300.7L496.1 301.0L496.6 302.0L497.0 303.0L497.0 303.0L497.2 304.0L497.2 305.0L497.2 306.0L497.2 307.0L497.2 308.0L497.2 309.0L497.2 310.0L497.2 311.0L497.2 312.0L497.2 313.0L497.2 314.0L497.2 315.0L497.2 316.0L497.2 317.0L497.2 318.0L497.2 319.0L497.2 320.0L497.2 321.0L497.2 322.0L497.2 323.0L497.2 324.0L497.2 325.0L497.2 326.0L497.2 327.0L497.2 328.0L497.2 329.0L497.0 330.0L497.0 330.0L496.5 331.0L496.0 332.0L496.0 332.0L495.5 333.0L495.0 334.0L495.0 334.0L494.5 335.0L494.0 335.9L493.9 336.0L493.4 337.0L493.0 337.7L492.8 338.0L492.3 339.0L492.0 339.5L491.7 340.0L491.2 341.0L491.0 341.4L490.8 342.0L490.4 343.0L490.0 344.0L490.0 344.0L489.6 345.0L489.2 346.0L489.0 346.3L488.6 347.0L488.1 348.0L488.0 348.1L487.4 349.0L487.0 349.5L486.6 350.0L486.0 350.6L485.6 351.0L485.0 351.5L484.4 352.0L484.0 352.3L483.0 352.8L482.6 353.0L482.0 353.3L481.0 353.6L480.4 354.0L480.0 354.2L479.0 354.9L478.9 355.0L478.0 355.7L477.7 356.0L477.0 356.5L476.0 356.5L475.3 356.0L475.0 355.7L474.1 355.0L474.0 354.9L473.0 354.2L472.6 354.0L472.0 353.6L471.0 353.2L470.6 353.0L470.0 352.7L469.0 352.1L468.9 352.0L468.0 351.2L467.7 351.0L467.0 350.2L466.8 350.0L466.0 349.0L466.0 349.0L465.4 348.0L465.0 347.3L464.8 347.0L464.3 346.0L464.0 345.3L463.9 345.0L463.5 344.0L463.1 343.0L463.0 342.8L462.6 342.0L462.1 341.0L462.0 340.8L461.5 340.0L461.0 339.0L461.0 339.0L460.4 338.0L460.0 337.2L459.9 337.0L459.4 336.0L459.0 335.3L458.8 335.0L458.3 334.0L458.0 333.4L457.8 333.0L457.3 332.0L457.0 331.3L456.8 331.0L456.4 330.0L456.1 329.0L456.1 328.0L456.1 327.0L456.1 326.0L456.1 325.0L456.1 324.0L456.1 323.0L456.1 322.0L456.1 321.0L456.1 320.0L456.1 319.0L456.1 318.0L456.1 317.0L456.1 316.0L456.1 315.0L456.1 314.0L456.1 313.0L456.1 312.0L456.1 311.0L456.1 310.0L456.1 309.0L456.1 308.0L456.1 307.0L456.1 306.0L456.1 305.0L456.1 304.0L456.1 303.0L456.4 302.0L456.9 301.0L457.0 300.7L457.3 300.0L457.8 299.0L458.0 298.5L458.2 298.0L458.6 297.0L459.0 296.2L459.1 296.0L459.5 295.0L460.0 294.0L460.0 293.9L461.0 293.1L461.1 293.0L462.0 292.4L462.6 292.0L463.0 291.8L464.0 291.1L464.2 291.0L465.0 290.5L465.7 290.0L466.0 289.8L467.0 289.1L467.2 289.0L468.0 288.5L468.8 288.0L469.0 287.8L470.0 287.2L470.3 287.0L471.0 286.5L471.8 286.0L472.0 285.9L473.0 285.2L473.4 285.0L474.0 284.6L474.9 284.0ZM327.0 291.6L328.0 291.5L328.5 292.0L329.0 292.5L329.5 293.0L330.0 293.6L330.3 294.0L331.0 294.9L331.1 295.0L331.7 296.0L332.0 296.4L332.4 297.0L333.0 298.0L333.0 298.1L333.5 299.0L333.9 300.0L334.0 300.2L334.3 301.0L334.6 302.0L335.0 303.0L335.0 303.1L335.3 304.0L335.6 305.0L335.9 306.0L336.0 306.4L336.2 307.0L336.4 308.0L336.7 309.0L337.0 310.0L337.0 310.2L337.2 311.0L337.0 312.0L337.0 312.0L336.8 313.0L336.6 314.0L336.3 315.0L336.1 316.0L336.0 316.4L335.8 317.0L335.6 318.0L335.3 319.0L335.1 320.0L335.0 320.2L334.8 321.0L334.5 322.0L334.2 323.0L334.0 323.5L333.8 324.0L333.5 325.0L333.1 326.0L333.0 326.3L332.7 327.0L332.3 328.0L332.0 328.7L331.8 329.0L331.4 330.0L331.0 330.7L330.8 331.0L330.3 332.0L330.0 332.5L329.7 333.0L329.0 334.0L329.0 334.0L328.2 335.0L328.0 335.3L327.0 335.2L326.8 335.0L326.1 334.0L326.0 333.9L325.5 333.0L325.0 332.2L324.9 332.0L324.4 331.0L324.0 330.3L323.9 330.0L323.4 329.0L323.0 328.1L323.0 328.0L322.5 327.0L322.1 326.0L322.0 325.7L321.7 325.0L321.4 324.0L321.1 323.0L321.0 322.6L320.8 322.0L320.5 321.0L320.3 320.0L320.0 319.0L320.0 319.0L319.8 318.0L319.5 317.0L319.3 316.0L319.1 315.0L319.0 314.8L318.8 314.0L318.6 313.0L318.4 312.0L318.2 311.0L318.5 310.0L318.7 309.0L318.9 308.0L319.0 307.8L319.2 307.0L319.5 306.0L319.8 305.0L320.0 304.2L320.0 304.0L320.4 303.0L320.7 302.0L321.0 301.1L321.0 301.0L321.4 300.0L321.7 299.0L322.0 298.5L322.3 298.0L322.8 297.0L323.0 296.7L323.4 296.0L324.0 295.1L324.1 295.0L324.8 294.0L325.0 293.7L325.6 293.0L326.0 292.5L326.5 292.0ZM273.0 401.0L274.0 400.9L275.0 400.8L276.0 400.9L276.3 401.0L277.0 401.3L277.9 402.0L278.0 402.1L279.0 402.9L279.2 403.0L280.0 403.7L280.3 404.0L281.0 404.6L281.4 405.0L282.0 405.5L282.5 406.0L283.0 406.4L283.6 407.0L284.0 407.4L284.7 408.0L285.0 408.3L285.7 409.0L286.0 409.3L286.7 410.0L287.0 410.3L287.8 411.0L288.0 411.2L288.7 412.0L289.0 412.3L289.7 413.0L290.0 413.3L290.7 414.0L291.0 414.3L291.6 415.0L292.0 415.4L292.6 416.0L293.0 416.5L293.5 417.0L294.0 417.6L294.4 418.0L295.0 418.7L295.2 419.0L296.0 419.9L296.1 420.0L296.9 421.0L297.0 421.1L297.7 422.0L298.0 422.4L298.5 423.0L299.0 423.6L299.3 424.0L300.0 424.9L300.0 425.0L300.8 426.0L301.0 426.4L301.4 427.0L302.0 427.9L302.3 428.0L302.0 428.0L301.0 428.1L300.9 428.0L300.0 427.2L299.8 427.0L299.0 426.2L298.0 426.3L297.7 426.0L297.0 425.3L296.0 425.4L295.6 425.0L295.0 424.4L294.6 424.0L294.0 423.4L293.0 423.5L292.5 423.0L292.0 422.5L291.5 422.0L291.0 421.5L290.0 421.5L289.5 421.0L289.0 420.6L288.0 420.6L287.4 420.0L287.0 419.6L286.4 419.0L286.0 418.6L285.0 418.6L284.4 418.0L284.0 417.6L283.0 417.7L282.3 417.0L282.0 416.7L281.3 416.0L281.0 415.7L280.0 415.7L279.3 415.0L279.0 414.7L278.0 414.7L277.3 414.0L277.0 413.7L276.3 413.0L276.0 412.7L275.0 412.7L274.0 412.7L273.3 412.0L273.0 411.7L272.0 411.6L271.0 411.6L270.4 411.0L270.0 410.6L269.0 410.6L268.0 410.6L267.4 410.0L267.0 409.5L266.0 409.5L265.5 409.0L265.0 408.5L264.0 408.4L263.6 408.0L263.0 407.4L262.0 407.3L261.7 407.0L261.0 406.2L260.0 406.2L259.0 406.1L258.9 406.0L259.0 405.0L259.0 405.0L260.0 404.3L260.5 404.0L261.0 403.7L262.0 403.3L262.7 403.0L263.0 402.9L264.0 402.6L265.0 402.3L266.0 402.1L266.4 402.0L267.0 401.9L268.0 401.7L269.0 401.6L270.0 401.4L271.0 401.2L272.0 401.1L272.7 401.0ZM328.0 409.8L328.2 410.0L329.0 410.6L329.5 411.0L330.0 411.4L330.6 412.0L331.0 412.3L331.7 413.0L332.0 413.3L332.7 414.0L333.0 414.3L333.7 415.0L334.0 415.3L334.7 416.0L335.0 416.3L335.7 417.0L336.0 417.3L336.9 418.0L337.0 418.1L338.0 418.9L338.1 419.0L339.0 419.7L339.3 420.0L340.0 420.6L340.5 421.0L341.0 421.5L341.6 422.0L342.0 422.4L342.7 423.0L343.0 423.3L343.7 424.0L344.0 424.3L344.7 425.0L345.0 425.3L345.7 426.0L346.0 426.3L346.6 427.0L346.0 427.1L345.0 427.1L344.9 427.0L344.0 426.2L343.0 426.2L342.8 426.0L342.0 425.2L341.0 425.3L340.7 425.0L340.0 424.3L339.0 424.3L338.7 424.0L338.0 423.4L337.0 423.4L336.6 423.0L336.0 422.4L335.0 422.4L334.6 422.0L334.0 421.4L333.0 421.5L332.5 421.0L332.0 420.5L331.0 420.5L330.0 420.5L329.5 420.0L329.0 419.5L328.0 419.6L327.0 419.6L326.0 419.5L325.5 420.0L325.0 420.5L324.0 420.5L323.0 420.5L322.4 421.0L322.0 421.4L321.0 421.4L320.4 422.0L320.0 422.4L319.0 422.3L318.0 422.3L317.3 423.0L317.0 423.3L316.0 423.2L315.2 424.0L315.0 424.2L314.0 424.1L313.4 424.0L314.0 423.3L314.2 423.0L315.0 422.0L315.0 422.0L315.8 421.0L316.0 420.8L316.7 420.0L317.0 419.7L317.7 419.0L318.0 418.6L318.6 418.0L319.0 417.6L319.6 417.0L320.0 416.6L320.6 416.0L321.0 415.6L321.6 415.0L322.0 414.7L322.7 414.0L323.0 413.7L323.8 413.0L324.0 412.8L325.0 412.0L325.0 412.0L326.0 411.1L326.2 411.0L327.0 410.3L327.7 410.0ZM307.0 426.8L307.0 427.0L307.0 427.0L306.5 427.0ZM304.0 427.9L304.0 428.0L304.0 428.0L303.6 428.0ZM347.0 427.4L347.5 428.0L347.0 428.0L347.0 428.0ZM461.0 435.0L462.0 434.9L463.0 434.9L464.0 434.8L465.0 434.8L466.0 434.8L467.0 434.7L468.0 434.7L469.0 434.8L470.0 434.8L471.0 434.8L472.0 434.8L473.0 434.9L474.0 435.0L474.4 435.0L475.0 435.1L476.0 435.2L477.0 435.3L478.0 435.4L479.0 435.5L480.0 435.7L481.0 435.8L482.0 436.0L482.2 436.0L483.0 436.1L484.0 436.3L485.0 436.5L486.0 436.7L487.0 436.9L487.6 437.0L488.0 437.1L489.0 437.3L490.0 437.6L491.0 437.8L491.8 438.0L492.0 438.1L493.0 438.3L494.0 438.6L495.0 438.9L495.5 439.0L496.0 439.1L497.0 439.4L498.0 439.7L499.0 439.9L499.3 440.0L500.0 440.2L501.0 440.6L502.0 440.9L502.3 441.0L503.0 441.3L504.0 441.7L504.7 442.0L505.0 442.1L506.0 442.6L506.7 443.0L507.0 443.2L508.0 443.8L508.3 444.0L509.0 444.6L509.5 445.0L510.0 445.5L510.5 446.0L511.0 446.9L511.0 447.0L511.3 448.0L511.0 448.0L510.0 448.1L509.0 448.2L508.0 448.2L507.0 448.3L506.0 448.3L505.0 448.4L504.0 448.4L503.0 448.4L502.0 448.4L501.0 448.4L500.6 448.0L500.0 447.5L499.0 447.5L498.0 447.5L497.0 447.5L496.0 447.5L495.0 447.5L494.0 447.5L493.0 447.5L492.0 447.5L491.0 447.6L490.0 447.6L489.0 447.6L488.0 447.6L487.4 447.0L487.0 446.6L486.0 446.6L485.0 446.6L484.0 446.6L483.0 446.6L482.0 446.6L481.0 446.6L480.0 446.6L479.0 446.6L478.4 446.0L478.0 445.6L477.0 445.6L476.0 445.6L475.0 445.6L474.0 445.6L473.0 445.6L472.0 445.6L471.0 445.6L470.0 445.6L469.0 445.6L468.0 445.6L467.4 445.0L467.0 444.6L466.0 444.6L465.0 444.6L464.0 444.6L463.0 444.6L462.0 444.6L461.0 444.5L460.0 444.5L459.0 444.5L458.0 444.5L457.0 444.5L456.5 444.0L456.0 443.5L455.0 443.5L454.0 443.5L453.0 443.5L452.0 443.4L451.0 443.4L450.0 443.4L449.6 443.0L449.0 442.3L448.0 442.3L447.0 442.3L446.0 442.2L445.8 442.0L445.0 441.1L444.0 441.0L443.6 441.0L443.9 440.0L444.0 439.8L444.6 439.0L445.0 438.7L446.0 438.0L446.1 438.0L447.0 437.6L448.0 437.2L448.8 437.0L449.0 437.0L450.0 436.8L451.0 436.6L452.0 436.5L453.0 436.2L453.9 436.0L454.0 436.0L455.0 435.8L456.0 435.6L457.0 435.5L458.0 435.3L459.0 435.2L460.0 435.1L460.8 435.0Z"/>
<path fill="#0042ff" fill-rule="evenodd" d="M278.0 275.7L278.9 276.0L279.0 276.0L280.0 276.6L280.7 277.0L281.0 277.2L282.0 277.9L282.1 278.0L283.0 278.7L283.3 279.0L284.0 279.7L284.3 280.0L285.0 280.7L285.2 281.0L286.0 282.0L286.0 282.0L286.7 283.0L287.0 283.4L287.4 284.0L288.0 285.0L288.0 285.1L288.5 286.0L289.0 286.9L289.1 287.0L289.6 288.0L290.0 288.9L290.0 289.0L290.5 290.0L290.9 291.0L291.0 291.4L291.1 292.0L291.4 293.0L291.6 294.0L291.8 295.0L292.0 295.8L292.0 296.0L292.2 297.0L292.5 298.0L292.7 299.0L292.9 300.0L292.9 301.0L292.9 302.0L292.9 303.0L292.9 304.0L292.9 305.0L292.9 306.0L292.9 307.0L292.9 308.0L292.9 309.0L292.9 310.0L292.7 311.0L292.6 312.0L292.4 313.0L292.3 314.0L292.1 315.0L292.0 315.8L292.0 316.0L291.8 317.0L292.0 317.4L292.3 318.0L292.2 319.0L292.1 320.0L292.0 321.0L292.0 321.0L291.9 322.0L291.8 323.0L291.7 324.0L291.3 325.0L291.0 325.7L290.9 326.0L290.4 327.0L290.0 327.7L289.8 328.0L289.0 329.0L289.0 329.0L288.1 330.0L288.0 330.1L287.5 331.0L287.0 331.9L286.9 332.0L286.3 333.0L286.0 333.5L285.7 334.0L285.0 334.9L284.9 335.0L284.3 336.0L284.0 336.4L283.6 337.0L283.0 337.8L282.8 338.0L282.0 338.9L281.9 339.0L281.0 340.0L281.0 340.0L280.0 340.9L279.9 341.0L279.0 341.7L278.4 342.0L278.0 342.2L277.6 342.0L277.0 341.7L276.1 341.0L276.0 340.9L275.0 340.0L275.0 340.0L274.1 339.0L274.0 338.9L273.2 338.0L273.0 337.8L272.4 337.0L272.0 336.4L271.7 336.0L271.1 335.0L271.0 334.9L270.3 334.0L270.0 333.5L269.7 333.0L269.1 332.0L269.0 331.9L268.5 331.0L268.0 330.1L267.9 330.0L267.4 329.0L267.0 328.1L267.0 328.0L266.5 327.0L266.1 326.0L266.0 325.7L265.7 325.0L265.3 324.0L265.2 323.0L265.0 322.0L265.0 322.0L264.8 321.0L264.7 320.0L264.5 319.0L264.3 318.0L264.2 317.0L264.0 316.0L264.0 315.8L263.9 315.0L263.7 314.0L263.6 313.0L263.4 312.0L263.3 311.0L263.1 310.0L263.1 309.0L263.1 308.0L263.1 307.0L263.1 306.0L263.1 305.0L263.1 304.0L263.1 303.0L263.1 302.0L263.1 301.0L263.1 300.0L263.3 299.0L263.5 298.0L263.8 297.0L264.0 296.0L264.0 295.8L264.2 295.0L264.4 294.0L264.6 293.0L264.9 292.0L265.0 291.4L265.1 291.0L265.5 290.0L266.0 289.0L266.0 288.9L266.4 288.0L266.9 287.0L267.0 286.9L267.5 286.0L268.0 285.1L268.0 285.0L268.6 284.0L269.0 283.4L269.3 283.0L270.0 282.0L270.0 282.0L270.8 281.0L271.0 280.7L271.7 280.0L272.0 279.7L272.7 279.0L273.0 278.7L273.9 278.0L274.0 277.9L275.0 277.2L275.3 277.0L276.0 276.6L277.0 276.0L277.1 276.0ZM476.0 285.0L477.0 285.0L477.0 285.0L478.0 285.6L478.6 286.0L479.0 286.3L480.0 286.9L480.1 287.0L481.0 287.6L481.6 288.0L482.0 288.2L483.0 288.9L483.2 289.0L484.0 289.5L484.7 290.0L485.0 290.2L486.0 290.8L486.2 291.0L487.0 291.5L487.8 292.0L488.0 292.1L489.0 292.8L489.3 293.0L490.0 293.4L490.8 294.0L491.0 294.2L491.6 295.0L492.0 296.0L492.0 296.0L492.5 297.0L492.9 298.0L493.0 298.2L493.3 299.0L493.8 300.0L494.0 300.5L494.2 301.0L494.6 302.0L495.0 302.8L495.1 303.0L495.4 304.0L495.4 305.0L495.4 306.0L495.4 307.0L495.4 308.0L495.4 309.0L495.4 310.0L495.4 311.0L495.4 312.0L495.4 313.0L495.4 314.0L495.4 315.0L495.4 316.0L495.4 317.0L495.4 318.0L495.4 319.0L495.4 320.0L495.4 321.0L495.4 322.0L495.4 323.0L495.4 324.0L495.4 325.0L495.4 326.0L495.4 327.0L495.4 328.0L495.3 329.0L495.0 329.6L494.8 330.0L494.3 331.0L494.0 331.6L493.8 332.0L493.3 333.0L493.0 333.6L492.8 334.0L492.3 335.0L492.0 335.5L491.7 336.0L491.2 337.0L491.0 337.3L490.6 338.0L490.0 339.0L490.0 339.0L489.4 340.0L489.0 340.6L488.8 341.0L488.1 342.0L488.0 342.1L487.4 343.0L487.0 343.5L486.7 344.0L486.0 344.8L485.9 345.0L485.1 346.0L485.0 346.1L484.2 347.0L484.0 347.2L483.2 348.0L483.0 348.2L482.2 349.0L482.0 349.2L481.2 350.0L481.0 350.2L480.1 351.0L480.0 351.0L479.0 351.9L478.9 352.0L478.0 352.7L477.6 353.0L477.0 353.5L476.0 353.5L475.4 353.0L475.0 352.7L474.1 352.0L474.0 351.9L473.0 351.0L473.0 351.0L472.0 350.1L471.8 350.0L471.0 349.2L470.8 349.0L470.0 348.2L469.8 348.0L469.0 347.1L468.9 347.0L468.0 346.0L468.0 345.9L467.2 345.0L467.0 344.7L466.5 344.0L466.0 343.3L465.8 343.0L465.1 342.0L465.0 341.9L464.4 341.0L464.0 340.3L463.8 340.0L463.2 339.0L463.0 338.6L462.6 338.0L462.1 337.0L462.0 336.9L461.5 336.0L461.0 335.0L461.0 335.0L460.5 334.0L460.0 333.1L460.0 333.0L459.5 332.0L459.0 331.0L459.0 331.0L458.5 330.0L458.0 329.0L458.0 328.9L457.9 328.0L457.9 327.0L457.9 326.0L457.9 325.0L457.9 324.0L457.9 323.0L457.9 322.0L457.9 321.0L457.9 320.0L457.9 319.0L457.9 318.0L457.9 317.0L457.9 316.0L457.9 315.0L457.9 314.0L457.9 313.0L457.9 312.0L457.9 311.0L457.9 310.0L457.9 309.0L457.9 308.0L457.9 307.0L457.9 306.0L457.9 305.0L457.9 304.0L457.9 303.0L458.0 302.8L458.4 302.0L458.8 301.0L459.0 300.5L459.2 300.0L459.7 299.0L460.0 298.2L460.1 298.0L460.5 297.0L461.0 296.0L461.0 296.0L461.4 295.0L462.0 294.2L462.2 294.0L463.0 293.4L463.7 293.0L464.0 292.8L465.0 292.1L465.2 292.0L466.0 291.5L466.8 291.0L467.0 290.8L468.0 290.2L468.3 290.0L469.0 289.5L469.8 289.0L470.0 288.9L471.0 288.2L471.4 288.0L472.0 287.6L472.9 287.0L473.0 286.9L474.0 286.3L474.4 286.0L475.0 285.6L476.0 285.0ZM327.0 295.5L328.0 295.5L328.5 296.0L329.0 296.5L329.4 297.0L330.0 297.7L330.2 298.0L330.9 299.0L331.0 299.2L331.4 300.0L331.8 301.0L332.0 301.4L332.3 302.0L332.7 303.0L333.0 303.9L333.1 304.0L333.4 305.0L333.8 306.0L334.0 306.7L334.1 307.0L334.4 308.0L334.7 309.0L335.0 309.9L335.0 310.0L335.3 311.0L335.1 312.0L335.0 312.3L334.8 313.0L334.6 314.0L334.3 315.0L334.0 316.0L334.0 316.1L333.7 317.0L333.4 318.0L333.1 319.0L333.0 319.3L332.8 320.0L332.4 321.0L332.1 322.0L332.0 322.2L331.7 323.0L331.3 324.0L331.0 324.7L330.9 325.0L330.4 326.0L330.0 326.7L329.9 327.0L329.3 328.0L329.0 328.5L328.6 329.0L328.0 329.9L327.0 329.8L326.4 329.0L326.0 328.3L325.8 328.0L325.3 327.0L325.0 326.5L324.8 326.0L324.3 325.0L324.0 324.3L323.9 324.0L323.5 323.0L323.1 322.0L323.0 321.6L322.8 321.0L322.5 320.0L322.1 319.0L322.0 318.6L321.8 318.0L321.5 317.0L321.3 316.0L321.0 315.0L321.0 315.0L320.7 314.0L320.5 313.0L320.3 312.0L320.0 311.0L320.3 310.0L320.6 309.0L320.9 308.0L321.0 307.6L321.2 307.0L321.5 306.0L321.8 305.0L322.0 304.5L322.2 304.0L322.6 303.0L323.0 302.0L323.0 301.9L323.4 301.0L323.8 300.0L324.0 299.6L324.3 299.0L324.9 298.0L325.0 297.9L325.7 297.0L326.0 296.6L326.5 296.0ZM271.0 401.9L272.0 401.7L273.0 401.6L274.0 401.5L275.0 401.4L276.0 401.5L277.0 401.9L277.1 402.0L278.0 402.7L278.4 403.0L279.0 403.5L279.6 404.0L280.0 404.3L280.7 405.0L281.0 405.2L281.9 406.0L282.0 406.1L282.9 407.0L283.0 407.1L284.0 408.0L284.0 408.0L285.0 409.0L285.0 409.0L286.0 409.9L286.1 410.0L287.0 410.9L287.1 411.0L288.0 411.9L288.1 412.0L289.0 412.9L289.1 413.0L290.0 414.0L290.0 414.0L291.0 415.0L291.0 415.0L291.9 416.0L292.0 416.1L292.8 417.0L293.0 417.2L293.7 418.0L294.0 418.3L294.6 419.0L295.0 419.5L295.4 420.0L296.0 420.7L296.2 421.0L297.0 421.9L297.0 422.0L297.8 423.0L298.0 423.2L298.6 424.0L299.0 424.6L299.3 425.0L300.0 426.0L300.0 426.0L300.7 427.0L300.0 427.1L299.9 427.0L299.0 426.1L298.0 426.2L297.8 426.0L297.0 425.3L296.0 425.3L295.7 425.0L295.0 424.3L294.7 424.0L294.0 423.4L293.0 423.4L292.6 423.0L292.0 422.4L291.6 422.0L291.0 421.5L290.0 421.5L289.5 421.0L289.0 420.5L288.0 420.5L287.5 420.0L287.0 419.5L286.5 419.0L286.0 418.6L285.0 418.6L284.4 418.0L284.0 417.6L283.0 417.6L282.4 417.0L282.0 416.6L281.4 416.0L281.0 415.6L280.0 415.6L279.4 415.0L279.0 414.7L278.0 414.7L277.3 414.0L277.0 413.7L276.3 413.0L276.0 412.7L275.0 412.6L274.0 412.6L273.4 412.0L273.0 411.6L272.0 411.6L271.0 411.6L270.4 411.0L270.0 410.5L269.0 410.5L268.0 410.5L267.5 410.0L267.0 409.5L266.0 409.4L265.6 409.0L265.0 408.4L264.0 408.4L263.6 408.0L263.0 407.3L262.0 407.2L261.8 407.0L261.0 406.1L260.0 406.0L259.5 406.0L260.0 405.4L260.5 405.0L261.0 404.7L262.0 404.1L262.3 404.0L263.0 403.7L264.0 403.4L265.0 403.1L265.2 403.0L266.0 402.8L267.0 402.6L268.0 402.4L269.0 402.3L270.0 402.1L270.5 402.0ZM328.0 410.7L328.4 411.0L329.0 411.4L329.7 412.0L330.0 412.3L330.8 413.0L331.0 413.2L331.8 414.0L332.0 414.2L332.9 415.0L333.0 415.1L333.8 416.0L334.0 416.2L334.8 417.0L335.0 417.2L335.9 418.0L336.0 418.1L337.0 418.9L337.1 419.0L338.0 419.7L338.3 420.0L339.0 420.6L339.5 421.0L340.0 421.5L340.6 422.0L341.0 422.4L341.6 423.0L342.0 423.3L342.7 424.0L343.0 424.3L343.7 425.0L344.0 425.4L344.6 426.0L344.0 426.1L343.0 426.1L342.9 426.0L342.0 425.1L341.0 425.2L340.8 425.0L340.0 424.2L339.0 424.3L338.7 424.0L338.0 423.3L337.0 423.3L336.7 423.0L336.0 422.3L335.0 422.4L334.6 422.0L334.0 421.4L333.0 421.4L332.6 421.0L332.0 420.4L331.0 420.5L330.0 420.5L329.5 420.0L329.0 419.5L328.0 419.5L327.0 419.5L326.0 419.5L325.5 420.0L325.0 420.5L324.0 420.4L323.0 420.4L322.4 421.0L322.0 421.4L321.0 421.3L320.3 422.0L320.0 422.3L319.0 422.3L318.0 422.2L317.2 423.0L317.0 423.2L316.0 423.1L315.2 423.0L315.9 422.0L316.0 421.9L316.8 421.0L317.0 420.8L317.7 420.0L318.0 419.6L318.6 419.0L319.0 418.6L319.5 418.0L320.0 417.5L320.5 417.0L321.0 416.5L321.5 416.0L322.0 415.6L322.6 415.0L323.0 414.6L323.7 414.0L324.0 413.7L324.8 413.0L325.0 412.8L326.0 412.0L326.0 412.0L327.0 411.2L327.4 411.0ZM315.0 423.2L315.1 424.0L315.0 424.1L314.5 424.0ZM345.0 426.5L345.5 427.0L345.0 427.0L345.0 427.0ZM301.0 427.6L301.2 428.0L301.0 428.0L301.0 428.0ZM457.0 435.9L458.0 435.8L459.0 435.6L460.0 435.5L461.0 435.4L462.0 435.3L463.0 435.2L464.0 435.2L465.0 435.1L466.0 435.1L467.0 435.1L468.0 435.1L469.0 435.1L470.0 435.1L471.0 435.2L472.0 435.2L473.0 435.3L474.0 435.3L475.0 435.4L476.0 435.5L477.0 435.6L478.0 435.8L479.0 435.9L479.9 436.0L480.0 436.0L481.0 436.2L482.0 436.3L483.0 436.5L484.0 436.7L485.0 436.9L485.8 437.0L486.0 437.0L487.0 437.3L488.0 437.5L489.0 437.7L490.0 437.9L490.2 438.0L491.0 438.2L492.0 438.5L493.0 438.8L493.9 439.0L494.0 439.0L495.0 439.3L496.0 439.6L497.0 439.8L497.7 440.0L498.0 440.1L499.0 440.4L500.0 440.7L500.8 441.0L501.0 441.1L502.0 441.5L503.0 441.9L503.3 442.0L504.0 442.3L505.0 442.8L505.4 443.0L506.0 443.4L507.0 444.0L507.0 444.0L508.0 444.8L508.3 445.0L509.0 445.8L509.2 446.0L509.8 447.0L510.0 447.8L510.1 448.0L510.0 448.0L509.0 448.1L508.0 448.1L507.0 448.2L506.0 448.2L505.0 448.3L504.0 448.3L503.0 448.3L502.0 448.4L501.0 448.4L500.6 448.0L500.0 447.4L499.0 447.4L498.0 447.4L497.0 447.4L496.0 447.4L495.0 447.5L494.0 447.5L493.0 447.5L492.0 447.5L491.0 447.5L490.0 447.5L489.0 447.5L488.0 447.5L487.5 447.0L487.0 446.5L486.0 446.5L485.0 446.5L484.0 446.5L483.0 446.5L482.0 446.5L481.0 446.5L480.0 446.5L479.0 446.5L478.5 446.0L478.0 445.5L477.0 445.5L476.0 445.5L475.0 445.5L474.0 445.5L473.0 445.5L472.0 445.5L471.0 445.5L470.0 445.5L469.0 445.5L468.0 445.5L467.5 445.0L467.0 444.5L466.0 444.5L465.0 444.5L464.0 444.5L463.0 444.5L462.0 444.5L461.0 444.5L460.0 444.5L459.0 444.5L458.0 444.5L457.0 444.4L456.6 444.0L456.0 443.4L455.0 443.4L454.0 443.4L453.0 443.4L452.0 443.4L451.0 443.3L450.0 443.3L449.7 443.0L449.0 442.3L448.0 442.2L447.0 442.2L446.0 442.1L445.9 442.0L445.0 441.0L444.7 441.0L445.0 440.4L445.2 440.0L446.0 439.1L446.2 439.0L447.0 438.5L448.0 438.0L448.0 438.0L449.0 437.7L450.0 437.4L451.0 437.2L452.0 437.0L452.0 437.0L453.0 436.7L454.0 436.5L455.0 436.3L456.0 436.1L456.3 436.0Z"/>
<path fill="#0057ff" fill-rule="evenodd" d="M277.0 277.8L278.0 277.3L279.0 277.8L279.4 278.0L280.0 278.3L281.0 279.0L281.0 279.0L282.0 279.8L282.2 280.0L283.0 280.7L283.3 281.0L284.0 281.8L284.2 282.0L285.0 283.0L285.0 283.0L285.8 284.0L286.0 284.3L286.4 285.0L287.0 285.9L287.1 286.0L287.7 287.0L288.0 287.6L288.2 288.0L288.7 289.0L289.0 289.5L289.2 290.0L289.7 291.0L290.0 292.0L290.0 292.2L290.2 293.0L290.4 294.0L290.7 295.0L290.9 296.0L291.0 296.4L291.1 297.0L291.4 298.0L291.6 299.0L291.8 300.0L291.8 301.0L291.8 302.0L291.8 303.0L291.8 304.0L291.8 305.0L291.8 306.0L291.8 307.0L291.8 308.0L291.8 309.0L291.8 310.0L291.6 311.0L291.5 312.0L291.3 313.0L291.2 314.0L291.0 315.0L291.0 315.0L290.8 316.0L290.7 317.0L290.9 318.0L290.8 319.0L290.6 320.0L290.5 321.0L290.3 322.0L290.1 323.0L290.0 323.7L289.9 324.0L289.4 325.0L289.0 325.6L288.8 326.0L288.1 327.0L288.0 327.2L287.6 328.0L287.1 329.0L287.0 329.1L286.5 330.0L286.0 330.9L285.9 331.0L285.3 332.0L285.0 332.4L284.6 333.0L284.0 333.7L283.8 334.0L283.0 334.9L282.9 335.0L282.2 336.0L282.0 336.2L281.3 337.0L281.0 337.4L280.4 338.0L280.0 338.4L279.2 339.0L279.0 339.2L278.0 339.8L277.0 339.2L276.8 339.0L276.0 338.4L275.6 338.0L275.0 337.4L274.7 337.0L274.0 336.2L273.8 336.0L273.1 335.0L273.0 334.9L272.2 334.0L272.0 333.7L271.4 333.0L271.0 332.4L270.7 332.0L270.1 331.0L270.0 330.9L269.5 330.0L269.0 329.1L268.9 329.0L268.4 328.0L268.0 327.2L267.9 327.0L267.4 326.0L267.0 325.0L267.0 325.0L266.6 324.0L266.4 323.0L266.2 322.0L266.0 321.0L266.0 320.9L265.8 320.0L265.7 319.0L265.5 318.0L265.3 317.0L265.2 316.0L265.0 315.0L265.0 315.0L264.8 314.0L264.7 313.0L264.5 312.0L264.4 311.0L264.2 310.0L264.2 309.0L264.2 308.0L264.2 307.0L264.2 306.0L264.2 305.0L264.2 304.0L264.2 303.0L264.2 302.0L264.2 301.0L264.2 300.0L264.4 299.0L264.6 298.0L264.9 297.0L265.0 296.4L265.1 296.0L265.3 295.0L265.6 294.0L265.8 293.0L266.0 292.2L266.0 292.0L266.3 291.0L266.8 290.0L267.0 289.5L267.3 289.0L267.8 288.0L268.0 287.6L268.3 287.0L268.9 286.0L269.0 285.9L269.6 285.0L270.0 284.3L270.2 284.0L271.0 283.0L271.0 283.0L271.8 282.0L272.0 281.8L272.7 281.0L273.0 280.7L273.8 280.0L274.0 279.8L275.0 279.0L275.0 279.0L276.0 278.3L276.6 278.0ZM476.0 286.7L477.0 286.7L477.5 287.0L478.0 287.3L479.0 288.0L479.0 288.0L480.0 288.6L480.6 289.0L481.0 289.3L482.0 289.9L482.1 290.0L483.0 290.6L483.6 291.0L484.0 291.2L485.0 291.9L485.2 292.0L486.0 292.5L486.7 293.0L487.0 293.2L488.0 293.8L488.2 294.0L489.0 294.5L489.6 295.0L490.0 295.8L490.1 296.0L490.5 297.0L491.0 298.0L491.0 298.0L491.4 299.0L491.9 300.0L492.0 300.3L492.3 301.0L492.7 302.0L493.0 302.6L493.2 303.0L493.5 304.0L493.5 305.0L493.5 306.0L493.5 307.0L493.5 308.0L493.5 309.0L493.5 310.0L493.5 311.0L493.5 312.0L493.5 313.0L493.5 314.0L493.5 315.0L493.5 316.0L493.5 317.0L493.5 318.0L493.5 319.0L493.5 320.0L493.5 321.0L493.5 322.0L493.5 323.0L493.5 324.0L493.5 325.0L493.5 326.0L493.5 327.0L493.5 328.0L493.1 329.0L493.0 329.3L492.6 330.0L492.1 331.0L492.0 331.3L491.6 332.0L491.1 333.0L491.0 333.2L490.6 334.0L490.0 335.0L490.0 335.1L489.5 336.0L489.0 336.8L488.9 337.0L488.3 338.0L488.0 338.5L487.7 339.0L487.0 340.0L487.0 340.0L486.3 341.0L486.0 341.5L485.6 342.0L485.0 342.8L484.8 343.0L484.0 344.0L484.0 344.0L483.1 345.0L483.0 345.1L482.1 346.0L482.0 346.1L481.1 347.0L481.0 347.1L480.0 348.0L480.0 348.0L479.0 348.9L478.8 349.0L478.0 349.7L477.6 350.0L477.0 350.5L476.0 350.5L475.4 350.0L475.0 349.7L474.2 349.0L474.0 348.9L473.0 348.0L473.0 348.0L472.0 347.1L471.9 347.0L471.0 346.1L470.9 346.0L470.0 345.0L470.0 345.0L469.1 344.0L469.0 343.9L468.3 343.0L468.0 342.6L467.5 342.0L467.0 341.3L466.8 341.0L466.1 340.0L466.0 339.8L465.5 339.0L465.0 338.2L464.9 338.0L464.3 337.0L464.0 336.5L463.7 336.0L463.2 335.0L463.0 334.7L462.7 334.0L462.1 333.0L462.0 332.7L461.6 332.0L461.1 331.0L461.0 330.7L460.6 330.0L460.1 329.0L460.0 328.7L459.7 328.0L459.7 327.0L459.7 326.0L459.7 325.0L459.7 324.0L459.7 323.0L459.7 322.0L459.7 321.0L459.7 320.0L459.7 319.0L459.7 318.0L459.7 317.0L459.7 316.0L459.7 315.0L459.7 314.0L459.7 313.0L459.7 312.0L459.7 311.0L459.7 310.0L459.7 309.0L459.7 308.0L459.7 307.0L459.7 306.0L459.7 305.0L459.7 304.0L459.8 303.0L460.0 302.6L460.3 302.0L460.7 301.0L461.0 300.3L461.1 300.0L461.6 299.0L462.0 298.0L462.0 298.0L462.5 297.0L462.9 296.0L463.0 295.8L463.4 295.0L464.0 294.5L464.8 294.0L465.0 293.8L466.0 293.2L466.3 293.0L467.0 292.5L467.8 292.0L468.0 291.9L469.0 291.2L469.4 291.0L470.0 290.6L470.9 290.0L471.0 289.9L472.0 289.3L472.4 289.0L473.0 288.6L474.0 288.0L474.0 288.0L475.0 287.3L475.5 287.0ZM327.0 299.5L328.0 299.5L328.3 300.0L329.0 301.0L329.0 301.0L329.6 302.0L330.0 302.7L330.1 303.0L330.6 304.0L331.0 304.8L331.1 305.0L331.5 306.0L331.9 307.0L332.0 307.2L332.3 308.0L332.7 309.0L333.0 309.9L333.0 310.0L333.3 311.0L333.1 312.0L333.0 312.2L332.8 313.0L332.5 314.0L332.1 315.0L332.0 315.4L331.8 316.0L331.4 317.0L331.1 318.0L331.0 318.2L330.7 319.0L330.3 320.0L330.0 320.6L329.8 321.0L329.3 322.0L329.0 322.7L328.8 323.0L328.2 324.0L328.0 324.4L327.0 324.4L326.8 324.0L326.2 323.0L326.0 322.6L325.7 322.0L325.3 321.0L325.0 320.4L324.9 320.0L324.5 319.0L324.1 318.0L324.0 317.8L323.7 317.0L323.4 316.0L323.1 315.0L323.0 314.8L322.8 314.0L322.5 313.0L322.2 312.0L322.0 311.4L321.9 311.0L322.0 310.7L322.2 310.0L322.6 309.0L322.9 308.0L323.0 307.7L323.3 307.0L323.7 306.0L324.0 305.2L324.1 305.0L324.5 304.0L325.0 303.0L325.0 303.0L325.5 302.0L326.0 301.1L326.0 301.0L326.7 300.0ZM269.0 402.9L270.0 402.8L271.0 402.5L272.0 402.4L273.0 402.2L274.0 402.1L275.0 402.1L276.0 402.1L277.0 402.5L277.6 403.0L278.0 403.3L278.9 404.0L279.0 404.1L280.0 405.0L280.1 405.0L281.0 405.8L281.2 406.0L282.0 406.8L282.3 407.0L283.0 407.7L283.3 408.0L284.0 408.6L284.4 409.0L285.0 409.6L285.4 410.0L286.0 410.6L286.4 411.0L287.0 411.6L287.4 412.0L288.0 412.6L288.4 413.0L289.0 413.6L289.4 414.0L290.0 414.7L290.3 415.0L291.0 415.7L291.2 416.0L292.0 416.8L292.2 417.0L293.0 417.9L293.0 418.0L293.9 419.0L294.0 419.1L294.8 420.0L295.0 420.3L295.6 421.0L296.0 421.5L296.4 422.0L297.0 422.8L297.1 423.0L297.9 424.0L298.0 424.2L298.6 425.0L299.0 425.6L299.3 426.0L299.0 426.0L298.0 426.1L297.9 426.0L297.0 425.2L296.0 425.2L295.8 425.0L295.0 424.3L294.7 424.0L294.0 423.3L293.0 423.4L292.6 423.0L292.0 422.4L291.6 422.0L291.0 421.4L290.0 421.4L289.6 421.0L289.0 420.4L288.0 420.5L287.5 420.0L287.0 419.5L286.5 419.0L286.0 418.5L285.0 418.5L284.5 418.0L284.0 417.5L283.0 417.6L282.4 417.0L282.0 416.6L281.4 416.0L281.0 415.6L280.0 415.6L279.4 415.0L279.0 414.6L278.0 414.6L277.4 414.0L277.0 413.6L276.4 413.0L276.0 412.6L275.0 412.6L274.0 412.6L273.4 412.0L273.0 411.6L272.0 411.6L271.0 411.5L270.5 411.0L270.0 410.5L269.0 410.5L268.0 410.5L267.5 410.0L267.0 409.4L266.0 409.4L265.6 409.0L265.0 408.3L264.0 408.3L263.7 408.0L263.0 407.2L262.0 407.1L261.9 407.0L261.0 406.0L260.7 406.0L261.0 405.8L262.0 405.1L262.1 405.0L263.0 404.6L264.0 404.2L264.5 404.0L265.0 403.8L266.0 403.5L267.0 403.3L268.0 403.1L268.7 403.0ZM328.0 411.5L328.6 412.0L329.0 412.3L329.8 413.0L330.0 413.2L330.9 414.0L331.0 414.1L332.0 415.0L332.0 415.0L333.0 416.0L333.0 416.0L333.9 417.0L334.0 417.1L334.9 418.0L335.0 418.1L336.0 418.9L336.1 419.0L337.0 419.7L337.3 420.0L338.0 420.6L338.4 421.0L339.0 421.5L339.5 422.0L340.0 422.4L340.6 423.0L341.0 423.4L341.6 424.0L342.0 424.4L342.6 425.0L342.0 425.0L341.0 425.1L340.9 425.0L340.0 424.1L339.0 424.2L338.8 424.0L338.0 423.2L337.0 423.2L336.8 423.0L336.0 422.2L335.0 422.3L334.7 422.0L334.0 421.3L333.0 421.3L332.7 421.0L332.0 420.3L331.0 420.4L330.0 420.4L329.6 420.0L329.0 419.4L328.0 419.5L327.0 419.4L326.0 419.4L325.4 420.0L325.0 420.4L324.0 420.4L323.0 420.3L322.3 421.0L322.0 421.3L321.0 421.3L320.2 422.0L320.0 422.2L319.0 422.2L318.0 422.1L317.1 423.0L317.0 423.1L316.1 423.0L316.9 422.0L317.0 421.9L317.7 421.0L318.0 420.7L318.6 420.0L319.0 419.6L319.5 419.0L320.0 418.5L320.5 418.0L321.0 417.5L321.5 417.0L322.0 416.5L322.5 416.0L323.0 415.5L323.6 415.0L324.0 414.6L324.7 414.0L325.0 413.7L325.8 413.0L326.0 412.8L327.0 412.0L327.1 412.0ZM343.0 425.5L343.4 426.0L343.0 426.0L343.0 426.0ZM460.0 435.9L461.0 435.8L462.0 435.7L463.0 435.7L464.0 435.6L465.0 435.6L466.0 435.5L467.0 435.5L468.0 435.5L469.0 435.5L470.0 435.5L471.0 435.5L472.0 435.6L473.0 435.6L474.0 435.7L475.0 435.8L476.0 435.9L477.0 436.0L477.1 436.0L478.0 436.1L479.0 436.3L480.0 436.4L481.0 436.6L482.0 436.7L483.0 436.9L483.7 437.0L484.0 437.1L485.0 437.3L486.0 437.5L487.0 437.7L488.0 437.9L488.5 438.0L489.0 438.1L490.0 438.4L491.0 438.6L492.0 438.9L492.4 439.0L493.0 439.2L494.0 439.5L495.0 439.8L495.9 440.0L496.0 440.0L497.0 440.3L498.0 440.6L499.0 440.9L499.2 441.0L500.0 441.3L501.0 441.7L501.8 442.0L502.0 442.1L503.0 442.6L503.9 443.0L504.0 443.0L505.0 443.6L505.6 444.0L506.0 444.3L506.9 445.0L507.0 445.1L507.8 446.0L508.0 446.3L508.4 447.0L508.7 448.0L508.0 448.0L507.0 448.1L506.0 448.2L505.0 448.2L504.0 448.2L503.0 448.3L502.0 448.3L501.0 448.3L500.7 448.0L500.0 447.3L499.0 447.3L498.0 447.4L497.0 447.4L496.0 447.4L495.0 447.4L494.0 447.4L493.0 447.4L492.0 447.4L491.0 447.4L490.0 447.4L489.0 447.5L488.0 447.5L487.5 447.0L487.0 446.5L486.0 446.5L485.0 446.5L484.0 446.5L483.0 446.5L482.0 446.5L481.0 446.5L480.0 446.5L479.0 446.5L478.5 446.0L478.0 445.5L477.0 445.5L476.0 445.5L475.0 445.5L474.0 445.5L473.0 445.5L472.0 445.5L471.0 445.5L470.0 445.5L469.0 445.5L468.0 445.5L467.5 445.0L467.0 444.5L466.0 444.5L465.0 444.5L464.0 444.5L463.0 444.4L462.0 444.4L461.0 444.4L460.0 444.4L459.0 444.4L458.0 444.4L457.0 444.4L456.6 444.0L456.0 443.4L455.0 443.4L454.0 443.3L453.0 443.3L452.0 443.3L451.0 443.3L450.0 443.2L449.8 443.0L449.0 442.2L448.0 442.1L447.0 442.1L446.0 442.0L446.0 442.0L446.0 441.2L446.1 441.0L446.7 440.0L447.0 439.7L447.9 439.0L448.0 439.0L449.0 438.5L450.0 438.1L450.4 438.0L451.0 437.9L452.0 437.7L453.0 437.3L454.0 437.0L454.1 437.0L455.0 436.8L456.0 436.6L457.0 436.4L458.0 436.2L459.0 436.1L459.4 436.0Z"/>
<path fill="#006bff" fill-rule="evenodd" d="M277.0 279.5L278.0 279.0L279.0 279.5L279.9 280.0L280.0 280.1L281.0 280.8L281.2 281.0L282.0 281.7L282.3 282.0L283.0 282.7L283.2 283.0L284.0 283.9L284.1 284.0L284.9 285.0L285.0 285.2L285.6 286.0L286.0 286.6L286.2 287.0L286.8 288.0L287.0 288.3L287.4 289.0L288.0 290.0L288.0 290.1L288.5 291.0L288.7 292.0L289.0 293.0L289.0 293.0L289.3 294.0L289.5 295.0L289.8 296.0L290.0 297.0L290.0 297.0L290.2 298.0L290.5 299.0L290.7 300.0L290.7 301.0L290.7 302.0L290.7 303.0L290.7 304.0L290.7 305.0L290.7 306.0L290.7 307.0L290.7 308.0L290.7 309.0L290.7 310.0L290.5 311.0L290.4 312.0L290.2 313.0L290.0 314.0L290.0 314.2L289.9 315.0L289.7 316.0L289.5 317.0L289.4 318.0L289.2 319.0L289.0 319.9L289.0 320.0L288.8 321.0L288.6 322.0L288.4 323.0L288.2 324.0L288.0 324.3L287.7 325.0L287.2 326.0L287.0 326.4L286.7 327.0L286.1 328.0L286.0 328.3L285.6 329.0L285.0 329.9L284.9 330.0L284.2 331.0L284.0 331.3L283.5 332.0L283.0 332.6L282.7 333.0L282.0 333.8L281.8 334.0L281.0 334.8L280.8 335.0L280.0 335.8L279.8 336.0L279.0 336.7L278.6 337.0L278.0 337.4L277.4 337.0L277.0 336.7L276.2 336.0L276.0 335.8L275.2 335.0L275.0 334.8L274.2 334.0L274.0 333.8L273.3 333.0L273.0 332.6L272.5 332.0L272.0 331.3L271.8 331.0L271.1 330.0L271.0 329.9L270.4 329.0L270.0 328.3L269.9 328.0L269.3 327.0L269.0 326.4L268.8 326.0L268.3 325.0L268.0 324.3L267.8 324.0L267.6 323.0L267.4 322.0L267.3 321.0L267.1 320.0L267.0 319.7L266.9 319.0L266.7 318.0L266.5 317.0L266.3 316.0L266.1 315.0L266.0 314.2L266.0 314.0L265.8 313.0L265.6 312.0L265.5 311.0L265.3 310.0L265.3 309.0L265.3 308.0L265.3 307.0L265.3 306.0L265.3 305.0L265.3 304.0L265.3 303.0L265.3 302.0L265.3 301.0L265.3 300.0L265.5 299.0L265.8 298.0L266.0 297.0L266.0 297.0L266.2 296.0L266.5 295.0L266.7 294.0L267.0 293.0L267.0 293.0L267.3 292.0L267.5 291.0L268.0 290.1L268.0 290.0L268.6 289.0L269.0 288.3L269.2 288.0L269.8 287.0L270.0 286.6L270.4 286.0L271.0 285.2L271.1 285.0L271.9 284.0L272.0 283.9L272.8 283.0L273.0 282.7L273.7 282.0L274.0 281.7L274.8 281.0L275.0 280.8L276.0 280.1L276.1 280.0ZM476.0 288.4L477.0 288.4L478.0 289.0L478.0 289.0L479.0 289.7L479.5 290.0L480.0 290.3L481.0 291.0L481.0 291.0L482.0 291.6L482.6 292.0L483.0 292.3L484.0 292.9L484.1 293.0L485.0 293.6L485.6 294.0L486.0 294.2L487.0 294.9L487.2 295.0L488.0 295.8L488.2 296.0L488.6 297.0L489.0 297.8L489.1 298.0L489.5 299.0L490.0 300.0L490.0 300.1L490.4 301.0L490.8 302.0L491.0 302.4L491.3 303.0L491.7 304.0L491.7 305.0L491.7 306.0L491.7 307.0L491.7 308.0L491.7 309.0L491.7 310.0L491.7 311.0L491.7 312.0L491.7 313.0L491.7 314.0L491.7 315.0L491.7 316.0L491.7 317.0L491.7 318.0L491.7 319.0L491.7 320.0L491.7 321.0L491.7 322.0L491.7 323.0L491.7 324.0L491.7 325.0L491.7 326.0L491.7 327.0L491.4 328.0L491.0 328.9L491.0 329.0L490.5 330.0L490.0 330.9L490.0 331.0L489.4 332.0L489.0 332.8L488.9 333.0L488.4 334.0L488.0 334.6L487.8 335.0L487.2 336.0L487.0 336.3L486.6 337.0L486.0 337.9L486.0 338.0L485.3 339.0L485.0 339.4L484.5 340.0L484.0 340.7L483.8 341.0L483.0 341.9L482.9 342.0L482.0 343.0L482.0 343.0L481.0 344.0L481.0 344.0L480.0 344.9L479.9 345.0L479.0 345.8L478.8 346.0L478.0 346.7L477.6 347.0L477.0 347.5L476.0 347.5L475.4 347.0L475.0 346.6L474.2 346.0L474.0 345.8L473.1 345.0L473.0 344.9L472.0 344.0L472.0 344.0L471.1 343.0L471.0 342.9L470.2 342.0L470.0 341.8L469.3 341.0L469.0 340.6L468.6 340.0L468.0 339.2L467.9 339.0L467.2 338.0L467.0 337.7L466.6 337.0L466.0 336.1L466.0 336.0L465.4 335.0L465.0 334.3L464.8 334.0L464.3 333.0L464.0 332.4L463.8 332.0L463.3 331.0L463.0 330.4L462.8 330.0L462.3 329.0L462.0 328.4L461.8 328.0L461.5 327.0L461.5 326.0L461.5 325.0L461.5 324.0L461.5 323.0L461.5 322.0L461.5 321.0L461.5 320.0L461.5 319.0L461.5 318.0L461.5 317.0L461.5 316.0L461.5 315.0L461.5 314.0L461.5 313.0L461.5 312.0L461.5 311.0L461.5 310.0L461.5 309.0L461.5 308.0L461.5 307.0L461.5 306.0L461.5 305.0L461.5 304.0L461.7 303.0L462.0 302.4L462.2 302.0L462.6 301.0L463.0 300.1L463.0 300.0L463.5 299.0L463.9 298.0L464.0 297.8L464.4 297.0L464.8 296.0L465.0 295.8L465.8 295.0L466.0 294.9L467.0 294.2L467.4 294.0L468.0 293.6L468.9 293.0L469.0 292.9L470.0 292.3L470.4 292.0L471.0 291.6L472.0 291.0L472.0 291.0L473.0 290.3L473.5 290.0L474.0 289.7L475.0 289.0L475.0 289.0ZM327.0 304.6L328.0 304.6L328.3 305.0L328.9 306.0L329.0 306.2L329.4 307.0L329.9 308.0L330.0 308.1L330.4 309.0L330.8 310.0L331.0 310.4L331.2 311.0L331.0 311.7L330.9 312.0L330.5 313.0L330.1 314.0L330.0 314.4L329.7 315.0L329.3 316.0L329.0 316.6L328.8 317.0L328.3 318.0L328.0 318.5L327.0 318.5L326.8 318.0L326.2 317.0L326.0 316.5L325.8 316.0L325.4 315.0L325.0 314.1L325.0 314.0L324.6 313.0L324.3 312.0L324.0 311.2L323.9 311.0L324.0 310.8L324.3 310.0L324.7 309.0L325.0 308.4L325.2 308.0L325.6 307.0L326.0 306.3L326.2 306.0L326.8 305.0ZM273.0 402.9L274.0 402.7L275.0 402.7L276.0 402.7L276.7 403.0L277.0 403.1L278.0 403.9L278.1 404.0L279.0 404.7L279.3 405.0L280.0 405.6L280.5 406.0L281.0 406.5L281.6 407.0L282.0 407.4L282.7 408.0L283.0 408.3L283.7 409.0L284.0 409.3L284.7 410.0L285.0 410.3L285.8 411.0L286.0 411.2L286.8 412.0L287.0 412.3L287.7 413.0L288.0 413.3L288.7 414.0L289.0 414.3L289.6 415.0L290.0 415.4L290.6 416.0L291.0 416.5L291.5 417.0L292.0 417.6L292.4 418.0L293.0 418.7L293.2 419.0L294.0 419.9L294.1 420.0L294.9 421.0L295.0 421.1L295.7 422.0L296.0 422.4L296.4 423.0L297.0 423.8L297.2 424.0L297.8 425.0L297.0 425.1L296.0 425.2L295.8 425.0L295.0 424.2L294.8 424.0L294.0 423.2L293.0 423.3L292.7 423.0L292.0 422.3L291.7 422.0L291.0 421.3L290.0 421.4L289.6 421.0L289.0 420.4L288.0 420.4L287.6 420.0L287.0 419.4L286.6 419.0L286.0 418.5L285.0 418.5L284.5 418.0L284.0 417.5L283.0 417.5L282.5 417.0L282.0 416.5L281.5 416.0L281.0 415.5L280.0 415.6L279.4 415.0L279.0 414.6L278.0 414.6L277.4 414.0L277.0 413.6L276.4 413.0L276.0 412.6L275.0 412.6L274.0 412.6L273.4 412.0L273.0 411.5L272.0 411.5L271.0 411.5L270.5 411.0L270.0 410.4L269.0 410.4L268.0 410.4L267.6 410.0L267.0 409.3L266.0 409.3L265.7 409.0L265.0 408.2L264.0 408.2L263.8 408.0L263.0 407.1L262.0 407.1L261.9 407.0L262.0 406.1L262.2 406.0L263.0 405.5L264.0 405.0L264.0 405.0L265.0 404.6L266.0 404.3L267.0 404.0L267.1 404.0L268.0 403.8L269.0 403.6L270.0 403.4L271.0 403.2L272.0 403.0L272.0 403.0ZM327.0 412.9L328.0 412.4L328.8 413.0L329.0 413.1L330.0 414.0L330.0 414.0L331.0 415.0L331.0 415.0L332.0 415.9L332.1 416.0L333.0 417.0L333.0 417.0L334.0 418.0L334.0 418.0L335.0 419.0L335.1 419.0L336.0 419.8L336.3 420.0L337.0 420.7L337.4 421.0L338.0 421.6L338.5 422.0L339.0 422.5L339.5 423.0L340.0 423.5L340.5 424.0L340.0 424.0L339.0 424.1L338.9 424.0L338.0 423.1L337.0 423.2L336.8 423.0L336.0 422.2L335.0 422.2L334.8 422.0L334.0 421.2L333.0 421.3L332.7 421.0L332.0 420.3L331.0 420.3L330.0 420.4L329.6 420.0L329.0 419.4L328.0 419.4L327.0 419.4L326.0 419.4L325.3 420.0L325.0 420.3L324.0 420.3L323.0 420.3L322.2 421.0L322.0 421.2L321.0 421.2L320.2 422.0L320.0 422.2L319.0 422.1L318.0 422.0L317.9 422.0L318.0 421.8L318.7 421.0L319.0 420.6L319.5 420.0L320.0 419.5L320.5 419.0L321.0 418.4L321.4 418.0L322.0 417.4L322.4 417.0L323.0 416.4L323.4 416.0L324.0 415.5L324.5 415.0L325.0 414.6L325.7 414.0L326.0 413.7L326.9 413.0ZM341.0 424.6L341.4 425.0L341.0 425.0L341.0 425.0ZM298.0 425.3L298.4 426.0L298.0 426.0L298.0 426.0ZM465.0 436.0L466.0 435.9L467.0 435.9L468.0 435.9L469.0 435.9L470.0 435.9L471.0 435.9L472.0 436.0L472.8 436.0L473.0 436.0L474.0 436.1L475.0 436.2L476.0 436.3L477.0 436.4L478.0 436.5L479.0 436.7L480.0 436.8L481.0 436.9L481.4 437.0L482.0 437.1L483.0 437.3L484.0 437.5L485.0 437.7L486.0 437.9L486.6 438.0L487.0 438.1L488.0 438.3L489.0 438.6L490.0 438.8L490.7 439.0L491.0 439.1L492.0 439.4L493.0 439.7L494.0 440.0L494.1 440.0L495.0 440.3L496.0 440.6L497.0 440.9L497.4 441.0L498.0 441.2L499.0 441.6L500.0 441.9L500.2 442.0L501.0 442.4L502.0 442.8L502.4 443.0L503.0 443.4L504.0 443.9L504.1 444.0L505.0 444.7L505.4 445.0L506.0 445.6L506.4 446.0L507.0 447.0L507.0 447.1L507.2 448.0L507.0 448.0L506.0 448.1L505.0 448.1L504.0 448.2L503.0 448.2L502.0 448.2L501.0 448.2L500.8 448.0L500.0 447.3L499.0 447.3L498.0 447.3L497.0 447.3L496.0 447.3L495.0 447.3L494.0 447.4L493.0 447.4L492.0 447.4L491.0 447.4L490.0 447.4L489.0 447.4L488.0 447.4L487.6 447.0L487.0 446.4L486.0 446.4L485.0 446.4L484.0 446.4L483.0 446.4L482.0 446.4L481.0 446.4L480.0 446.4L479.0 446.4L478.6 446.0L478.0 445.4L477.0 445.4L476.0 445.4L475.0 445.4L474.0 445.4L473.0 445.4L472.0 445.4L471.0 445.4L470.0 445.4L469.0 445.4L468.0 445.4L467.6 445.0L467.0 444.4L466.0 444.4L465.0 444.4L464.0 444.4L463.0 444.4L462.0 444.4L461.0 444.4L460.0 444.4L459.0 444.4L458.0 444.3L457.0 444.3L456.7 444.0L456.0 443.3L455.0 443.3L454.0 443.3L453.0 443.2L452.0 443.2L451.0 443.2L450.0 443.1L449.9 443.0L449.0 442.1L448.0 442.0L447.2 442.0L447.5 441.0L448.0 440.4L448.4 440.0L449.0 439.6L450.0 439.0L450.0 439.0L451.0 438.7L452.0 438.4L452.9 438.0L453.0 438.0L454.0 437.7L455.0 437.4L456.0 437.1L456.6 437.0L457.0 436.9L458.0 436.7L459.0 436.6L460.0 436.4L461.0 436.3L462.0 436.2L463.0 436.1L464.0 436.0L464.5 436.0Z"/>
<path fill="#0080ff" fill-rule="evenodd" d="M278.0 280.7L278.7 281.0L279.0 281.2L280.0 281.9L280.2 282.0L281.0 282.7L281.3 283.0L282.0 283.6L282.3 284.0L283.0 284.7L283.2 285.0L284.0 286.0L284.0 286.0L284.7 287.0L285.0 287.4L285.4 288.0L286.0 288.9L286.1 289.0L286.6 290.0L287.0 290.6L287.2 291.0L287.5 292.0L287.8 293.0L288.0 293.8L288.0 294.0L288.3 295.0L288.6 296.0L288.8 297.0L289.0 297.6L289.1 298.0L289.3 299.0L289.6 300.0L289.6 301.0L289.6 302.0L289.6 303.0L289.6 304.0L289.6 305.0L289.6 306.0L289.6 307.0L289.6 308.0L289.6 309.0L289.6 310.0L289.4 311.0L289.2 312.0L289.1 313.0L289.0 313.3L288.9 314.0L288.7 315.0L288.5 316.0L288.3 317.0L288.1 318.0L288.0 318.5L287.9 319.0L287.7 320.0L287.5 321.0L287.3 322.0L287.1 323.0L287.0 323.3L286.9 324.0L286.3 325.0L286.0 325.7L285.8 326.0L285.2 327.0L285.0 327.4L284.6 328.0L284.0 329.0L284.0 329.0L283.3 330.0L283.0 330.3L282.5 331.0L282.0 331.6L281.6 332.0L281.0 332.7L280.6 333.0L280.0 333.6L279.5 334.0L279.0 334.4L278.0 335.0L277.0 334.4L276.5 334.0L276.0 333.6L275.4 333.0L275.0 332.7L274.4 332.0L274.0 331.6L273.5 331.0L273.0 330.3L272.7 330.0L272.0 329.0L272.0 329.0L271.4 328.0L271.0 327.4L270.8 327.0L270.2 326.0L270.0 325.7L269.7 325.0L269.1 324.0L269.0 323.3L268.9 323.0L268.7 322.0L268.5 321.0L268.3 320.0L268.1 319.0L268.0 318.5L267.9 318.0L267.7 317.0L267.5 316.0L267.3 315.0L267.1 314.0L267.0 313.3L266.9 313.0L266.8 312.0L266.6 311.0L266.4 310.0L266.4 309.0L266.4 308.0L266.4 307.0L266.4 306.0L266.4 305.0L266.4 304.0L266.4 303.0L266.4 302.0L266.4 301.0L266.4 300.0L266.7 299.0L266.9 298.0L267.0 297.6L267.2 297.0L267.4 296.0L267.7 295.0L268.0 294.0L268.0 293.8L268.2 293.0L268.5 292.0L268.8 291.0L269.0 290.6L269.4 290.0L269.9 289.0L270.0 288.9L270.6 288.0L271.0 287.4L271.3 287.0L272.0 286.0L272.0 286.0L272.8 285.0L273.0 284.7L273.7 284.0L274.0 283.6L274.7 283.0L275.0 282.7L275.8 282.0L276.0 281.9L277.0 281.2L277.3 281.0ZM475.0 290.7L476.0 290.1L477.0 290.1L478.0 290.7L478.4 291.0L479.0 291.4L480.0 292.0L480.0 292.0L481.0 292.7L481.5 293.0L482.0 293.3L483.0 294.0L483.0 294.0L484.0 294.6L484.6 295.0L485.0 295.3L486.0 295.9L486.1 296.0L486.7 297.0L487.0 297.6L487.2 298.0L487.6 299.0L488.0 299.9L488.0 300.0L488.5 301.0L488.9 302.0L489.0 302.2L489.4 303.0L489.8 304.0L489.8 305.0L489.8 306.0L489.8 307.0L489.8 308.0L489.8 309.0L489.8 310.0L489.8 311.0L489.8 312.0L489.8 313.0L489.8 314.0L489.8 315.0L489.8 316.0L489.8 317.0L489.8 318.0L489.8 319.0L489.8 320.0L489.8 321.0L489.8 322.0L489.8 323.0L489.8 324.0L489.8 325.0L489.8 326.0L489.8 327.0L489.3 328.0L489.0 328.5L488.8 329.0L488.3 330.0L488.0 330.5L487.8 331.0L487.2 332.0L487.0 332.4L486.7 333.0L486.1 334.0L486.0 334.2L485.5 335.0L485.0 335.8L484.9 336.0L484.2 337.0L484.0 337.3L483.5 338.0L483.0 338.6L482.7 339.0L482.0 339.8L481.8 340.0L481.0 340.9L480.9 341.0L480.0 341.9L479.9 342.0L479.0 342.8L478.7 343.0L478.0 343.6L477.5 344.0L477.0 344.4L476.0 344.4L475.5 344.0L475.0 343.6L474.3 343.0L474.0 342.8L473.2 342.0L473.0 341.8L472.1 341.0L472.0 340.9L471.2 340.0L471.0 339.7L470.4 339.0L470.0 338.5L469.6 338.0L469.0 337.1L468.9 337.0L468.2 336.0L468.0 335.6L467.6 335.0L467.0 334.0L467.0 333.9L466.5 333.0L466.0 332.1L466.0 332.0L465.4 331.0L465.0 330.1L464.9 330.0L464.4 329.0L464.0 328.1L463.9 328.0L463.5 327.0L463.4 326.0L463.4 325.0L463.4 324.0L463.4 323.0L463.4 322.0L463.4 321.0L463.4 320.0L463.4 319.0L463.4 318.0L463.4 317.0L463.4 316.0L463.4 315.0L463.4 314.0L463.4 313.0L463.4 312.0L463.4 311.0L463.4 310.0L463.4 309.0L463.4 308.0L463.4 307.0L463.4 306.0L463.4 305.0L463.4 304.0L463.6 303.0L464.0 302.2L464.1 302.0L464.5 301.0L465.0 300.0L465.0 299.9L465.4 299.0L465.8 298.0L466.0 297.6L466.3 297.0L466.9 296.0L467.0 295.9L468.0 295.3L468.4 295.0L469.0 294.6L470.0 294.0L470.0 294.0L471.0 293.3L471.5 293.0L472.0 292.7L473.0 292.0L473.0 292.0L474.0 291.4L474.6 291.0ZM327.0 309.6L328.0 309.6L328.2 310.0L328.8 311.0L328.3 312.0L328.0 312.6L327.0 312.6L326.7 312.0L326.3 311.0L326.8 310.0ZM271.0 403.9L272.0 403.7L273.0 403.5L274.0 403.4L275.0 403.3L276.0 403.3L277.0 403.7L277.4 404.0L278.0 404.5L278.6 405.0L279.0 405.3L279.8 406.0L280.0 406.2L280.9 407.0L281.0 407.1L282.0 408.0L282.0 408.0L283.0 409.0L283.0 409.0L284.0 409.9L284.1 410.0L285.0 410.9L285.1 411.0L286.0 411.9L286.1 412.0L287.0 412.9L287.1 413.0L288.0 414.0L288.0 414.0L289.0 415.0L289.0 415.0L289.9 416.0L290.0 416.1L290.8 417.0L291.0 417.2L291.7 418.0L292.0 418.4L292.6 419.0L293.0 419.5L293.4 420.0L294.0 420.7L294.2 421.0L295.0 422.0L295.0 422.0L295.7 423.0L296.0 423.4L296.4 424.0L297.0 424.9L297.1 425.0L297.0 425.0L296.0 425.1L295.9 425.0L295.0 424.1L294.9 424.0L294.0 423.2L293.0 423.2L292.8 423.0L292.0 422.3L291.7 422.0L291.0 421.3L290.0 421.3L289.7 421.0L289.0 420.3L288.0 420.4L287.6 420.0L287.0 419.4L286.6 419.0L286.0 418.4L285.0 418.4L284.6 418.0L284.0 417.5L283.0 417.5L282.5 417.0L282.0 416.5L281.5 416.0L281.0 415.5L280.0 415.5L279.5 415.0L279.0 414.5L278.0 414.6L277.4 414.0L277.0 413.6L276.4 413.0L276.0 412.5L275.0 412.5L274.0 412.5L273.5 412.0L273.0 411.5L272.0 411.5L271.0 411.4L270.6 411.0L270.0 410.4L269.0 410.4L268.0 410.3L267.7 410.0L267.0 409.3L266.0 409.3L265.7 409.0L265.0 408.2L264.0 408.1L263.9 408.0L263.0 407.0L262.4 407.0L263.0 406.5L263.8 406.0L264.0 405.9L265.0 405.4L266.0 405.1L266.2 405.0L267.0 404.8L268.0 404.5L269.0 404.3L270.0 404.1L270.4 404.0ZM327.0 413.7L328.0 413.2L329.0 414.0L329.0 414.0L330.0 414.9L330.1 415.0L331.0 415.8L331.2 416.0L332.0 416.8L332.2 417.0L333.0 417.9L333.1 418.0L334.0 419.0L334.0 419.0L335.0 419.9L335.2 420.0L336.0 420.7L336.3 421.0L337.0 421.7L337.4 422.0L338.0 422.6L338.4 423.0L338.0 423.0L337.0 423.1L336.9 423.0L336.0 422.1L335.0 422.1L334.9 422.0L334.0 421.1L333.0 421.2L332.8 421.0L332.0 420.2L331.0 420.3L330.0 420.3L329.7 420.0L329.0 419.3L328.0 419.4L327.0 419.3L326.0 419.3L325.3 420.0L325.0 420.3L324.0 420.2L323.0 420.2L322.2 421.0L322.0 421.2L321.0 421.1L320.1 422.0L320.0 422.1L319.0 422.0L318.8 422.0L319.0 421.8L319.6 421.0L320.0 420.6L320.5 420.0L321.0 419.4L321.4 419.0L322.0 418.4L322.3 418.0L323.0 417.3L323.4 417.0L324.0 416.4L324.4 416.0L325.0 415.5L325.5 415.0L326.0 414.6L326.7 414.0ZM339.0 423.7L339.3 424.0L339.0 424.0L339.0 424.0ZM460.0 437.0L461.0 436.8L462.0 436.7L463.0 436.6L464.0 436.5L465.0 436.5L466.0 436.4L467.0 436.4L468.0 436.4L469.0 436.4L470.0 436.4L471.0 436.4L472.0 436.4L473.0 436.5L474.0 436.5L475.0 436.6L476.0 436.7L477.0 436.8L478.0 436.9L478.4 437.0L479.0 437.1L480.0 437.2L481.0 437.4L482.0 437.6L483.0 437.7L484.0 437.9L484.4 438.0L485.0 438.1L486.0 438.4L487.0 438.6L488.0 438.8L488.8 439.0L489.0 439.1L490.0 439.3L491.0 439.6L492.0 439.9L492.3 440.0L493.0 440.2L494.0 440.6L495.0 440.9L495.4 441.0L496.0 441.2L497.0 441.5L498.0 441.9L498.4 442.0L499.0 442.3L500.0 442.7L500.7 443.0L501.0 443.2L502.0 443.7L502.5 444.0L503.0 444.4L503.8 445.0L504.0 445.2L504.8 446.0L505.0 446.3L505.4 447.0L505.6 448.0L505.0 448.0L504.0 448.1L503.0 448.1L502.0 448.1L501.0 448.2L500.8 448.0L500.0 447.2L499.0 447.2L498.0 447.2L497.0 447.3L496.0 447.3L495.0 447.3L494.0 447.3L493.0 447.3L492.0 447.3L491.0 447.3L490.0 447.3L489.0 447.3L488.0 447.3L487.7 447.0L487.0 446.4L486.0 446.4L485.0 446.4L484.0 446.4L483.0 446.4L482.0 446.4L481.0 446.4L480.0 446.4L479.0 446.4L478.6 446.0L478.0 445.4L477.0 445.4L476.0 445.4L475.0 445.4L474.0 445.4L473.0 445.4L472.0 445.4L471.0 445.4L470.0 445.4L469.0 445.4L468.0 445.4L467.6 445.0L467.0 444.4L466.0 444.4L465.0 444.4L464.0 444.3L463.0 444.3L462.0 444.3L461.0 444.3L460.0 444.3L459.0 444.3L458.0 444.3L457.0 444.3L456.7 444.0L456.0 443.2L455.0 443.2L454.0 443.2L453.0 443.2L452.0 443.1L451.0 443.1L450.0 443.1L449.9 443.0L449.0 442.0L448.7 442.0L449.0 441.4L449.2 441.0L450.0 440.3L450.4 440.0L451.0 439.7L452.0 439.3L452.5 439.0L453.0 438.8L454.0 438.4L455.0 438.1L455.2 438.0L456.0 437.8L457.0 437.5L458.0 437.3L459.0 437.1L459.7 437.0Z"/>
<path fill="#0094ff" fill-rule="evenodd" d="M277.0 282.9L278.0 282.3L279.0 282.9L279.2 283.0L280.0 283.6L280.4 284.0L281.0 284.6L281.4 285.0L282.0 285.6L282.4 286.0L283.0 286.8L283.2 287.0L283.9 288.0L284.0 288.1L284.6 289.0L285.0 289.5L285.3 290.0L285.9 291.0L286.0 291.3L286.2 292.0L286.5 293.0L286.8 294.0L287.0 294.6L287.1 295.0L287.4 296.0L287.7 297.0L287.9 298.0L288.0 298.3L288.2 299.0L288.5 300.0L288.5 301.0L288.5 302.0L288.5 303.0L288.5 304.0L288.5 305.0L288.5 306.0L288.5 307.0L288.5 308.0L288.5 309.0L288.5 310.0L288.3 311.0L288.1 312.0L288.0 312.4L287.9 313.0L287.7 314.0L287.5 315.0L287.3 316.0L287.1 317.0L287.0 317.4L286.9 318.0L286.7 319.0L286.4 320.0L286.2 321.0L286.0 321.9L286.0 322.0L285.8 323.0L285.5 324.0L285.0 324.9L285.0 325.0L284.4 326.0L284.0 326.6L283.7 327.0L283.0 328.0L283.0 328.1L282.3 329.0L282.0 329.4L281.5 330.0L281.0 330.5L280.5 331.0L280.0 331.5L279.5 332.0L279.0 332.4L278.1 333.0L278.0 333.0L277.9 333.0L277.0 332.4L276.5 332.0L276.0 331.5L275.5 331.0L275.0 330.5L274.5 330.0L274.0 329.4L273.7 329.0L273.0 328.1L273.0 328.0L272.3 327.0L272.0 326.6L271.6 326.0L271.0 325.0L271.0 324.9L270.5 324.0L270.2 323.0L270.0 322.0L270.0 321.9L269.8 321.0L269.6 320.0L269.3 319.0L269.1 318.0L269.0 317.4L268.9 317.0L268.7 316.0L268.5 315.0L268.3 314.0L268.1 313.0L268.0 312.4L267.9 312.0L267.7 311.0L267.5 310.0L267.5 309.0L267.5 308.0L267.5 307.0L267.5 306.0L267.5 305.0L267.5 304.0L267.5 303.0L267.5 302.0L267.5 301.0L267.5 300.0L267.8 299.0L268.0 298.3L268.1 298.0L268.3 297.0L268.6 296.0L268.9 295.0L269.0 294.6L269.2 294.0L269.5 293.0L269.8 292.0L270.0 291.3L270.1 291.0L270.7 290.0L271.0 289.5L271.4 289.0L272.0 288.1L272.1 288.0L272.8 287.0L273.0 286.8L273.6 286.0L274.0 285.6L274.6 285.0L275.0 284.6L275.6 284.0L276.0 283.6L276.8 283.0ZM476.0 291.8L477.0 291.8L477.4 292.0L478.0 292.4L478.9 293.0L479.0 293.1L480.0 293.7L480.4 294.0L481.0 294.4L482.0 295.0L482.0 295.0L483.0 295.7L483.5 296.0L484.0 296.3L484.8 297.0L485.0 297.4L485.3 298.0L485.7 299.0L486.0 299.7L486.1 300.0L486.6 301.0L487.0 302.0L487.0 302.0L487.5 303.0L487.9 304.0L488.0 305.0L488.0 306.0L488.0 307.0L488.0 308.0L488.0 309.0L488.0 310.0L488.0 311.0L488.0 312.0L488.0 313.0L488.0 314.0L488.0 315.0L488.0 316.0L488.0 317.0L488.0 318.0L488.0 319.0L488.0 320.0L488.0 321.0L488.0 322.0L488.0 323.0L488.0 324.0L488.0 325.0L488.0 326.0L487.6 327.0L487.1 328.0L487.0 328.2L486.6 329.0L486.1 330.0L486.0 330.2L485.5 331.0L485.0 332.0L485.0 332.0L484.4 333.0L484.0 333.7L483.8 334.0L483.1 335.0L483.0 335.2L482.4 336.0L482.0 336.5L481.6 337.0L481.0 337.7L480.7 338.0L480.0 338.8L479.8 339.0L479.0 339.7L478.7 340.0L478.0 340.6L477.5 341.0L477.0 341.4L476.0 341.4L475.5 341.0L475.0 340.6L474.3 340.0L474.0 339.7L473.3 339.0L473.0 338.7L472.3 338.0L472.0 337.7L471.4 337.0L471.0 336.5L470.7 336.0L470.0 335.1L470.0 335.0L469.3 334.0L469.0 333.5L468.7 333.0L468.1 332.0L468.0 331.7L467.6 331.0L467.1 330.0L467.0 329.8L466.6 329.0L466.1 328.0L466.0 327.8L465.6 327.0L465.2 326.0L465.2 325.0L465.2 324.0L465.2 323.0L465.2 322.0L465.2 321.0L465.2 320.0L465.2 319.0L465.2 318.0L465.2 317.0L465.2 316.0L465.2 315.0L465.2 314.0L465.2 313.0L465.2 312.0L465.2 311.0L465.2 310.0L465.2 309.0L465.2 308.0L465.2 307.0L465.2 306.0L465.2 305.0L465.2 304.0L465.5 303.0L466.0 302.0L466.0 302.0L466.4 301.0L466.9 300.0L467.0 299.7L467.3 299.0L467.7 298.0L468.0 297.4L468.2 297.0L469.0 296.3L469.5 296.0L470.0 295.7L471.0 295.0L471.0 295.0L472.0 294.4L472.6 294.0L473.0 293.7L474.0 293.1L474.1 293.0L475.0 292.4L475.6 292.0ZM274.0 404.0L275.0 403.9L276.0 403.9L276.1 404.0L277.0 404.3L277.9 405.0L278.0 405.1L279.0 405.9L279.1 406.0L280.0 406.8L280.2 407.0L281.0 407.7L281.3 408.0L282.0 408.7L282.4 409.0L283.0 409.6L283.4 410.0L284.0 410.6L284.4 411.0L285.0 411.6L285.4 412.0L286.0 412.6L286.4 413.0L287.0 413.6L287.4 414.0L288.0 414.7L288.3 415.0L289.0 415.7L289.2 416.0L290.0 416.8L290.1 417.0L291.0 418.0L291.0 418.0L291.9 419.0L292.0 419.1L292.7 420.0L293.0 420.4L293.5 421.0L294.0 421.6L294.3 422.0L295.0 423.0L294.0 423.1L293.0 423.2L292.8 423.0L292.0 422.2L291.8 422.0L291.0 421.2L290.0 421.3L289.7 421.0L289.0 420.3L288.0 420.3L287.7 420.0L287.0 419.3L286.7 419.0L286.0 418.4L285.0 418.4L284.6 418.0L284.0 417.4L283.0 417.4L282.6 417.0L282.0 416.5L281.5 416.0L281.0 415.5L280.0 415.5L279.5 415.0L279.0 414.5L278.0 414.5L277.5 414.0L277.0 413.5L276.5 413.0L276.0 412.5L275.0 412.5L274.0 412.5L273.5 412.0L273.0 411.4L272.0 411.4L271.0 411.4L270.6 411.0L270.0 410.3L269.0 410.3L268.0 410.3L267.7 410.0L267.0 409.2L266.0 409.2L265.8 409.0L265.0 408.1L264.0 408.1L263.9 408.0L263.8 407.0L264.0 406.9L265.0 406.3L265.7 406.0L266.0 405.9L267.0 405.5L268.0 405.3L269.0 405.0L269.1 405.0L270.0 404.8L271.0 404.5L272.0 404.3L273.0 404.1L273.9 404.0ZM327.0 414.6L328.0 414.0L329.0 414.8L329.2 415.0L330.0 415.8L330.3 416.0L331.0 416.7L331.3 417.0L332.0 417.7L332.2 418.0L333.0 418.8L333.2 419.0L334.0 420.0L334.1 420.0L335.0 420.9L335.2 421.0L336.0 421.8L336.2 422.0L336.0 422.0L335.0 422.1L334.9 422.0L334.0 421.1L333.0 421.1L332.9 421.0L332.0 420.2L331.0 420.2L330.0 420.3L329.7 420.0L329.0 419.3L328.0 419.3L327.0 419.3L326.0 419.2L325.2 420.0L325.0 420.2L324.0 420.2L323.0 420.1L322.1 421.0L322.0 421.1L321.0 421.0L320.6 421.0L321.0 420.5L321.4 420.0L322.0 419.4L322.3 419.0L323.0 418.3L323.3 418.0L324.0 417.3L324.3 417.0L325.0 416.3L325.4 416.0L326.0 415.4L326.5 415.0ZM320.0 421.8L320.0 422.0L320.0 422.0L319.9 422.0ZM337.0 422.8L337.2 423.0L337.0 423.0L337.0 423.0ZM295.0 423.0L295.6 424.0L295.0 424.1L294.9 424.0ZM296.0 424.7L296.2 425.0L296.0 425.0L296.0 425.0ZM465.0 437.0L466.0 436.9L467.0 436.9L468.0 436.9L469.0 436.8L470.0 436.8L471.0 436.9L472.0 436.9L473.0 436.9L474.0 437.0L474.1 437.0L475.0 437.1L476.0 437.2L477.0 437.3L478.0 437.4L479.0 437.6L480.0 437.7L481.0 437.9L481.8 438.0L482.0 438.0L483.0 438.2L484.0 438.4L485.0 438.6L486.0 438.9L486.7 439.0L487.0 439.1L488.0 439.4L489.0 439.6L490.0 439.9L490.4 440.0L491.0 440.2L492.0 440.5L493.0 440.8L493.5 441.0L494.0 441.2L495.0 441.6L496.0 441.9L496.3 442.0L497.0 442.3L498.0 442.7L498.8 443.0L499.0 443.1L500.0 443.7L500.6 444.0L501.0 444.3L502.0 445.0L502.1 445.0L503.0 445.9L503.1 446.0L503.7 447.0L503.9 448.0L503.0 448.0L502.0 448.1L501.0 448.1L500.9 448.0L500.0 447.1L499.0 447.1L498.0 447.2L497.0 447.2L496.0 447.2L495.0 447.2L494.0 447.2L493.0 447.2L492.0 447.3L491.0 447.3L490.0 447.3L489.0 447.3L488.0 447.3L487.7 447.0L487.0 446.3L486.0 446.3L485.0 446.3L484.0 446.3L483.0 446.3L482.0 446.3L481.0 446.3L480.0 446.3L479.0 446.3L478.7 446.0L478.0 445.3L477.0 445.3L476.0 445.3L475.0 445.3L474.0 445.3L473.0 445.3L472.0 445.3L471.0 445.3L470.0 445.3L469.0 445.3L468.0 445.3L467.7 445.0L467.0 444.3L466.0 444.3L465.0 444.3L464.0 444.3L463.0 444.3L462.0 444.3L461.0 444.3L460.0 444.3L459.0 444.2L458.0 444.2L457.0 444.2L456.8 444.0L456.0 443.2L455.0 443.2L454.0 443.1L453.0 443.1L452.0 443.1L451.0 443.0L450.1 443.0L450.4 442.0L451.0 441.2L451.2 441.0L452.0 440.5L452.6 440.0L453.0 439.8L454.0 439.3L454.7 439.0L455.0 438.9L456.0 438.6L457.0 438.2L457.9 438.0L458.0 438.0L459.0 437.8L460.0 437.6L461.0 437.4L462.0 437.3L463.0 437.2L464.0 437.1L464.7 437.0Z"/>
<path fill="#00a8ff" fill-rule="evenodd" d="M277.0 284.6L278.0 284.0L279.0 284.6L279.4 285.0L280.0 285.5L280.6 286.0L281.0 286.4L281.5 287.0L282.0 287.5L282.4 288.0L283.0 288.8L283.2 289.0L283.9 290.0L284.0 290.1L284.6 291.0L284.9 292.0L285.0 292.3L285.2 293.0L285.5 294.0L285.9 295.0L286.0 295.5L286.2 296.0L286.4 297.0L286.7 298.0L287.0 298.9L287.0 299.0L287.3 300.0L287.3 301.0L287.3 302.0L287.3 303.0L287.3 304.0L287.3 305.0L287.3 306.0L287.3 307.0L287.3 308.0L287.3 309.0L287.3 310.0L287.1 311.0L287.0 311.5L286.9 312.0L286.7 313.0L286.5 314.0L286.3 315.0L286.0 316.0L286.0 316.2L285.8 317.0L285.6 318.0L285.4 319.0L285.1 320.0L285.0 320.5L284.9 321.0L284.6 322.0L284.4 323.0L284.1 324.0L284.0 324.2L283.5 325.0L283.0 325.8L282.8 326.0L282.1 327.0L282.0 327.2L281.3 328.0L281.0 328.4L280.4 329.0L280.0 329.5L279.4 330.0L279.0 330.4L278.1 331.0L278.0 331.1L277.9 331.0L277.0 330.4L276.6 330.0L276.0 329.5L275.6 329.0L275.0 328.4L274.7 328.0L274.0 327.2L273.9 327.0L273.2 326.0L273.0 325.8L272.5 325.0L272.0 324.2L271.9 324.0L271.6 323.0L271.4 322.0L271.1 321.0L271.0 320.5L270.9 320.0L270.6 319.0L270.4 318.0L270.2 317.0L270.0 316.2L270.0 316.0L269.7 315.0L269.5 314.0L269.3 313.0L269.1 312.0L269.0 311.5L268.9 311.0L268.7 310.0L268.7 309.0L268.7 308.0L268.7 307.0L268.7 306.0L268.7 305.0L268.7 304.0L268.7 303.0L268.7 302.0L268.7 301.0L268.7 300.0L269.0 299.0L269.0 298.9L269.3 298.0L269.6 297.0L269.8 296.0L270.0 295.5L270.1 295.0L270.5 294.0L270.8 293.0L271.0 292.3L271.1 292.0L271.4 291.0L272.0 290.1L272.1 290.0L272.8 289.0L273.0 288.8L273.6 288.0L274.0 287.5L274.5 287.0L275.0 286.4L275.4 286.0L276.0 285.5L276.6 285.0ZM476.0 293.5L477.0 293.5L477.8 294.0L478.0 294.1L479.0 294.8L479.4 295.0L480.0 295.4L480.9 296.0L481.0 296.1L482.0 296.7L482.4 297.0L483.0 297.5L483.4 298.0L483.8 299.0L484.0 299.5L484.2 300.0L484.7 301.0L485.0 301.8L485.1 302.0L485.5 303.0L486.0 304.0L486.0 304.1L486.1 305.0L486.1 306.0L486.1 307.0L486.1 308.0L486.1 309.0L486.1 310.0L486.1 311.0L486.1 312.0L486.1 313.0L486.1 314.0L486.1 315.0L486.1 316.0L486.1 317.0L486.1 318.0L486.1 319.0L486.1 320.0L486.1 321.0L486.1 322.0L486.1 323.0L486.1 324.0L486.1 325.0L486.0 325.6L485.9 326.0L485.4 327.0L485.0 327.8L484.9 328.0L484.4 329.0L484.0 329.8L483.9 330.0L483.3 331.0L483.0 331.5L482.7 332.0L482.1 333.0L482.0 333.1L481.4 334.0L481.0 334.5L480.6 335.0L480.0 335.6L479.6 336.0L479.0 336.6L478.6 337.0L478.0 337.5L477.4 338.0L477.0 338.4L476.0 338.4L475.6 338.0L475.0 337.5L474.4 337.0L474.0 336.6L473.4 336.0L473.0 335.6L472.5 335.0L472.0 334.4L471.7 334.0L471.0 333.0L471.0 333.0L470.4 332.0L470.0 331.4L469.8 331.0L469.3 330.0L469.0 329.5L468.7 329.0L468.2 328.0L468.0 327.5L467.7 327.0L467.3 326.0L467.0 325.0L467.0 324.0L467.0 323.0L467.0 322.0L467.0 321.0L467.0 320.0L467.0 319.0L467.0 318.0L467.0 317.0L467.0 316.0L467.0 315.0L467.0 314.0L467.0 313.0L467.0 312.0L467.0 311.0L467.0 310.0L467.0 309.0L467.0 308.0L467.0 307.0L467.0 306.0L467.0 305.0L467.0 304.0L467.5 303.0L467.9 302.0L468.0 301.8L468.3 301.0L468.8 300.0L469.0 299.5L469.2 299.0L469.6 298.0L470.0 297.5L470.6 297.0L471.0 296.7L472.0 296.1L472.1 296.0L473.0 295.4L473.6 295.0L474.0 294.8L475.0 294.1L475.2 294.0ZM272.0 405.0L273.0 404.8L274.0 404.6L275.0 404.5L276.0 404.6L277.0 404.9L277.1 405.0L278.0 405.7L278.3 406.0L279.0 406.6L279.5 407.0L280.0 407.4L280.6 408.0L281.0 408.3L281.7 409.0L282.0 409.3L282.7 410.0L283.0 410.3L283.8 411.0L284.0 411.2L284.8 412.0L285.0 412.2L285.7 413.0L286.0 413.3L286.7 414.0L287.0 414.3L287.6 415.0L288.0 415.4L288.6 416.0L289.0 416.5L289.5 417.0L290.0 417.6L290.3 418.0L291.0 418.8L291.2 419.0L292.0 420.0L292.0 420.0L292.8 421.0L293.0 421.3L293.5 422.0L294.0 422.7L294.2 423.0L294.0 423.0L293.0 423.1L292.9 423.0L292.0 422.1L291.9 422.0L291.0 421.1L290.0 421.2L289.8 421.0L289.0 420.2L288.0 420.3L287.7 420.0L287.0 419.3L286.7 419.0L286.0 418.3L285.0 418.4L284.6 418.0L284.0 417.4L283.0 417.4L282.6 417.0L282.0 416.4L281.6 416.0L281.0 415.4L280.0 415.4L279.6 415.0L279.0 414.5L278.0 414.5L277.5 414.0L277.0 413.5L276.5 413.0L276.0 412.5L275.0 412.4L274.0 412.4L273.6 412.0L273.0 411.4L272.0 411.4L271.0 411.3L270.7 411.0L270.0 410.3L269.0 410.3L268.0 410.2L267.8 410.0L267.0 409.2L266.0 409.1L265.9 409.0L265.0 408.0L264.1 408.0L265.0 407.3L265.5 407.0L266.0 406.7L267.0 406.3L268.0 406.0L268.0 406.0L269.0 405.7L270.0 405.5L271.0 405.2L271.8 405.0ZM328.0 414.9L328.1 415.0L329.0 415.7L329.3 416.0L330.0 416.6L330.4 417.0L331.0 417.6L331.4 418.0L332.0 418.7L332.3 419.0L333.0 419.8L333.2 420.0L334.0 421.0L333.0 421.1L332.9 421.0L332.0 420.1L331.0 420.1L330.0 420.2L329.8 420.0L329.0 419.2L328.0 419.3L327.0 419.2L326.0 419.2L325.2 420.0L325.0 420.2L324.0 420.1L323.0 420.0L322.4 420.0L323.0 419.3L323.3 419.0L324.0 418.2L324.2 418.0L325.0 417.2L325.3 417.0L326.0 416.3L326.4 416.0L327.0 415.5L327.8 415.0ZM322.0 420.5L322.0 421.0L322.0 421.0L321.6 421.0ZM462.0 437.9L463.0 437.8L464.0 437.7L465.0 437.6L466.0 437.5L467.0 437.5L468.0 437.4L469.0 437.4L470.0 437.4L471.0 437.4L472.0 437.4L473.0 437.5L474.0 437.5L475.0 437.6L476.0 437.7L477.0 437.8L478.0 437.9L478.4 438.0L479.0 438.1L480.0 438.3L481.0 438.4L482.0 438.6L483.0 438.8L484.0 439.0L484.1 439.0L485.0 439.2L486.0 439.4L487.0 439.7L488.0 439.9L488.2 440.0L489.0 440.2L490.0 440.5L491.0 440.9L491.5 441.0L492.0 441.2L493.0 441.6L494.0 441.9L494.2 442.0L495.0 442.4L496.0 442.8L496.6 443.0L497.0 443.2L498.0 443.7L498.6 444.0L499.0 444.3L500.0 444.9L500.1 445.0L501.0 445.9L501.1 446.0L501.7 447.0L502.0 448.0L501.0 448.0L501.0 448.0L500.0 447.1L499.0 447.1L498.0 447.1L497.0 447.1L496.0 447.1L495.0 447.2L494.0 447.2L493.0 447.2L492.0 447.2L491.0 447.2L490.0 447.2L489.0 447.2L488.0 447.2L487.8 447.0L487.0 446.2L486.0 446.3L485.0 446.3L484.0 446.3L483.0 446.3L482.0 446.3L481.0 446.3L480.0 446.3L479.0 446.3L478.7 446.0L478.0 445.3L477.0 445.3L476.0 445.3L475.0 445.3L474.0 445.3L473.0 445.3L472.0 445.3L471.0 445.3L470.0 445.3L469.0 445.3L468.0 445.3L467.7 445.0L467.0 444.3L466.0 444.3L465.0 444.2L464.0 444.2L463.0 444.2L462.0 444.2L461.0 444.2L460.0 444.2L459.0 444.2L458.0 444.2L457.0 444.1L456.9 444.0L456.0 443.1L455.0 443.1L454.0 443.1L453.0 443.0L452.0 443.0L451.9 443.0L452.0 442.8L452.4 442.0L453.0 441.3L453.3 441.0L454.0 440.5L454.8 440.0L455.0 439.9L456.0 439.5L457.0 439.1L457.3 439.0L458.0 438.8L459.0 438.5L460.0 438.3L461.0 438.1L461.5 438.0Z"/>
<path fill="#00bdff" fill-rule="evenodd" d="M278.0 285.8L278.3 286.0L279.0 286.4L279.7 287.0L280.0 287.3L280.7 288.0L281.0 288.3L281.6 289.0L282.0 289.5L282.4 290.0L283.0 290.8L283.2 291.0L283.5 292.0L283.9 293.0L284.0 293.3L284.2 294.0L284.6 295.0L284.9 296.0L285.0 296.4L285.2 297.0L285.5 298.0L285.8 299.0L286.0 299.6L286.1 300.0L286.1 301.0L286.1 302.0L286.1 303.0L286.1 304.0L286.1 305.0L286.1 306.0L286.1 307.0L286.1 308.0L286.1 309.0L286.1 310.0L286.0 310.5L285.9 311.0L285.7 312.0L285.4 313.0L285.2 314.0L285.0 315.0L285.0 315.0L284.8 316.0L284.5 317.0L284.3 318.0L284.0 319.0L284.0 319.1L283.8 320.0L283.5 321.0L283.2 322.0L283.0 322.8L283.0 323.0L282.7 324.0L282.0 325.0L282.0 325.0L281.2 326.0L281.0 326.3L280.4 327.0L280.0 327.4L279.4 328.0L279.0 328.4L278.2 329.0L278.0 329.1L277.8 329.0L277.0 328.4L276.6 328.0L276.0 327.4L275.6 327.0L275.0 326.3L274.8 326.0L274.0 325.0L274.0 325.0L273.3 324.0L273.0 323.0L273.0 322.8L272.8 322.0L272.5 321.0L272.2 320.0L272.0 319.1L272.0 319.0L271.7 318.0L271.5 317.0L271.2 316.0L271.0 315.0L271.0 315.0L270.8 314.0L270.6 313.0L270.3 312.0L270.1 311.0L270.0 310.5L269.9 310.0L269.9 309.0L269.9 308.0L269.9 307.0L269.9 306.0L269.9 305.0L269.9 304.0L269.9 303.0L269.9 302.0L269.9 301.0L269.9 300.0L270.0 299.6L270.2 299.0L270.5 298.0L270.8 297.0L271.0 296.4L271.1 296.0L271.4 295.0L271.8 294.0L272.0 293.3L272.1 293.0L272.5 292.0L272.8 291.0L273.0 290.8L273.6 290.0L274.0 289.5L274.4 289.0L275.0 288.3L275.3 288.0L276.0 287.3L276.3 287.0L277.0 286.4L277.7 286.0ZM475.0 295.8L476.0 295.2L477.0 295.2L478.0 295.8L478.3 296.0L479.0 296.5L479.8 297.0L480.0 297.1L481.0 297.8L481.3 298.0L481.9 299.0L482.0 299.3L482.3 300.0L482.8 301.0L483.0 301.5L483.2 302.0L483.6 303.0L484.0 303.8L484.1 304.0L484.3 305.0L484.3 306.0L484.3 307.0L484.3 308.0L484.3 309.0L484.3 310.0L484.3 311.0L484.3 312.0L484.3 313.0L484.3 314.0L484.3 315.0L484.3 316.0L484.3 317.0L484.3 318.0L484.3 319.0L484.3 320.0L484.3 321.0L484.3 322.0L484.3 323.0L484.3 324.0L484.2 325.0L484.0 325.4L483.7 326.0L483.2 327.0L483.0 327.5L482.7 328.0L482.2 329.0L482.0 329.3L481.6 330.0L481.0 331.0L481.0 331.0L480.3 332.0L480.0 332.4L479.5 333.0L479.0 333.5L478.5 334.0L478.0 334.5L477.4 335.0L477.0 335.3L476.0 335.3L475.6 335.0L475.0 334.5L474.5 334.0L474.0 333.5L473.5 333.0L473.0 332.3L472.8 332.0L472.1 331.0L472.0 330.9L471.5 330.0L471.0 329.2L470.9 329.0L470.4 328.0L470.0 327.2L469.9 327.0L469.4 326.0L469.0 325.1L468.9 325.0L468.8 324.0L468.8 323.0L468.8 322.0L468.8 321.0L468.8 320.0L468.8 319.0L468.8 318.0L468.8 317.0L468.8 316.0L468.8 315.0L468.8 314.0L468.8 313.0L468.8 312.0L468.8 311.0L468.8 310.0L468.8 309.0L468.8 308.0L468.8 307.0L468.8 306.0L468.8 305.0L468.9 304.0L469.0 303.8L469.4 303.0L469.8 302.0L470.0 301.5L470.2 301.0L470.7 300.0L471.0 299.3L471.1 299.0L471.7 298.0L472.0 297.8L473.0 297.1L473.2 297.0L474.0 296.5L474.7 296.0ZM271.0 405.9L272.0 405.6L273.0 405.4L274.0 405.3L275.0 405.1L276.0 405.2L277.0 405.5L277.6 406.0L278.0 406.3L278.8 407.0L279.0 407.2L279.9 408.0L280.0 408.1L281.0 409.0L281.0 409.0L282.0 409.9L282.1 410.0L283.0 410.9L283.1 411.0L284.0 411.9L284.1 412.0L285.0 412.9L285.1 413.0L286.0 414.0L286.0 414.0L287.0 415.0L287.0 415.0L287.9 416.0L288.0 416.1L288.8 417.0L289.0 417.2L289.7 418.0L290.0 418.4L290.5 419.0L291.0 419.6L291.3 420.0L292.0 420.9L292.1 421.0L292.8 422.0L292.0 422.1L291.9 422.0L291.0 421.1L290.0 421.2L289.8 421.0L289.0 420.2L288.0 420.2L287.8 420.0L287.0 419.2L286.8 419.0L286.0 418.3L285.0 418.3L284.7 418.0L284.0 417.3L283.0 417.4L282.6 417.0L282.0 416.4L281.6 416.0L281.0 415.4L280.0 415.4L279.6 415.0L279.0 414.4L278.0 414.4L277.6 414.0L277.0 413.5L276.5 413.0L276.0 412.4L275.0 412.4L274.0 412.4L273.6 412.0L273.0 411.3L272.0 411.3L271.0 411.3L270.7 411.0L270.0 410.2L269.0 410.2L268.0 410.2L267.8 410.0L267.0 409.1L266.0 409.1L265.9 409.0L265.5 408.0L266.0 407.7L267.0 407.2L267.4 407.0L268.0 406.8L269.0 406.5L270.0 406.2L270.6 406.0ZM328.0 415.7L328.3 416.0L329.0 416.6L329.5 417.0L330.0 417.5L330.5 418.0L331.0 418.6L331.4 419.0L332.0 419.7L332.3 420.0L332.0 420.0L331.0 420.1L330.0 420.1L329.9 420.0L329.0 419.2L328.0 419.2L327.0 419.2L326.0 419.1L325.1 420.0L325.0 420.1L324.0 420.0L323.3 420.0L324.0 419.2L324.2 419.0L325.0 418.2L325.2 418.0L326.0 417.2L326.2 417.0L327.0 416.3L327.5 416.0ZM333.0 420.9L333.1 421.0L333.0 421.0L333.0 421.0ZM293.0 422.3L293.4 423.0L293.0 423.0L293.0 423.0ZM470.0 438.0L471.0 438.0L471.1 438.0L472.0 438.0L473.0 438.1L474.0 438.1L475.0 438.2L476.0 438.3L477.0 438.4L478.0 438.6L479.0 438.7L480.0 438.9L480.9 439.0L481.0 439.0L482.0 439.2L483.0 439.4L484.0 439.6L485.0 439.9L485.6 440.0L486.0 440.1L487.0 440.4L488.0 440.7L489.0 440.9L489.2 441.0L490.0 441.3L491.0 441.7L492.0 442.0L492.0 442.0L493.0 442.5L494.0 442.9L494.3 443.0L495.0 443.4L496.0 443.9L496.3 444.0L497.0 444.4L497.9 445.0L498.0 445.1L498.9 446.0L499.0 446.1L499.6 447.0L499.0 447.0L498.0 447.0L497.0 447.1L496.0 447.1L495.0 447.1L494.0 447.1L493.0 447.1L492.0 447.1L491.0 447.2L490.0 447.2L489.0 447.2L488.0 447.2L487.8 447.0L487.0 446.2L486.0 446.2L485.0 446.2L484.0 446.2L483.0 446.2L482.0 446.2L481.0 446.2L480.0 446.2L479.0 446.2L478.8 446.0L478.0 445.2L477.0 445.2L476.0 445.2L475.0 445.2L474.0 445.2L473.0 445.2L472.0 445.2L471.0 445.2L470.0 445.2L469.0 445.2L468.0 445.2L467.8 445.0L467.0 444.2L466.0 444.2L465.0 444.2L464.0 444.2L463.0 444.2L462.0 444.2L461.0 444.1L460.0 444.1L459.0 444.1L458.0 444.1L457.0 444.1L456.9 444.0L456.0 443.1L455.0 443.0L454.0 443.0L453.9 443.0L454.0 442.9L454.5 442.0L455.0 441.5L455.6 441.0L456.0 440.8L457.0 440.2L457.5 440.0L458.0 439.8L459.0 439.5L460.0 439.2L460.6 439.0L461.0 438.9L462.0 438.7L463.0 438.6L464.0 438.4L465.0 438.3L466.0 438.2L467.0 438.1L468.0 438.1L469.0 438.0L469.8 438.0Z"/>
<path fill="#00d1ff" fill-rule="evenodd" d="M278.0 287.5L278.7 288.0L279.0 288.2L279.9 289.0L280.0 289.1L280.8 290.0L281.0 290.2L281.7 291.0L282.0 291.8L282.1 292.0L282.5 293.0L282.9 294.0L283.0 294.4L283.2 295.0L283.6 296.0L283.9 297.0L284.0 297.3L284.2 298.0L284.6 299.0L284.9 300.0L284.9 301.0L284.9 302.0L284.9 303.0L284.9 304.0L284.9 305.0L284.9 306.0L284.9 307.0L284.9 308.0L284.9 309.0L284.9 310.0L284.6 311.0L284.4 312.0L284.2 313.0L284.0 313.7L283.9 314.0L283.7 315.0L283.4 316.0L283.2 317.0L283.0 317.6L282.9 318.0L282.6 319.0L282.3 320.0L282.0 321.0L282.0 321.2L281.7 322.0L281.4 323.0L281.1 324.0L281.0 324.2L280.3 325.0L280.0 325.4L279.4 326.0L279.0 326.4L278.2 327.0L278.0 327.1L277.8 327.0L277.0 326.4L276.6 326.0L276.0 325.4L275.7 325.0L275.0 324.2L274.9 324.0L274.6 323.0L274.3 322.0L274.0 321.2L274.0 321.0L273.7 320.0L273.4 319.0L273.1 318.0L273.0 317.6L272.8 317.0L272.6 316.0L272.3 315.0L272.1 314.0L272.0 313.7L271.8 313.0L271.6 312.0L271.4 311.0L271.1 310.0L271.1 309.0L271.1 308.0L271.1 307.0L271.1 306.0L271.1 305.0L271.1 304.0L271.1 303.0L271.1 302.0L271.1 301.0L271.1 300.0L271.4 299.0L271.8 298.0L272.0 297.3L272.1 297.0L272.4 296.0L272.8 295.0L273.0 294.4L273.1 294.0L273.5 293.0L273.9 292.0L274.0 291.8L274.3 291.0L275.0 290.2L275.2 290.0L276.0 289.1L276.1 289.0L277.0 288.2L277.3 288.0ZM476.0 296.9L477.0 296.9L477.2 297.0L478.0 297.5L478.8 298.0L479.0 298.2L480.0 299.0L480.0 299.1L480.4 300.0L480.9 301.0L481.0 301.3L481.3 302.0L481.7 303.0L482.0 303.6L482.2 304.0L482.4 305.0L482.4 306.0L482.4 307.0L482.4 308.0L482.4 309.0L482.4 310.0L482.4 311.0L482.4 312.0L482.4 313.0L482.4 314.0L482.4 315.0L482.4 316.0L482.4 317.0L482.4 318.0L482.4 319.0L482.4 320.0L482.4 321.0L482.4 322.0L482.4 323.0L482.4 324.0L482.0 325.0L482.0 325.0L481.5 326.0L481.0 327.0L481.0 327.1L480.5 328.0L480.0 328.9L479.9 329.0L479.2 330.0L479.0 330.3L478.4 331.0L478.0 331.4L477.3 332.0L477.0 332.3L476.0 332.3L475.7 332.0L475.0 331.4L474.6 331.0L474.0 330.3L473.8 330.0L473.1 329.0L473.0 328.8L472.6 328.0L472.0 327.0L472.0 326.9L471.5 326.0L471.1 325.0L471.0 324.8L470.7 324.0L470.7 323.0L470.7 322.0L470.7 321.0L470.7 320.0L470.7 319.0L470.7 318.0L470.7 317.0L470.7 316.0L470.7 315.0L470.7 314.0L470.7 313.0L470.7 312.0L470.7 311.0L470.7 310.0L470.7 309.0L470.7 308.0L470.7 307.0L470.7 306.0L470.7 305.0L470.8 304.0L471.0 303.6L471.3 303.0L471.7 302.0L472.0 301.3L472.1 301.0L472.6 300.0L473.0 299.1L473.0 299.0L474.0 298.2L474.2 298.0L475.0 297.5L475.8 297.0ZM274.0 405.9L275.0 405.8L276.0 405.8L276.6 406.0L277.0 406.2L278.0 406.9L278.1 407.0L279.0 407.8L279.2 408.0L280.0 408.7L280.3 409.0L281.0 409.6L281.4 410.0L282.0 410.6L282.4 411.0L283.0 411.6L283.4 412.0L284.0 412.6L284.4 413.0L285.0 413.6L285.4 414.0L286.0 414.7L286.3 415.0L287.0 415.7L287.2 416.0L288.0 416.9L288.1 417.0L289.0 418.0L289.0 418.0L289.8 419.0L290.0 419.3L290.6 420.0L291.0 420.6L291.3 421.0L291.0 421.0L290.0 421.1L289.9 421.0L289.0 420.1L288.0 420.2L287.8 420.0L287.0 419.2L286.8 419.0L286.0 418.2L285.0 418.3L284.7 418.0L284.0 417.3L283.0 417.3L282.7 417.0L282.0 416.3L281.7 416.0L281.0 415.3L280.0 415.4L279.6 415.0L279.0 414.4L278.0 414.4L277.6 414.0L277.0 413.4L276.6 413.0L276.0 412.4L275.0 412.4L274.0 412.4L273.6 412.0L273.0 411.3L272.0 411.3L271.0 411.3L270.7 411.0L270.0 410.2L269.0 410.2L268.0 410.1L267.9 410.0L267.0 409.1L266.0 409.0L266.0 409.0L266.0 408.9L267.0 408.1L267.1 408.0L268.0 407.6L269.0 407.2L269.7 407.0L270.0 406.9L271.0 406.6L272.0 406.3L273.0 406.1L273.3 406.0ZM328.0 416.6L328.5 417.0L329.0 417.4L329.6 418.0L330.0 418.4L330.5 419.0L331.0 419.5L331.4 420.0L331.0 420.0L330.0 420.1L329.9 420.0L329.0 419.1L328.0 419.2L327.0 419.1L326.0 419.1L325.1 419.0L326.0 418.1L326.1 418.0L327.0 417.2L327.3 417.0ZM325.0 419.2L325.0 420.0L325.0 420.0L324.3 420.0ZM292.0 422.0L292.0 422.0L292.0 422.0L292.0 422.0ZM466.0 439.0L467.0 438.9L468.0 438.8L469.0 438.8L470.0 438.7L471.0 438.7L472.0 438.7L473.0 438.8L474.0 438.8L475.0 438.9L476.0 439.0L476.1 439.0L477.0 439.1L478.0 439.3L479.0 439.4L480.0 439.6L481.0 439.7L482.0 439.9L482.4 440.0L483.0 440.1L484.0 440.4L485.0 440.6L486.0 440.9L486.4 441.0L487.0 441.2L488.0 441.5L489.0 441.9L489.4 442.0L490.0 442.2L491.0 442.7L491.8 443.0L492.0 443.1L493.0 443.6L493.7 444.0L494.0 444.2L495.0 444.8L495.3 445.0L496.0 445.7L496.4 446.0L497.0 446.9L497.0 447.0L497.0 447.0L496.0 447.0L495.0 447.0L494.0 447.1L493.0 447.1L492.0 447.1L491.0 447.1L490.0 447.1L489.0 447.1L488.0 447.1L487.9 447.0L487.0 446.1L486.0 446.1L485.0 446.2L484.0 446.2L483.0 446.2L482.0 446.2L481.0 446.2L480.0 446.2L479.0 446.2L478.8 446.0L478.0 445.2L477.0 445.2L476.0 445.2L475.0 445.2L474.0 445.2L473.0 445.2L472.0 445.2L471.0 445.2L470.0 445.2L469.0 445.2L468.0 445.2L467.8 445.0L467.0 444.2L466.0 444.1L465.0 444.1L464.0 444.1L463.0 444.1L462.0 444.1L461.0 444.1L460.0 444.1L459.0 444.1L458.0 444.0L457.0 444.0L457.0 444.0L456.3 443.0L457.0 442.0L457.0 442.0L458.0 441.3L458.4 441.0L459.0 440.7L460.0 440.3L460.8 440.0L461.0 440.0L462.0 439.7L463.0 439.5L464.0 439.3L465.0 439.1L465.8 439.0Z"/>
<path fill="#00e5f7" fill-rule="evenodd" d="M277.0 290.0L278.0 289.3L279.0 290.0L279.0 290.0L280.0 290.9L280.1 291.0L280.5 292.0L281.0 293.0L281.0 293.1L281.4 294.0L281.8 295.0L282.0 295.5L282.2 296.0L282.6 297.0L282.9 298.0L283.0 298.2L283.3 299.0L283.6 300.0L283.6 301.0L283.6 302.0L283.6 303.0L283.6 304.0L283.6 305.0L283.6 306.0L283.6 307.0L283.6 308.0L283.6 309.0L283.6 310.0L283.4 311.0L283.1 312.0L283.0 312.4L282.8 313.0L282.6 314.0L282.3 315.0L282.0 316.0L282.0 316.1L281.7 317.0L281.4 318.0L281.1 319.0L281.0 319.4L280.8 320.0L280.5 321.0L280.1 322.0L280.0 322.4L279.8 323.0L279.4 324.0L279.0 324.4L278.2 325.0L278.0 325.2L277.8 325.0L277.0 324.4L276.6 324.0L276.2 323.0L276.0 322.4L275.9 322.0L275.5 321.0L275.2 320.0L275.0 319.4L274.9 319.0L274.6 318.0L274.3 317.0L274.0 316.1L274.0 316.0L273.7 315.0L273.4 314.0L273.2 313.0L273.0 312.4L272.9 312.0L272.6 311.0L272.4 310.0L272.4 309.0L272.4 308.0L272.4 307.0L272.4 306.0L272.4 305.0L272.4 304.0L272.4 303.0L272.4 302.0L272.4 301.0L272.4 300.0L272.7 299.0L273.0 298.2L273.1 298.0L273.4 297.0L273.8 296.0L274.0 295.5L274.2 295.0L274.6 294.0L275.0 293.1L275.0 293.0L275.5 292.0L275.9 291.0L276.0 290.9L277.0 290.0ZM476.0 298.5L477.0 298.5L477.7 299.0L478.0 299.3L478.5 300.0L478.9 301.0L479.0 301.1L479.4 302.0L479.8 303.0L480.0 303.4L480.3 304.0L480.6 305.0L480.6 306.0L480.6 307.0L480.6 308.0L480.6 309.0L480.6 310.0L480.6 311.0L480.6 312.0L480.6 313.0L480.6 314.0L480.6 315.0L480.6 316.0L480.6 317.0L480.6 318.0L480.6 319.0L480.6 320.0L480.6 321.0L480.6 322.0L480.6 323.0L480.3 324.0L480.0 324.7L479.8 325.0L479.4 326.0L479.0 326.7L478.8 327.0L478.2 328.0L478.0 328.2L477.3 329.0L477.0 329.3L476.0 329.3L475.7 329.0L475.0 328.2L474.8 328.0L474.2 327.0L474.0 326.6L473.7 326.0L473.2 325.0L473.0 324.6L472.7 324.0L472.5 323.0L472.5 322.0L472.5 321.0L472.5 320.0L472.5 319.0L472.5 318.0L472.5 317.0L472.5 316.0L472.5 315.0L472.5 314.0L472.5 313.0L472.5 312.0L472.5 311.0L472.5 310.0L472.5 309.0L472.5 308.0L472.5 307.0L472.5 306.0L472.5 305.0L472.7 304.0L473.0 303.4L473.2 303.0L473.6 302.0L474.0 301.1L474.1 301.0L474.5 300.0L475.0 299.3L475.3 299.0ZM272.0 407.0L273.0 406.7L274.0 406.5L275.0 406.4L276.0 406.4L277.0 406.8L277.3 407.0L278.0 407.5L278.5 408.0L279.0 408.4L279.7 409.0L280.0 409.3L280.7 410.0L281.0 410.2L281.8 411.0L282.0 411.2L282.8 412.0L283.0 412.2L283.8 413.0L284.0 413.3L284.7 414.0L285.0 414.3L285.7 415.0L286.0 415.4L286.6 416.0L287.0 416.5L287.4 417.0L288.0 417.7L288.3 418.0L289.0 418.9L289.1 419.0L289.9 420.0L289.0 420.1L288.0 420.1L287.9 420.0L287.0 419.1L286.9 419.0L286.0 418.2L285.0 418.2L284.8 418.0L284.0 417.2L283.0 417.3L282.7 417.0L282.0 416.3L281.7 416.0L281.0 415.3L280.0 415.3L279.7 415.0L279.0 414.3L278.0 414.4L277.6 414.0L277.0 413.4L276.6 413.0L276.0 412.3L275.0 412.3L274.0 412.3L273.7 412.0L273.0 411.3L272.0 411.2L271.0 411.2L270.8 411.0L270.0 410.1L269.0 410.1L268.0 410.1L267.9 410.0L267.2 409.0L268.0 408.5L269.0 408.0L269.1 408.0L270.0 407.6L271.0 407.3L271.9 407.0ZM328.0 417.4L328.7 418.0L329.0 418.3L329.7 419.0L329.0 419.0L328.0 419.1L327.0 419.1L326.1 419.0L327.0 418.1L327.1 418.0ZM330.0 419.4L330.5 420.0L330.0 420.0L330.0 420.0ZM290.0 420.2L290.6 421.0L290.0 421.0L290.0 421.0ZM467.0 439.9L468.0 439.8L469.0 439.7L470.0 439.6L471.0 439.6L472.0 439.6L473.0 439.6L474.0 439.7L475.0 439.7L476.0 439.8L477.0 439.9L477.5 440.0L478.0 440.1L479.0 440.2L480.0 440.4L481.0 440.6L482.0 440.8L482.8 441.0L483.0 441.1L484.0 441.3L485.0 441.6L486.0 441.9L486.3 442.0L487.0 442.3L488.0 442.7L488.9 443.0L489.0 443.1L490.0 443.6L490.9 444.0L491.0 444.1L492.0 444.8L492.3 445.0L493.0 445.6L493.4 446.0L494.0 447.0L493.0 447.0L492.0 447.0L491.0 447.0L490.0 447.1L489.0 447.1L488.0 447.1L487.9 447.0L487.0 446.1L486.0 446.1L485.0 446.1L484.0 446.1L483.0 446.1L482.0 446.1L481.0 446.1L480.0 446.1L479.0 446.1L478.9 446.0L478.0 445.1L477.0 445.1L476.0 445.1L475.0 445.1L474.0 445.1L473.0 445.1L472.0 445.1L471.0 445.1L470.0 445.1L469.0 445.1L468.0 445.1L467.9 445.0L467.0 444.1L466.0 444.1L465.0 444.1L464.0 444.1L463.0 444.1L462.0 444.0L461.0 444.0L460.0 444.0L459.0 444.0L458.9 444.0L459.0 443.6L459.2 443.0L460.0 442.2L460.2 442.0L461.0 441.6L462.0 441.1L462.2 441.0L463.0 440.7L464.0 440.5L465.0 440.2L466.0 440.0L466.1 440.0Z"/>
<path fill="#10fae6" fill-rule="evenodd" d="M278.0 291.0L278.7 292.0L279.0 292.5L279.3 293.0L279.8 294.0L280.0 294.4L280.3 295.0L280.7 296.0L281.0 296.7L281.1 297.0L281.5 298.0L281.9 299.0L282.0 299.3L282.3 300.0L282.3 301.0L282.3 302.0L282.3 303.0L282.3 304.0L282.3 305.0L282.3 306.0L282.3 307.0L282.3 308.0L282.3 309.0L282.3 310.0L282.0 311.0L282.0 311.0L281.7 312.0L281.4 313.0L281.1 314.0L281.0 314.5L280.8 315.0L280.5 316.0L280.2 317.0L280.0 317.5L279.8 318.0L279.4 319.0L279.1 320.0L279.0 320.2L278.6 321.0L278.1 322.0L278.0 322.1L277.9 322.0L277.4 321.0L277.0 320.2L276.9 320.0L276.6 319.0L276.2 318.0L276.0 317.5L275.8 317.0L275.5 316.0L275.2 315.0L275.0 314.5L274.9 314.0L274.6 313.0L274.3 312.0L274.0 311.0L274.0 311.0L273.7 310.0L273.7 309.0L273.7 308.0L273.7 307.0L273.7 306.0L273.7 305.0L273.7 304.0L273.7 303.0L273.7 302.0L273.7 301.0L273.7 300.0L274.0 299.3L274.1 299.0L274.5 298.0L274.9 297.0L275.0 296.7L275.3 296.0L275.7 295.0L276.0 294.4L276.2 294.0L276.7 293.0L277.0 292.5L277.3 292.0ZM476.0 300.9L477.0 300.9L477.0 301.0L477.5 302.0L477.9 303.0L478.0 303.2L478.4 304.0L478.7 305.0L478.7 306.0L478.7 307.0L478.7 308.0L478.7 309.0L478.7 310.0L478.7 311.0L478.7 312.0L478.7 313.0L478.7 314.0L478.7 315.0L478.7 316.0L478.7 317.0L478.7 318.0L478.7 319.0L478.7 320.0L478.7 321.0L478.7 322.0L478.6 323.0L478.2 324.0L478.0 324.3L477.7 325.0L477.1 326.0L477.0 326.2L476.0 326.2L475.9 326.0L475.3 325.0L475.0 324.3L474.9 324.0L474.4 323.0L474.3 322.0L474.3 321.0L474.3 320.0L474.3 319.0L474.3 318.0L474.3 317.0L474.3 316.0L474.3 315.0L474.3 314.0L474.3 313.0L474.3 312.0L474.3 311.0L474.3 310.0L474.3 309.0L474.3 308.0L474.3 307.0L474.3 306.0L474.3 305.0L474.6 304.0L475.0 303.2L475.1 303.0L475.5 302.0L476.0 301.0ZM271.0 408.0L272.0 407.6L273.0 407.4L274.0 407.2L275.0 407.0L276.0 407.0L277.0 407.4L277.8 408.0L278.0 408.2L279.0 409.0L279.0 409.0L280.0 409.9L280.1 410.0L281.0 410.9L281.1 411.0L282.0 411.9L282.1 412.0L283.0 412.9L283.1 413.0L284.0 413.9L284.1 414.0L285.0 415.0L285.0 415.0L285.9 416.0L286.0 416.1L286.8 417.0L287.0 417.3L287.6 418.0L288.0 418.5L288.4 419.0L289.0 419.9L289.1 420.0L289.0 420.0L288.0 420.1L287.9 420.0L287.0 419.1L286.9 419.0L286.0 418.1L285.0 418.2L284.8 418.0L284.0 417.2L283.0 417.2L282.8 417.0L282.0 416.2L281.8 416.0L281.0 415.3L280.0 415.3L279.7 415.0L279.0 414.3L278.0 414.3L277.7 414.0L277.0 413.3L276.7 413.0L276.0 412.3L275.0 412.3L274.0 412.3L273.7 412.0L273.0 411.2L272.0 411.2L271.0 411.2L270.8 411.0L270.0 410.1L269.0 410.1L268.0 410.0L268.0 410.0L268.0 409.6L268.8 409.0L269.0 408.9L270.0 408.4L271.0 408.0ZM327.0 419.0L328.0 418.3L328.8 419.0L328.0 419.0L327.0 419.0L327.0 419.0ZM469.0 440.9L470.0 440.8L471.0 440.8L472.0 440.7L473.0 440.7L474.0 440.8L475.0 440.8L476.0 440.9L477.0 441.0L477.0 441.0L478.0 441.2L479.0 441.4L480.0 441.6L481.0 441.8L482.0 442.0L482.0 442.0L483.0 442.3L484.0 442.7L485.0 443.0L485.0 443.0L486.0 443.5L487.0 443.9L487.2 444.0L488.0 444.6L488.7 445.0L489.0 445.3L489.7 446.0L490.0 446.7L490.1 447.0L490.0 447.0L489.0 447.0L488.0 447.0L488.0 447.0L487.0 446.0L486.0 446.0L485.0 446.0L484.0 446.1L483.0 446.1L482.0 446.1L481.0 446.1L480.0 446.1L479.0 446.1L478.9 446.0L478.0 445.1L477.0 445.1L476.0 445.1L475.0 445.1L474.0 445.1L473.0 445.1L472.0 445.1L471.0 445.1L470.0 445.1L469.0 445.1L468.0 445.1L467.9 445.0L467.0 444.0L466.0 444.0L465.0 444.0L464.0 444.0L463.0 444.0L462.5 444.0L463.0 443.2L463.2 443.0L464.0 442.4L464.7 442.0L465.0 441.9L466.0 441.6L467.0 441.3L468.0 441.1L468.5 441.0Z"/>
<path fill="#21ffd6" fill-rule="evenodd" d="M278.0 294.5L278.4 295.0L279.0 296.0L279.0 296.0L279.5 297.0L280.0 298.0L280.0 298.0L280.4 299.0L280.8 300.0L280.8 301.0L280.8 302.0L280.8 303.0L280.8 304.0L280.8 305.0L280.8 306.0L280.8 307.0L280.8 308.0L280.8 309.0L280.8 310.0L280.5 311.0L280.2 312.0L280.0 312.7L279.9 313.0L279.5 314.0L279.2 315.0L279.0 315.4L278.7 316.0L278.2 317.0L278.0 317.5L277.8 317.0L277.3 316.0L277.0 315.4L276.8 315.0L276.5 314.0L276.1 313.0L276.0 312.7L275.8 312.0L275.5 311.0L275.2 310.0L275.2 309.0L275.2 308.0L275.2 307.0L275.2 306.0L275.2 305.0L275.2 304.0L275.2 303.0L275.2 302.0L275.2 301.0L275.2 300.0L275.6 299.0L276.0 298.0L276.0 298.0L276.5 297.0L277.0 296.0L277.0 296.0L277.6 295.0ZM274.0 407.8L275.0 407.7L276.0 407.6L277.0 408.0L277.0 408.0L278.0 408.8L278.3 409.0L279.0 409.6L279.4 410.0L280.0 410.6L280.5 411.0L281.0 411.5L281.5 412.0L282.0 412.5L282.5 413.0L283.0 413.6L283.4 414.0L284.0 414.7L284.3 415.0L285.0 415.8L285.2 416.0L286.0 416.9L286.1 417.0L286.9 418.0L286.0 418.1L285.0 418.1L284.9 418.0L284.0 417.1L283.0 417.2L282.8 417.0L282.0 416.2L281.8 416.0L281.0 415.2L280.0 415.3L279.7 415.0L279.0 414.3L278.0 414.3L277.7 414.0L277.0 413.3L276.7 413.0L276.0 412.3L275.0 412.3L274.0 412.2L273.8 412.0L273.0 411.2L272.0 411.1L271.0 411.1L270.9 411.0L270.0 410.0L269.0 410.0L268.9 410.0L269.0 409.9L270.0 409.3L270.5 409.0L271.0 408.7L272.0 408.4L273.0 408.0L273.2 408.0ZM287.0 418.2L287.6 419.0L287.0 419.0L287.0 419.0ZM288.0 419.6L288.3 420.0L288.0 420.0L288.0 420.0ZM470.0 442.9L471.0 442.7L472.0 442.5L473.0 442.4L474.0 442.4L475.0 442.4L476.0 442.5L477.0 442.6L478.0 442.8L479.0 443.0L479.0 443.0L480.0 443.3L481.0 443.7L481.8 444.0L482.0 444.1L483.0 444.7L483.5 445.0L484.0 445.6L484.3 446.0L484.0 446.0L483.0 446.0L482.0 446.0L481.0 446.0L480.0 446.0L479.0 446.0L479.0 446.0L478.0 445.0L477.0 445.0L476.0 445.0L475.0 445.0L474.0 445.0L473.0 445.0L472.0 445.0L471.0 445.0L470.0 445.0L469.0 445.0L468.0 445.0L468.0 445.0L468.0 444.0L468.0 444.0L469.0 443.3L469.6 443.0Z"/>
<path fill="#31ffc5" fill-rule="evenodd" d="M278.0 297.9L278.0 298.0L278.7 299.0L279.0 299.5L279.2 300.0L279.2 301.0L279.2 302.0L279.2 303.0L279.2 304.0L279.2 305.0L279.2 306.0L279.2 307.0L279.2 308.0L279.2 309.0L279.2 310.0L279.0 310.7L278.9 311.0L278.4 312.0L278.0 312.8L277.6 312.0L277.1 311.0L277.0 310.7L276.8 310.0L276.8 309.0L276.8 308.0L276.8 307.0L276.8 306.0L276.8 305.0L276.8 304.0L276.8 303.0L276.8 302.0L276.8 301.0L276.8 300.0L277.0 299.5L277.3 299.0L278.0 298.0ZM273.0 408.7L274.0 408.5L275.0 408.3L276.0 408.2L277.0 408.6L277.5 409.0L278.0 409.4L278.7 410.0L279.0 410.3L279.8 411.0L280.0 411.2L280.8 412.0L281.0 412.2L281.8 413.0L282.0 413.2L282.7 414.0L283.0 414.3L283.7 415.0L284.0 415.4L284.5 416.0L285.0 416.6L285.4 417.0L286.0 417.8L286.2 418.0L286.0 418.0L285.0 418.1L284.9 418.0L284.0 417.1L283.0 417.1L282.9 417.0L282.0 416.2L281.8 416.0L281.0 415.2L280.0 415.2L279.8 415.0L279.0 414.2L278.0 414.3L277.7 414.0L277.0 413.3L276.7 413.0L276.0 412.2L275.0 412.2L274.0 412.2L273.8 412.0L273.0 411.1L272.0 411.1L271.0 411.1L270.9 411.0L270.3 410.0L271.0 409.6L272.0 409.1L272.2 409.0Z"/>
<path fill="#42ffb5" fill-rule="evenodd" d="M275.0 408.9L276.0 408.9L276.4 409.0L277.0 409.2L278.0 410.0L278.0 410.0L279.0 410.9L279.1 411.0L280.0 411.8L280.2 412.0L281.0 412.8L281.1 413.0L282.0 413.9L282.1 414.0L283.0 415.0L283.0 415.0L283.9 416.0L284.0 416.2L284.7 417.0L284.0 417.0L283.0 417.1L282.9 417.0L282.0 416.1L281.9 416.0L281.0 415.1L280.0 415.2L279.8 415.0L279.0 414.2L278.0 414.2L277.8 414.0L277.0 413.2L276.8 413.0L276.0 412.2L275.0 412.2L274.0 412.1L273.9 412.0L273.0 411.1L272.0 411.1L271.0 411.0L271.0 411.0L271.0 410.5L271.7 410.0L272.0 409.9L273.0 409.4L274.0 409.1L274.6 409.0ZM285.0 417.5L285.4 418.0L285.0 418.0L285.0 418.0Z"/>
<path fill="#52ffa5" fill-rule="evenodd" d="M274.0 409.8L275.0 409.6L276.0 409.5L277.0 409.8L277.3 410.0L278.0 410.6L278.4 411.0L279.0 411.5L279.5 412.0L280.0 412.5L280.5 413.0L281.0 413.5L281.4 414.0L282.0 414.6L282.3 415.0L283.0 415.8L283.2 416.0L284.0 417.0L283.0 417.1L282.9 417.0L282.0 416.1L281.9 416.0L281.0 415.1L280.0 415.1L279.9 415.0L279.0 414.1L278.0 414.2L277.8 414.0L277.0 413.2L276.8 413.0L276.0 412.2L275.0 412.1L274.0 412.1L273.9 412.0L273.0 411.0L272.0 411.0L271.7 411.0L272.0 410.8L273.0 410.2L273.5 410.0Z"/>
<path fill="#63ff94" fill-rule="evenodd" d="M274.0 410.5L275.0 410.2L276.0 410.1L277.0 410.4L277.7 411.0L278.0 411.2L278.8 412.0L279.0 412.2L279.8 413.0L280.0 413.2L280.8 414.0L281.0 414.2L281.7 415.0L281.0 415.0L280.0 415.1L279.9 415.0L279.0 414.1L278.0 414.2L277.8 414.0L277.0 413.2L276.8 413.0L276.0 412.1L275.0 412.1L274.0 412.1L273.9 412.0L273.0 411.0ZM282.0 415.4L282.5 416.0L282.0 416.0L282.0 416.0ZM283.0 416.7L283.2 417.0L283.0 417.0L283.0 417.0Z"/>
<path fill="#73ff84" fill-rule="evenodd" d="M275.0 410.9L276.0 410.7L277.0 411.0L277.0 411.0L278.0 411.9L278.2 412.0L279.0 412.8L279.2 413.0L280.0 413.9L280.1 414.0L281.0 415.0L281.0 415.0L281.0 415.0L280.0 415.1L279.9 415.0L279.0 414.1L278.0 414.1L277.9 414.0L277.0 413.1L276.9 413.0L276.0 412.1L275.0 412.1L274.0 412.0L274.0 412.0L274.0 411.4L274.7 411.0Z"/>
<path fill="#84ff73" fill-rule="evenodd" d="M275.0 411.7L276.0 411.4L277.0 411.6L277.5 412.0L278.0 412.5L278.5 413.0L279.0 413.5L279.5 414.0L279.0 414.0L278.0 414.1L277.9 414.0L277.0 413.1L276.9 413.0L276.0 412.0L275.0 412.0L274.4 412.0ZM280.0 414.6L280.3 415.0L280.0 415.0L280.0 415.0Z"/>
<path fill="#94ff63" fill-rule="evenodd" d="M277.0 412.2L277.9 413.0L277.0 413.0L277.0 413.0ZM278.0 413.1L278.8 414.0L278.0 414.0L278.0 414.0Z"/>
<path fill="#a5ff52" fill-rule="evenodd" d="M277.0 412.8L277.2 413.0L277.0 413.0L277.0 413.0ZM278.0 413.9L278.1 414.0L278.0 414.0L278.0 414.0Z"/></g>
<g fill="none" stroke="#000" stroke-width="1.15" stroke-linejoin="round"><polyline points="130.00,81.25 154.50,85.75 164.25,94.00 154.50,120.75 130.00,113.00"/><polyline points="130.00,133.75 160.00,128.00 178.75,115.75 197.50,113.75 227.50,115.00 282.50,115.75 305.00,119.25 340.00,117.50 378.75,117.50 395.00,129.50 418.00,146.25 417.00,163.75 395.00,166.25 377.50,167.00 350.00,171.25 333.75,175.00 332.50,187.00 308.75,194.00 297.50,197.75 285.00,206.50 283.00,229.00 285.00,246.50 297.50,271.50 308.75,305.25 310.00,325.25 302.50,338.00 297.50,345.00 297.50,362.50 302.50,376.25 322.50,383.75 332.50,392.50 344.40,411.70 344.40,419.00 335.40,422.80"/><polyline points="130.00,149.50 151.25,143.25 177.50,142.50 205.00,140.00 230.00,135.50 253.75,133.25 285.00,133.25 337.50,136.25 375.00,141.25 381.25,145.00 375.00,150.00 355.00,152.50 340.00,155.00 312.50,157.50"/><polyline points="292.50,159.25 280.00,159.25 266.75,162.50 275.00,177.00 260.00,194.00 252.50,204.00 253.75,219.00 252.50,249.00 250.00,274.00 251.25,294.00 266.25,315.25 263.75,330.25 255.00,340.00 242.50,355.00 230.00,370.00 202.50,376.25 175.00,373.00 157.50,370.00"/><polyline points="139.30,365.70 130.60,363.30"/><polyline points="223.75,150.00 227.50,152.00 255.00,147.00 223.75,150.00"/><polyline points="130.00,176.25 152.50,167.00 177.50,167.00 185.00,170.00 218.75,180.50 217.50,194.00 217.50,202.75 222.50,219.00 223.25,231.50 220.00,246.50 211.25,266.50 203.75,286.50 208.75,305.25 227.50,320.25 204.50,335.25 180.00,308.50 155.00,307.75 130.00,302.00"/><polyline points="346.25,58.00 355.00,63.75 375.00,75.00 395.00,80.50 425.00,82.50 457.50,86.25 459.50,100.00 461.25,120.00 473.00,148.00 459.50,163.75 450.00,167.00 405.00,172.50"/><polyline points="391.00,173.75 380.00,173.75 378.75,185.00 371.25,194.00 365.00,199.00 340.00,207.75 325.00,212.75 317.50,221.50 316.25,231.50 322.50,246.50 335.00,259.00 350.00,289.00 360.00,314.00 365.00,330.25 360.00,367.50 372.50,380.00 382.00,393.00 388.50,402.00"/><polyline points="393.00,409.60 393.60,414.80 399.40,420.00 400.00,427.30"/><polyline points="956.25,58.75 970.00,62.50"/><polyline points="982.50,68.75 993.75,74.25"/><polyline points="993.75,150.50 980.00,150.50"/><polyline points="965.00,150.75 950.00,152.50 968.75,172.00 935.00,177.50 920.00,180.50 897.50,194.00 887.50,200.25 880.00,212.75 886.25,226.00 870.00,238.50 845.00,241.50 835.00,251.50 833.00,286.50 820.00,296.50 812.50,307.75 797.50,321.50 782.50,330.00 771.25,336.25 747.50,341.25 722.50,342.00"/><polyline points="708.75,343.75 692.50,349.50 675.00,361.25 665.00,366.25 645.00,372.50 622.50,380.00 602.50,386.25 580.00,383.75 550.00,383.25 525.00,402.50 507.50,413.75 506.00,425.00 503.30,430.80 501.40,434.40 487.00,435.40 452.80,435.50 452.80,443.80"/><polyline points="681.25,451.25 681.25,443.75 685.00,436.25 690.00,430.00 697.50,425.00 715.00,418.75 698.75,411.25 673.75,411.25 665.00,412.00 645.00,421.25 622.50,428.75 600.00,410.00 575.00,404.50 550.00,406.25 538.75,415.00 536.25,425.00 537.50,435.00 531.25,440.00 532.50,450.00"/><polyline points="586.00,444.20 580.00,444.50 563.75,441.25 575.00,436.25 600.00,432.50 611.25,442.00 602.50,443.75"/><polyline points="803.75,455.00 817.50,451.25"/><polyline points="828.75,450.50 842.50,451.75 851.25,453.75"/><polyline points="993.75,352.00 968.75,368.75 942.50,372.50 930.00,381.25 920.00,391.25 902.00,406.25 903.75,418.75 917.50,431.25 920.00,440.00 906.25,445.00"/><polyline points="900.00,451.25 900.00,454.50"/><polyline points="145.00,413.75 145.00,405.00 157.50,392.50 175.00,385.50 185.00,386.25 211.25,398.75 212.50,412.50 213.75,420.50"/><polyline points="130.00,210.25 153.75,211.50 172.00,221.50 169.50,232.75 156.40,244.40"/><polyline points="140.80,250.40 130.00,252.00"/><polyline points="277.50,388.00 280.00,391.50 277.50,395.00 275.00,391.50 277.50,388.00"/><polyline points="371.00,422.50 379.00,422.50 375.00,429.00 371.00,422.50"/></g><g fill="none" stroke="#000" stroke-width="1.0" stroke-dasharray="2 3"><polyline points="395.00,209.00 407.50,205.25 427.50,197.75 427.50,192.50 445.00,182.50 462.50,178.25 480.00,177.50 500.00,175.75 510.00,165.00 530.00,153.25 545.00,151.25 552.50,147.50 565.00,125.00 575.00,115.50 590.00,111.25 602.50,107.50 620.00,92.50 645.00,77.50 660.00,73.00 665.00,70.00 675.00,68.00 692.50,67.00 702.50,68.00 722.50,71.25 737.50,77.50 750.00,82.00 765.00,88.75 780.00,95.00 805.00,97.50 825.00,98.75 840.00,101.25 862.50,105.50 882.50,109.50 897.50,112.50 912.50,116.25 925.00,120.75 935.00,123.75 946.25,126.75 953.75,129.50 942.50,130.50 927.50,132.50 910.00,135.00 887.50,138.75 865.00,143.75 840.00,147.50 825.00,151.25 818.75,153.75 818.75,157.50 822.50,167.50 826.25,177.50 830.00,190.00 825.00,194.00 815.00,204.00 810.00,219.00 797.50,234.00 782.50,249.00 765.00,264.00 747.50,276.50 732.50,286.50 722.50,299.00 707.50,306.50 695.00,316.50 680.00,326.50 670.00,330.25 665.00,329.00 635.00,324.00 620.00,316.50 605.00,289.00 601.25,269.00 597.50,246.50 600.00,222.75 585.00,219.75 550.00,219.00 542.50,220.25 530.00,239.00 518.75,254.00 515.00,264.00 517.50,276.50 522.50,297.75 523.75,301.50 510.00,292.75 495.00,291.00 470.00,297.75 445.00,306.50 430.00,309.50 415.00,299.00 402.50,280.25 395.00,271.50 377.50,259.00 365.00,246.50 358.75,234.00 362.50,224.00 372.50,216.50 395.00,209.00"/><polyline points="567.50,175.00 550.00,181.25 545.00,186.25 541.25,194.00 545.00,199.00 555.00,203.50 570.00,207.75 595.00,211.00 610.00,215.25 625.00,221.50 627.50,239.00 628.75,261.50 637.50,271.50 652.50,280.25 665.00,279.50 685.00,276.50 700.00,274.00 715.00,267.75 740.00,259.00 752.50,251.50 762.50,239.00 766.25,226.50 765.00,216.50 757.50,206.50 747.50,196.50 745.00,194.00 732.50,187.50 715.00,183.75 697.50,181.25 665.00,181.25 620.00,178.25 592.50,178.25"/><polyline points="670.00,219.40 681.00,217.20 690.70,218.40 701.00,220.50 710.80,223.30 718.00,227.50 714.70,231.50 708.90,238.50 694.00,241.50 678.40,242.50 673.90,242.50 666.10,237.60 664.80,232.40 664.80,227.50 666.50,223.30 670.00,219.40"/><polyline points="491.25,234.00 490.00,241.50 482.50,246.50 470.00,247.75 455.00,244.00 437.50,241.50 425.00,240.25 425.00,236.50 440.00,232.75 455.00,226.50 470.00,219.00 484.00,213.00 501.00,208.00"/></g>
<g font-size="11" style="fill:#000" text-anchor="middle"><text x="302.5" y="161.4" style="fill:#000">10</text><text x="398.0" y="176.4" style="fill:#000">0</text><text x="148.5" y="371.4" style="fill:#000">10</text><text x="149.6" y="250.3" style="fill:#000" transform="rotate(-12 149.6 246.4)">20</text><text x="578.5" y="179.9" style="fill:#000" textLength="21" lengthAdjust="spacingAndGlyphs">−10</text><text x="487.0" y="225.9" style="fill:#000" transform="rotate(52 487.0 222.0)" textLength="21" lengthAdjust="spacingAndGlyphs">−10</text><text x="392.5" y="408.4" style="fill:#000" transform="rotate(40 392.5 404.5)">0</text><text x="976.0" y="68.4" style="fill:#000" transform="rotate(15 976.0 64.5)">0</text><text x="972.5" y="153.9" style="fill:#000">0</text><text x="715.5" y="346.4" style="fill:#000">0</text><text x="593.0" y="447.9" style="fill:#000">10</text><text x="822.5" y="452.9" style="fill:#000">0</text><text x="902.0" y="450.4" style="fill:#000" transform="rotate(-70 902.0 446.5)">0</text></g>
<rect x="128" y="58" width="3" height="357" fill="#000"/>
<g stroke="#fff" stroke-width="1" fill="none" shape-rendering="crispEdges"><path d="M130.5 415 V460.5 H994.5 V57.5 H130"/><path d="M154.5 460 V456"/><path d="M179.5 460 V456"/><path d="M204.5 460 V456"/><path d="M228.5 460 V456"/><path d="M253.5 460 V452"/><path d="M278.5 460 V456"/><path d="M302.5 460 V456"/><path d="M327.5 460 V456"/><path d="M352.5 460 V456"/><path d="M376.5 460 V452"/><path d="M401.5 460 V456"/><path d="M426.5 460 V456"/><path d="M450.5 460 V456"/><path d="M475.5 460 V456"/><path d="M500.5 460 V452"/><path d="M524.5 460 V456"/><path d="M549.5 460 V456"/><path d="M574.5 460 V456"/><path d="M599.5 460 V456"/><path d="M623.5 460 V452"/><path d="M648.5 460 V456"/><path d="M673.5 460 V456"/><path d="M697.5 460 V456"/><path d="M722.5 460 V456"/><path d="M747.5 460 V452"/><path d="M771.5 460 V456"/><path d="M796.5 460 V456"/><path d="M821.5 460 V456"/><path d="M845.5 460 V456"/><path d="M870.5 460 V452"/><path d="M895.5 460 V456"/><path d="M919.5 460 V456"/><path d="M944.5 460 V456"/><path d="M969.5 460 V456"/><path d="M131 419.5 H139 M131 440.5 H139"/><path d="M130 500.5 H995"/></g>
<defs><linearGradient id="cb" x1="0" x2="1" y1="0" y2="0"><stop offset="0.00" stop-color="#000080"/><stop offset="0.02" stop-color="#000097"/><stop offset="0.04" stop-color="#0000ae"/><stop offset="0.06" stop-color="#0000c5"/><stop offset="0.08" stop-color="#0000dc"/><stop offset="0.10" stop-color="#0000f3"/><stop offset="0.12" stop-color="#0000ff"/><stop offset="0.14" stop-color="#000fff"/><stop offset="0.16" stop-color="#0024ff"/><stop offset="0.18" stop-color="#0038ff"/><stop offset="0.20" stop-color="#004dff"/><stop offset="0.22" stop-color="#0061ff"/><stop offset="0.24" stop-color="#0075ff"/><stop offset="0.26" stop-color="#008aff"/><stop offset="0.28" stop-color="#009eff"/><stop offset="0.30" stop-color="#00b2ff"/><stop offset="0.32" stop-color="#00c7ff"/><stop offset="0.34" stop-color="#00dbff"/><stop offset="0.36" stop-color="#08f0ef"/><stop offset="0.38" stop-color="#19ffde"/><stop offset="0.40" stop-color="#29ffce"/><stop offset="0.42" stop-color="#3affbd"/><stop offset="0.44" stop-color="#4affad"/><stop offset="0.46" stop-color="#5aff9c"/><stop offset="0.48" stop-color="#6bff8c"/><stop offset="0.50" stop-color="#7bff7b"/><stop offset="0.52" stop-color="#8cff6b"/><stop offset="0.54" stop-color="#9cff5a"/><stop offset="0.56" stop-color="#adff4a"/><stop offset="0.58" stop-color="#bdff3a"/><stop offset="0.60" stop-color="#ceff29"/><stop offset="0.62" stop-color="#deff19"/><stop offset="0.64" stop-color="#efff08"/><stop offset="0.66" stop-color="#ffec00"/><stop offset="0.68" stop-color="#ffd900"/><stop offset="0.70" stop-color="#ffc600"/><stop offset="0.72" stop-color="#ffb300"/><stop offset="0.74" stop-color="#ffa100"/><stop offset="0.76" stop-color="#ff8e00"/><stop offset="0.78" stop-color="#ff7b00"/><stop offset="0.80" stop-color="#ff6800"/><stop offset="0.82" stop-color="#ff5500"/><stop offset="0.84" stop-color="#ff4200"/><stop offset="0.86" stop-color="#ff2f00"/><stop offset="0.88" stop-color="#ff1c00"/><stop offset="0.90" stop-color="#f30900"/><stop offset="0.92" stop-color="#dc0000"/><stop offset="0.94" stop-color="#c50000"/><stop offset="0.96" stop-color="#ae0000"/><stop offset="0.98" stop-color="#970000"/><stop offset="1.00" stop-color="#800000"/></linearGradient></defs>
<rect x="130" y="501" width="868" height="6" fill="url(#cb)"/>
<text class="w" x="315.07" y="50.0" font-size="16.5" textLength="41.80" lengthAdjust="spacingAndGlyphs">LNOX</text><text class="w" x="365.90" y="50.0" font-size="16.5" textLength="97.70" lengthAdjust="spacingAndGlyphs">Longitudinal</text><text class="w" x="471.87" y="50.0" font-size="16.5" textLength="85.01" lengthAdjust="spacingAndGlyphs">X–Section</text><text class="w" x="564.84" y="50.0" font-size="16.5" textLength="38.19" lengthAdjust="spacingAndGlyphs">54hr</text><text class="w" x="619.74" y="50.0" font-size="16.5" textLength="17.59" lengthAdjust="spacingAndGlyphs">Fx</text><text class="w" x="646.00" y="50.0" font-size="16.5" textLength="39.02" lengthAdjust="spacingAndGlyphs">Valid</text><text class="w" x="693.44" y="50.0" font-size="16.5" textLength="30.02" lengthAdjust="spacingAndGlyphs">18Z</text><text class="w" x="732.87" y="50.0" font-size="16.5" textLength="83.31" lengthAdjust="spacingAndGlyphs">20250804</text><text class="w" x="140.30" y="562.0" font-size="21" textLength="72.58" lengthAdjust="spacingAndGlyphs">Toronto</text><text class="w" x="224.36" y="562.0" font-size="21" textLength="63.30" lengthAdjust="spacingAndGlyphs">(44°N)</text><text class="w" x="297.50" y="562.0" font-size="21" textLength="91.94" lengthAdjust="spacingAndGlyphs">Initialized</text><text class="w" x="400.93" y="562.0" font-size="21" textLength="35.15" lengthAdjust="spacingAndGlyphs">12Z</text><text class="w" x="446.91" y="562.0" font-size="21" textLength="101.86" lengthAdjust="spacingAndGlyphs">20250802</text><text class="w" x="111.61" y="479.0" font-size="14" textLength="36.18" lengthAdjust="spacingAndGlyphs">−115</text><text class="w" x="234.72" y="479.0" font-size="14" textLength="36.07" lengthAdjust="spacingAndGlyphs">−110</text><text class="w" x="358.61" y="479.0" font-size="14" textLength="36.17" lengthAdjust="spacingAndGlyphs">−105</text><text class="w" x="482.04" y="479.0" font-size="14" textLength="36.17" lengthAdjust="spacingAndGlyphs">−100</text><text class="w" x="609.74" y="479.0" font-size="14" textLength="27.85" lengthAdjust="spacingAndGlyphs">−95</text><text class="w" x="733.17" y="479.0" font-size="14" textLength="27.85" lengthAdjust="spacingAndGlyphs">−90</text><text class="w" x="856.60" y="479.0" font-size="14" textLength="27.85" lengthAdjust="spacingAndGlyphs">−85</text><text class="w" x="980.08" y="479.0" font-size="14" textLength="27.91" lengthAdjust="spacingAndGlyphs">−80</text><text class="w" x="108.72" y="66.0" font-size="14" textLength="16.80" lengthAdjust="spacingAndGlyphs">20</text><text class="w" x="109.89" y="163.0" font-size="14" textLength="15.69" lengthAdjust="spacingAndGlyphs">15</text><text class="w" x="109.89" y="264.0" font-size="14" textLength="15.69" lengthAdjust="spacingAndGlyphs">10</text><text class="w" x="116.48" y="365.0" font-size="14" textLength="9.49" lengthAdjust="spacingAndGlyphs">5</text><text class="w" x="117.80" y="461.0" font-size="14" textLength="8.58" lengthAdjust="spacingAndGlyphs">0</text><text class="w" x="125.70" y="525.0" font-size="14" textLength="8.47" lengthAdjust="spacingAndGlyphs">0</text><text class="w" x="293.69" y="525.0" font-size="14" textLength="17.25" lengthAdjust="spacingAndGlyphs">50</text><text class="w" x="462.94" y="525.0" font-size="14" textLength="24.74" lengthAdjust="spacingAndGlyphs">100</text><text class="w" x="636.09" y="525.0" font-size="14" textLength="24.74" lengthAdjust="spacingAndGlyphs">150</text><text class="w" x="809.19" y="525.0" font-size="14" textLength="24.74" lengthAdjust="spacingAndGlyphs">200</text><text class="w" x="980.60" y="525.0" font-size="14" textLength="25.80" lengthAdjust="spacingAndGlyphs">250</text><text class="w" x="529.64" y="494.0" font-size="13.5" textLength="62.89" lengthAdjust="spacingAndGlyphs">Longitude</text><text class="w" x="525.60" y="539.5" font-size="13.5" textLength="71.93" lengthAdjust="spacingAndGlyphs">(pptv/day)</text><text class="w" transform="translate(98.5 302) rotate(-90)" x="0" y="0" font-size="14" textLength="85" lengthAdjust="spacingAndGlyphs">Altitude (km)</text>
</svg></body></html>
